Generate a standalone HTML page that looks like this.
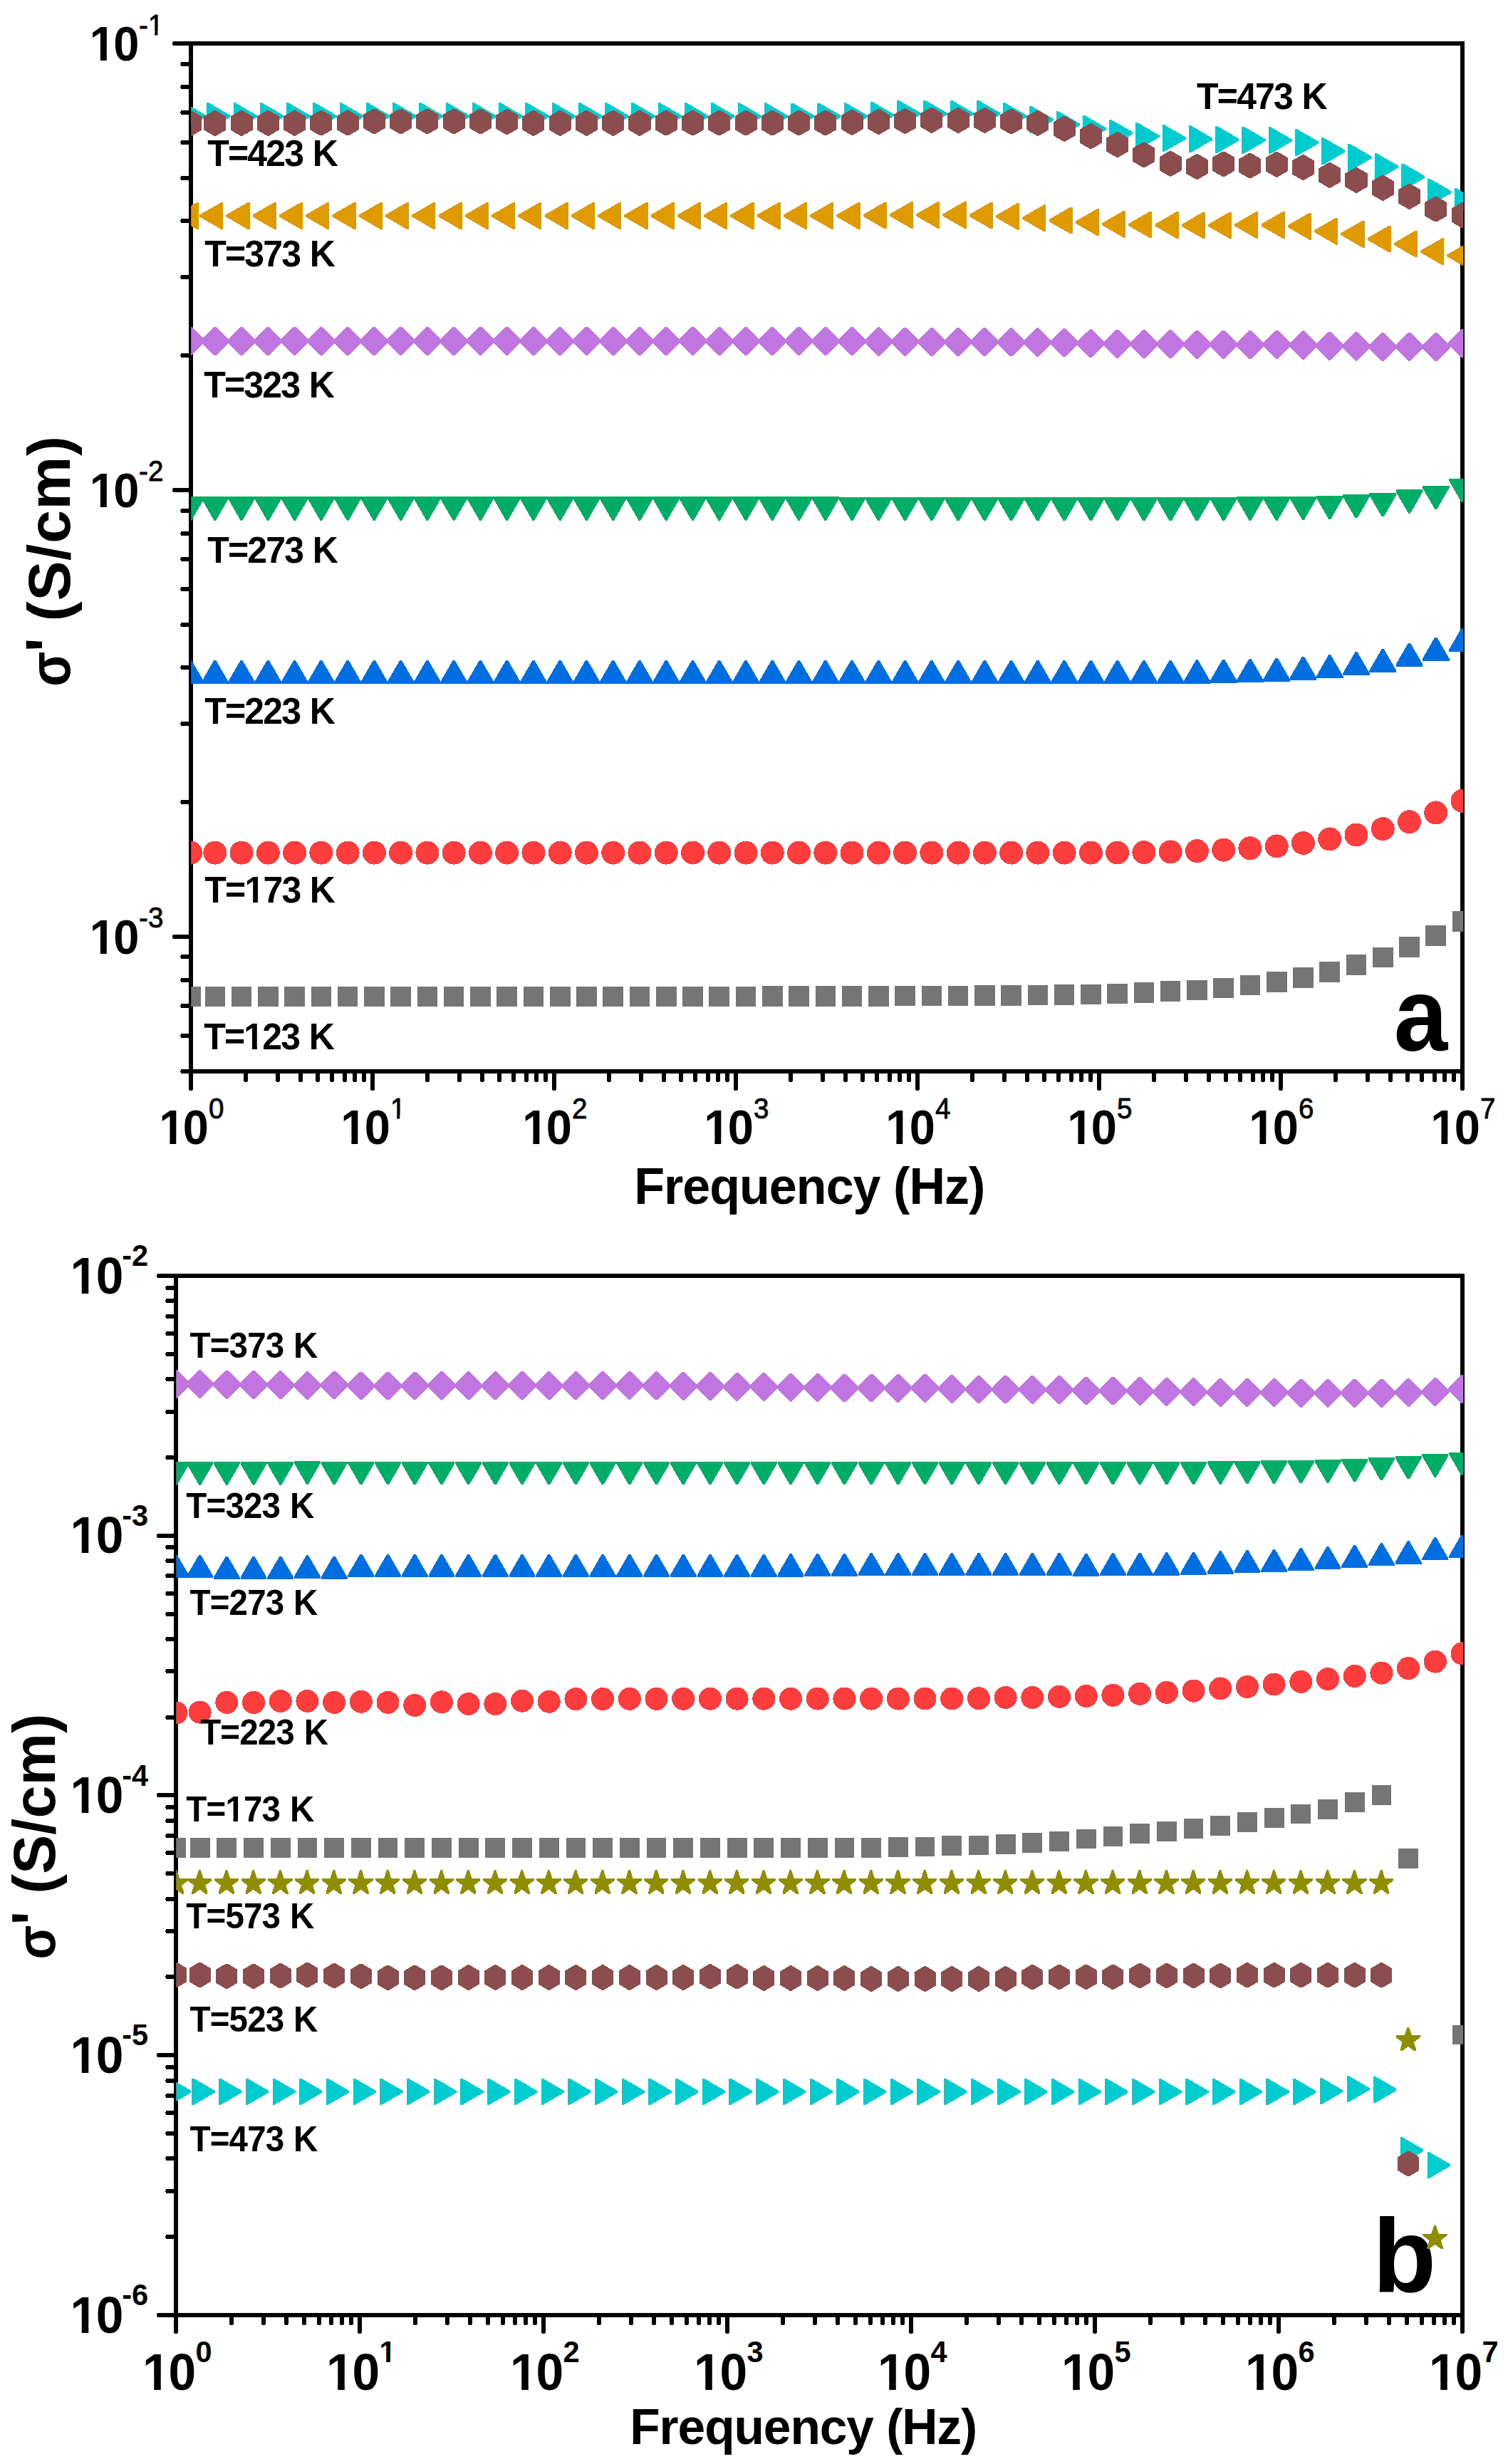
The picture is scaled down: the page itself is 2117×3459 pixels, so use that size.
<!DOCTYPE html>
<html><head><meta charset="utf-8"><title>Conductivity vs frequency</title>
<style>html,body{margin:0;padding:0;background:#fff}svg{display:block}text{font-family:'Liberation Sans',Arial,Helvetica,sans-serif;fill:#000;font-kerning:none;white-space:pre}.b{font-weight:bold}.r{stroke:#000;stroke-width:.8px}</style></head><body>
<svg width="2117" height="3459" viewBox="0 0 2117 3459">
<rect width="2117" height="3459" fill="#fff"/>
<defs><clipPath id="ca"><rect x="268.2" y="61" width="1786.1" height="1443"/></clipPath>
<clipPath id="cb"><rect x="247.2" y="1791" width="1807.1" height="1459"/></clipPath></defs>
<g stroke="#000" stroke-width="6" fill="none" stroke-linecap="round" shape-rendering="crispEdges">
<line x1="268" y1="61" x2="244.5" y2="61"/>
<line x1="268" y1="688" x2="244.5" y2="688"/>
<line x1="268" y1="1315" x2="244.5" y2="1315"/>
<line x1="268" y1="499" x2="256.3" y2="499"/>
<line x1="268" y1="389" x2="256.3" y2="389"/>
<line x1="268" y1="310" x2="256.3" y2="310"/>
<line x1="268" y1="250" x2="256.3" y2="250"/>
<line x1="268" y1="200" x2="256.3" y2="200"/>
<line x1="268" y1="158" x2="256.3" y2="158"/>
<line x1="268" y1="122" x2="256.3" y2="122"/>
<line x1="268" y1="90" x2="256.3" y2="90"/>
<line x1="268" y1="1126" x2="256.3" y2="1126"/>
<line x1="268" y1="1016" x2="256.3" y2="1016"/>
<line x1="268" y1="937" x2="256.3" y2="937"/>
<line x1="268" y1="877" x2="256.3" y2="877"/>
<line x1="268" y1="827" x2="256.3" y2="827"/>
<line x1="268" y1="785" x2="256.3" y2="785"/>
<line x1="268" y1="749" x2="256.3" y2="749"/>
<line x1="268" y1="717" x2="256.3" y2="717"/>
<line x1="268" y1="1504" x2="256.3" y2="1504"/>
<line x1="268" y1="1454" x2="256.3" y2="1454"/>
<line x1="268" y1="1412" x2="256.3" y2="1412"/>
<line x1="268" y1="1376" x2="256.3" y2="1376"/>
<line x1="268" y1="1343" x2="256.3" y2="1343"/>
<line x1="268" y1="1504" x2="268" y2="1528.4"/>
<line x1="345" y1="1504" x2="345" y2="1516"/>
<line x1="390" y1="1504" x2="390" y2="1516"/>
<line x1="422" y1="1504" x2="422" y2="1516"/>
<line x1="446" y1="1504" x2="446" y2="1516"/>
<line x1="466" y1="1504" x2="466" y2="1516"/>
<line x1="484" y1="1504" x2="484" y2="1516"/>
<line x1="498" y1="1504" x2="498" y2="1516"/>
<line x1="511" y1="1504" x2="511" y2="1516"/>
<line x1="523" y1="1504" x2="523" y2="1528.4"/>
<line x1="600" y1="1504" x2="600" y2="1516"/>
<line x1="645" y1="1504" x2="645" y2="1516"/>
<line x1="677" y1="1504" x2="677" y2="1516"/>
<line x1="701" y1="1504" x2="701" y2="1516"/>
<line x1="721" y1="1504" x2="721" y2="1516"/>
<line x1="739" y1="1504" x2="739" y2="1516"/>
<line x1="753" y1="1504" x2="753" y2="1516"/>
<line x1="766" y1="1504" x2="766" y2="1516"/>
<line x1="778" y1="1504" x2="778" y2="1528.4"/>
<line x1="855" y1="1504" x2="855" y2="1516"/>
<line x1="900" y1="1504" x2="900" y2="1516"/>
<line x1="932" y1="1504" x2="932" y2="1516"/>
<line x1="956" y1="1504" x2="956" y2="1516"/>
<line x1="976" y1="1504" x2="976" y2="1516"/>
<line x1="994" y1="1504" x2="994" y2="1516"/>
<line x1="1008" y1="1504" x2="1008" y2="1516"/>
<line x1="1021" y1="1504" x2="1021" y2="1516"/>
<line x1="1033" y1="1504" x2="1033" y2="1528.4"/>
<line x1="1110" y1="1504" x2="1110" y2="1516"/>
<line x1="1155" y1="1504" x2="1155" y2="1516"/>
<line x1="1187" y1="1504" x2="1187" y2="1516"/>
<line x1="1211" y1="1504" x2="1211" y2="1516"/>
<line x1="1231" y1="1504" x2="1231" y2="1516"/>
<line x1="1249" y1="1504" x2="1249" y2="1516"/>
<line x1="1263" y1="1504" x2="1263" y2="1516"/>
<line x1="1276" y1="1504" x2="1276" y2="1516"/>
<line x1="1288" y1="1504" x2="1288" y2="1528.4"/>
<line x1="1365" y1="1504" x2="1365" y2="1516"/>
<line x1="1410" y1="1504" x2="1410" y2="1516"/>
<line x1="1442" y1="1504" x2="1442" y2="1516"/>
<line x1="1466" y1="1504" x2="1466" y2="1516"/>
<line x1="1486" y1="1504" x2="1486" y2="1516"/>
<line x1="1504" y1="1504" x2="1504" y2="1516"/>
<line x1="1518" y1="1504" x2="1518" y2="1516"/>
<line x1="1531" y1="1504" x2="1531" y2="1516"/>
<line x1="1543" y1="1504" x2="1543" y2="1528.4"/>
<line x1="1620" y1="1504" x2="1620" y2="1516"/>
<line x1="1665" y1="1504" x2="1665" y2="1516"/>
<line x1="1697" y1="1504" x2="1697" y2="1516"/>
<line x1="1721" y1="1504" x2="1721" y2="1516"/>
<line x1="1741" y1="1504" x2="1741" y2="1516"/>
<line x1="1759" y1="1504" x2="1759" y2="1516"/>
<line x1="1773" y1="1504" x2="1773" y2="1516"/>
<line x1="1786" y1="1504" x2="1786" y2="1516"/>
<line x1="1798" y1="1504" x2="1798" y2="1528.4"/>
<line x1="1875" y1="1504" x2="1875" y2="1516"/>
<line x1="1920" y1="1504" x2="1920" y2="1516"/>
<line x1="1952" y1="1504" x2="1952" y2="1516"/>
<line x1="1976" y1="1504" x2="1976" y2="1516"/>
<line x1="1996" y1="1504" x2="1996" y2="1516"/>
<line x1="2014" y1="1504" x2="2014" y2="1516"/>
<line x1="2028" y1="1504" x2="2028" y2="1516"/>
<line x1="2041" y1="1504" x2="2041" y2="1516"/>
<line x1="2053" y1="1504" x2="2053" y2="1528.4"/>
</g>
<rect x="268" y="61" width="1785" height="1443" fill="none" stroke="#000" stroke-width="6" shape-rendering="crispEdges"/>
<g transform="translate(1960.7,1475.2) scale(0.93,1)"><text class="b" x="-4.2" y="0" font-size="146">a</text></g>
<text class="b" x="1927.1" y="3216.7" font-size="146">b</text>
<g clip-path="url(#ca)" shape-rendering="crispEdges">
<rect x="253.3" y="1384.6" width="28.6" height="28.6" fill="#757575"/>
<rect x="287.5" y="1384.6" width="28.6" height="28.6" fill="#757575"/>
<rect x="324.7" y="1384.6" width="28.6" height="28.6" fill="#757575"/>
<rect x="362" y="1384.6" width="28.6" height="28.6" fill="#757575"/>
<rect x="399.3" y="1384.6" width="28.6" height="28.6" fill="#757575"/>
<rect x="436.5" y="1384.6" width="28.6" height="28.6" fill="#757575"/>
<rect x="473.8" y="1384.6" width="28.6" height="28.6" fill="#757575"/>
<rect x="511" y="1384.6" width="28.6" height="28.6" fill="#757575"/>
<rect x="548.3" y="1384.6" width="28.6" height="28.6" fill="#757575"/>
<rect x="585.6" y="1384.6" width="28.6" height="28.6" fill="#757575"/>
<rect x="622.8" y="1384.6" width="28.6" height="28.6" fill="#757575"/>
<rect x="660.1" y="1384.6" width="28.6" height="28.6" fill="#757575"/>
<rect x="697.3" y="1384.6" width="28.6" height="28.6" fill="#757575"/>
<rect x="734.6" y="1384.6" width="28.6" height="28.6" fill="#757575"/>
<rect x="771.9" y="1384.6" width="28.6" height="28.6" fill="#757575"/>
<rect x="809.1" y="1384.6" width="28.6" height="28.6" fill="#757575"/>
<rect x="846.4" y="1384.6" width="28.6" height="28.6" fill="#757575"/>
<rect x="883.6" y="1384.6" width="28.6" height="28.6" fill="#757575"/>
<rect x="920.9" y="1384.6" width="28.6" height="28.6" fill="#757575"/>
<rect x="958.2" y="1384.6" width="28.6" height="28.6" fill="#757575"/>
<rect x="995.4" y="1384.6" width="28.6" height="28.6" fill="#757575"/>
<rect x="1032.7" y="1384.5" width="28.6" height="28.6" fill="#757575"/>
<rect x="1069.9" y="1384.4" width="28.6" height="28.6" fill="#757575"/>
<rect x="1107.2" y="1384.3" width="28.6" height="28.6" fill="#757575"/>
<rect x="1144.5" y="1384.2" width="28.6" height="28.6" fill="#757575"/>
<rect x="1181.7" y="1384" width="28.6" height="28.6" fill="#757575"/>
<rect x="1219" y="1383.9" width="28.6" height="28.6" fill="#757575"/>
<rect x="1256.2" y="1383.8" width="28.6" height="28.6" fill="#757575"/>
<rect x="1293.5" y="1383.7" width="28.6" height="28.6" fill="#757575"/>
<rect x="1330.8" y="1383.5" width="28.6" height="28.6" fill="#757575"/>
<rect x="1368" y="1383.2" width="28.6" height="28.6" fill="#757575"/>
<rect x="1405.3" y="1382.9" width="28.6" height="28.6" fill="#757575"/>
<rect x="1442.5" y="1382.6" width="28.6" height="28.6" fill="#757575"/>
<rect x="1479.8" y="1382.1" width="28.6" height="28.6" fill="#757575"/>
<rect x="1517.1" y="1381.6" width="28.6" height="28.6" fill="#757575"/>
<rect x="1554.3" y="1380.5" width="28.6" height="28.6" fill="#757575"/>
<rect x="1591.6" y="1379.4" width="28.6" height="28.6" fill="#757575"/>
<rect x="1628.8" y="1377.3" width="28.6" height="28.6" fill="#757575"/>
<rect x="1666.1" y="1375.7" width="28.6" height="28.6" fill="#757575"/>
<rect x="1703.4" y="1372.5" width="28.6" height="28.6" fill="#757575"/>
<rect x="1740.6" y="1368.8" width="28.6" height="28.6" fill="#757575"/>
<rect x="1777.9" y="1364.1" width="28.6" height="28.6" fill="#757575"/>
<rect x="1815.1" y="1358" width="28.6" height="28.6" fill="#757575"/>
<rect x="1852.4" y="1350.3" width="28.6" height="28.6" fill="#757575"/>
<rect x="1889.7" y="1340.2" width="28.6" height="28.6" fill="#757575"/>
<rect x="1926.9" y="1329.6" width="28.6" height="28.6" fill="#757575"/>
<rect x="1964.2" y="1315.2" width="28.6" height="28.6" fill="#757575"/>
<rect x="2001.4" y="1299.3" width="28.6" height="28.6" fill="#757575"/>
<rect x="2038.7" y="1279.2" width="28.6" height="28.6" fill="#757575"/>
<circle cx="267.6" cy="1197.1" r="16.5" fill="#FD3D3D"/>
<circle cx="301.8" cy="1197.1" r="16.5" fill="#FD3D3D"/>
<circle cx="339" cy="1197.1" r="16.5" fill="#FD3D3D"/>
<circle cx="376.3" cy="1197.1" r="16.5" fill="#FD3D3D"/>
<circle cx="413.6" cy="1197.1" r="16.5" fill="#FD3D3D"/>
<circle cx="450.8" cy="1197.1" r="16.5" fill="#FD3D3D"/>
<circle cx="488.1" cy="1197.1" r="16.5" fill="#FD3D3D"/>
<circle cx="525.3" cy="1197.1" r="16.5" fill="#FD3D3D"/>
<circle cx="562.6" cy="1197.1" r="16.5" fill="#FD3D3D"/>
<circle cx="599.9" cy="1197.1" r="16.5" fill="#FD3D3D"/>
<circle cx="637.1" cy="1197.1" r="16.5" fill="#FD3D3D"/>
<circle cx="674.4" cy="1197.1" r="16.5" fill="#FD3D3D"/>
<circle cx="711.6" cy="1197.1" r="16.5" fill="#FD3D3D"/>
<circle cx="748.9" cy="1197.1" r="16.5" fill="#FD3D3D"/>
<circle cx="786.2" cy="1197.1" r="16.5" fill="#FD3D3D"/>
<circle cx="823.4" cy="1197.1" r="16.5" fill="#FD3D3D"/>
<circle cx="860.7" cy="1197.1" r="16.5" fill="#FD3D3D"/>
<circle cx="897.9" cy="1197.1" r="16.5" fill="#FD3D3D"/>
<circle cx="935.2" cy="1197.1" r="16.5" fill="#FD3D3D"/>
<circle cx="972.5" cy="1197.1" r="16.5" fill="#FD3D3D"/>
<circle cx="1009.7" cy="1197.1" r="16.5" fill="#FD3D3D"/>
<circle cx="1047" cy="1197.1" r="16.5" fill="#FD3D3D"/>
<circle cx="1084.2" cy="1197.1" r="16.5" fill="#FD3D3D"/>
<circle cx="1121.5" cy="1197.1" r="16.5" fill="#FD3D3D"/>
<circle cx="1158.8" cy="1197.1" r="16.5" fill="#FD3D3D"/>
<circle cx="1196" cy="1197.1" r="16.5" fill="#FD3D3D"/>
<circle cx="1233.3" cy="1197.1" r="16.5" fill="#FD3D3D"/>
<circle cx="1270.5" cy="1197.1" r="16.5" fill="#FD3D3D"/>
<circle cx="1307.8" cy="1197.1" r="16.5" fill="#FD3D3D"/>
<circle cx="1345.1" cy="1197.1" r="16.5" fill="#FD3D3D"/>
<circle cx="1382.3" cy="1197.1" r="16.5" fill="#FD3D3D"/>
<circle cx="1419.6" cy="1197.1" r="16.5" fill="#FD3D3D"/>
<circle cx="1456.8" cy="1197.1" r="16.5" fill="#FD3D3D"/>
<circle cx="1494.1" cy="1197.1" r="16.5" fill="#FD3D3D"/>
<circle cx="1531.4" cy="1197.1" r="16.5" fill="#FD3D3D"/>
<circle cx="1568.6" cy="1197" r="16.5" fill="#FD3D3D"/>
<circle cx="1605.9" cy="1196.6" r="16.5" fill="#FD3D3D"/>
<circle cx="1643.1" cy="1195.9" r="16.5" fill="#FD3D3D"/>
<circle cx="1680.4" cy="1194.7" r="16.5" fill="#FD3D3D"/>
<circle cx="1717.7" cy="1193.1" r="16.5" fill="#FD3D3D"/>
<circle cx="1754.9" cy="1190.7" r="16.5" fill="#FD3D3D"/>
<circle cx="1792.2" cy="1187.9" r="16.5" fill="#FD3D3D"/>
<circle cx="1829.4" cy="1183.5" r="16.5" fill="#FD3D3D"/>
<circle cx="1866.7" cy="1177.9" r="16.5" fill="#FD3D3D"/>
<circle cx="1904" cy="1172" r="16.5" fill="#FD3D3D"/>
<circle cx="1941.2" cy="1163.6" r="16.5" fill="#FD3D3D"/>
<circle cx="1978.5" cy="1153.7" r="16.5" fill="#FD3D3D"/>
<circle cx="2015.7" cy="1140.9" r="16.5" fill="#FD3D3D"/>
<circle cx="2053" cy="1124.2" r="16.5" fill="#FD3D3D"/>
<polygon points="248.7,957.2 266.2,926.9 269,926.9 286.5,957.2 286.5,960 248.7,960" fill="#006EE0"/>
<polygon points="282.8,957.2 300.4,926.9 303.2,926.9 320.7,957.2 320.7,960 282.8,960" fill="#006EE0"/>
<polygon points="320.1,957.2 337.6,926.9 340.4,926.9 358,957.2 358,960 320.1,960" fill="#006EE0"/>
<polygon points="357.4,957.2 374.9,926.9 377.7,926.9 395.2,957.2 395.2,960 357.4,960" fill="#006EE0"/>
<polygon points="394.6,957.2 412.2,926.9 415,926.9 432.5,957.2 432.5,960 394.6,960" fill="#006EE0"/>
<polygon points="431.9,957.2 449.4,926.9 452.2,926.9 469.8,957.2 469.8,960 431.9,960" fill="#006EE0"/>
<polygon points="469.1,957.2 486.7,926.9 489.5,926.9 507,957.2 507,960 469.1,960" fill="#006EE0"/>
<polygon points="506.4,957.2 523.9,926.9 526.7,926.9 544.3,957.2 544.3,960 506.4,960" fill="#006EE0"/>
<polygon points="543.7,957.2 561.2,926.9 564,926.9 581.5,957.2 581.5,960 543.7,960" fill="#006EE0"/>
<polygon points="580.9,957.2 598.5,926.9 601.3,926.9 618.8,957.2 618.8,960 580.9,960" fill="#006EE0"/>
<polygon points="618.2,957.2 635.7,926.9 638.5,926.9 656.1,957.2 656.1,960 618.2,960" fill="#006EE0"/>
<polygon points="655.4,957.2 673,926.9 675.8,926.9 693.3,957.2 693.3,960 655.4,960" fill="#006EE0"/>
<polygon points="692.7,957.2 710.2,926.9 713,926.9 730.6,957.2 730.6,960 692.7,960" fill="#006EE0"/>
<polygon points="730,957.2 747.5,926.9 750.3,926.9 767.8,957.2 767.8,960 730,960" fill="#006EE0"/>
<polygon points="767.2,957.2 784.8,926.9 787.6,926.9 805.1,957.2 805.1,960 767.2,960" fill="#006EE0"/>
<polygon points="804.5,957.2 822,926.9 824.8,926.9 842.4,957.2 842.4,960 804.5,960" fill="#006EE0"/>
<polygon points="841.7,957.2 859.3,926.9 862.1,926.9 879.6,957.2 879.6,960 841.7,960" fill="#006EE0"/>
<polygon points="879,957.2 896.5,926.9 899.3,926.9 916.9,957.2 916.9,960 879,960" fill="#006EE0"/>
<polygon points="916.3,957.2 933.8,926.9 936.6,926.9 954.1,957.2 954.1,960 916.3,960" fill="#006EE0"/>
<polygon points="953.5,957.2 971.1,926.9 973.9,926.9 991.4,957.2 991.4,960 953.5,960" fill="#006EE0"/>
<polygon points="990.8,957.2 1008.3,926.9 1011.1,926.9 1028.7,957.2 1028.7,960 990.8,960" fill="#006EE0"/>
<polygon points="1028,957.2 1045.6,926.9 1048.4,926.9 1065.9,957.2 1065.9,960 1028,960" fill="#006EE0"/>
<polygon points="1065.3,957.2 1082.8,926.9 1085.6,926.9 1103.2,957.2 1103.2,960 1065.3,960" fill="#006EE0"/>
<polygon points="1102.6,957.2 1120.1,926.9 1122.9,926.9 1140.4,957.2 1140.4,960 1102.6,960" fill="#006EE0"/>
<polygon points="1139.8,957.2 1157.4,926.9 1160.2,926.9 1177.7,957.2 1177.7,960 1139.8,960" fill="#006EE0"/>
<polygon points="1177.1,957.2 1194.6,926.9 1197.4,926.9 1215,957.2 1215,960 1177.1,960" fill="#006EE0"/>
<polygon points="1214.3,957.2 1231.9,926.9 1234.7,926.9 1252.2,957.2 1252.2,960 1214.3,960" fill="#006EE0"/>
<polygon points="1251.6,957.2 1269.1,926.9 1271.9,926.9 1289.5,957.2 1289.5,960 1251.6,960" fill="#006EE0"/>
<polygon points="1288.9,957.2 1306.4,926.9 1309.2,926.9 1326.7,957.2 1326.7,960 1288.9,960" fill="#006EE0"/>
<polygon points="1326.1,957.2 1343.7,926.9 1346.5,926.9 1364,957.2 1364,960 1326.1,960" fill="#006EE0"/>
<polygon points="1363.4,957.2 1380.9,926.9 1383.7,926.9 1401.3,957.2 1401.3,960 1363.4,960" fill="#006EE0"/>
<polygon points="1400.6,957.2 1418.2,926.9 1421,926.9 1438.5,957.2 1438.5,960 1400.6,960" fill="#006EE0"/>
<polygon points="1437.9,957.2 1455.4,926.9 1458.2,926.9 1475.8,957.2 1475.8,960 1437.9,960" fill="#006EE0"/>
<polygon points="1475.2,957.2 1492.7,926.9 1495.5,926.9 1513,957.2 1513,960 1475.2,960" fill="#006EE0"/>
<polygon points="1512.4,957.2 1530,926.9 1532.8,926.9 1550.3,957.2 1550.3,960 1512.4,960" fill="#006EE0"/>
<polygon points="1549.7,957.2 1567.2,926.9 1570,926.9 1587.6,957.2 1587.6,960 1549.7,960" fill="#006EE0"/>
<polygon points="1586.9,957.2 1604.5,926.9 1607.3,926.9 1624.8,957.2 1624.8,960 1586.9,960" fill="#006EE0"/>
<polygon points="1624.2,957.1 1641.7,926.8 1644.5,926.8 1662.1,957.1 1662.1,959.9 1624.2,959.9" fill="#006EE0"/>
<polygon points="1661.5,956.7 1679,926.4 1681.8,926.4 1699.3,956.7 1699.3,959.5 1661.5,959.5" fill="#006EE0"/>
<polygon points="1698.7,955.9 1716.3,925.5 1719.1,925.5 1736.6,955.9 1736.6,958.7 1698.7,958.7" fill="#006EE0"/>
<polygon points="1736,955.1 1753.5,924.8 1756.3,924.8 1773.9,955.1 1773.9,957.9 1736,957.9" fill="#006EE0"/>
<polygon points="1773.2,953.9 1790.8,923.5 1793.6,923.5 1811.1,953.9 1811.1,956.7 1773.2,956.7" fill="#006EE0"/>
<polygon points="1810.5,951.9 1828,921.5 1830.8,921.5 1848.4,951.9 1848.4,954.7 1810.5,954.7" fill="#006EE0"/>
<polygon points="1847.8,949.5 1865.3,919.1 1868.1,919.1 1885.6,949.5 1885.6,952.3 1847.8,952.3" fill="#006EE0"/>
<polygon points="1885,945.5 1902.6,915.1 1905.4,915.1 1922.9,945.5 1922.9,948.3 1885,948.3" fill="#006EE0"/>
<polygon points="1922.3,941.2 1939.8,910.9 1942.6,910.9 1960.2,941.2 1960.2,944 1922.3,944" fill="#006EE0"/>
<polygon points="1959.5,932.8 1977.1,902.5 1979.9,902.5 1997.4,932.8 1997.4,935.6 1959.5,935.6" fill="#006EE0"/>
<polygon points="1996.8,924.8 2014.3,894.5 2017.1,894.5 2034.7,924.8 2034.7,927.6 1996.8,927.6" fill="#006EE0"/>
<polygon points="2034.1,912.1 2051.6,881.8 2054.4,881.8 2071.9,912.1 2071.9,914.9 2034.1,914.9" fill="#006EE0"/>
<polygon points="248.7,697.3 286.5,697.3 286.5,700.1 269,730.5 266.2,730.5 248.7,700.1" fill="#00AD66"/>
<polygon points="282.8,697.3 320.7,697.3 320.7,700.1 303.2,730.5 300.4,730.5 282.8,700.1" fill="#00AD66"/>
<polygon points="320.1,697.3 358,697.3 358,700.1 340.4,730.5 337.6,730.5 320.1,700.1" fill="#00AD66"/>
<polygon points="357.4,697.3 395.2,697.3 395.2,700.1 377.7,730.5 374.9,730.5 357.4,700.1" fill="#00AD66"/>
<polygon points="394.6,697.3 432.5,697.3 432.5,700.1 415,730.5 412.2,730.5 394.6,700.1" fill="#00AD66"/>
<polygon points="431.9,697.3 469.8,697.3 469.8,700.1 452.2,730.5 449.4,730.5 431.9,700.1" fill="#00AD66"/>
<polygon points="469.1,697.3 507,697.3 507,700.1 489.5,730.5 486.7,730.5 469.1,700.1" fill="#00AD66"/>
<polygon points="506.4,697.3 544.3,697.3 544.3,700.1 526.7,730.5 523.9,730.5 506.4,700.1" fill="#00AD66"/>
<polygon points="543.7,697.3 581.5,697.3 581.5,700.1 564,730.5 561.2,730.5 543.7,700.1" fill="#00AD66"/>
<polygon points="580.9,697.3 618.8,697.3 618.8,700.1 601.3,730.5 598.5,730.5 580.9,700.1" fill="#00AD66"/>
<polygon points="618.2,697.3 656.1,697.3 656.1,700.1 638.5,730.5 635.7,730.5 618.2,700.1" fill="#00AD66"/>
<polygon points="655.4,697.3 693.3,697.3 693.3,700.1 675.8,730.5 673,730.5 655.4,700.1" fill="#00AD66"/>
<polygon points="692.7,697.3 730.6,697.3 730.6,700.1 713,730.5 710.2,730.5 692.7,700.1" fill="#00AD66"/>
<polygon points="730,697.3 767.8,697.3 767.8,700.1 750.3,730.5 747.5,730.5 730,700.1" fill="#00AD66"/>
<polygon points="767.2,697.3 805.1,697.3 805.1,700.1 787.6,730.5 784.8,730.5 767.2,700.1" fill="#00AD66"/>
<polygon points="804.5,697.3 842.4,697.3 842.4,700.1 824.8,730.5 822,730.5 804.5,700.1" fill="#00AD66"/>
<polygon points="841.7,697.3 879.6,697.3 879.6,700.1 862.1,730.5 859.3,730.5 841.7,700.1" fill="#00AD66"/>
<polygon points="879,697.3 916.9,697.3 916.9,700.1 899.3,730.5 896.5,730.5 879,700.1" fill="#00AD66"/>
<polygon points="916.3,697.4 954.1,697.4 954.1,700.1 936.6,730.5 933.8,730.5 916.3,700.1" fill="#00AD66"/>
<polygon points="953.5,697.4 991.4,697.4 991.4,700.2 973.9,730.5 971.1,730.5 953.5,700.2" fill="#00AD66"/>
<polygon points="990.8,697.4 1028.7,697.4 1028.7,700.2 1011.1,730.5 1008.3,730.5 990.8,700.2" fill="#00AD66"/>
<polygon points="1028,697.4 1065.9,697.4 1065.9,700.2 1048.4,730.5 1045.6,730.5 1028,700.2" fill="#00AD66"/>
<polygon points="1065.3,697.4 1103.2,697.4 1103.2,700.2 1085.6,730.5 1082.8,730.5 1065.3,700.2" fill="#00AD66"/>
<polygon points="1102.6,697.4 1140.4,697.4 1140.4,700.2 1122.9,730.5 1120.1,730.5 1102.6,700.2" fill="#00AD66"/>
<polygon points="1139.8,697.4 1177.7,697.4 1177.7,700.2 1160.2,730.5 1157.4,730.5 1139.8,700.2" fill="#00AD66"/>
<polygon points="1177.1,697.5 1215,697.5 1215,700.3 1197.4,730.7 1194.6,730.7 1177.1,700.3" fill="#00AD66"/>
<polygon points="1214.3,697.6 1252.2,697.6 1252.2,700.4 1234.7,730.8 1231.9,730.8 1214.3,700.4" fill="#00AD66"/>
<polygon points="1251.6,697.8 1289.5,697.8 1289.5,700.5 1271.9,730.9 1269.1,730.9 1251.6,700.5" fill="#00AD66"/>
<polygon points="1288.9,697.9 1326.7,697.9 1326.7,700.7 1309.2,731 1306.4,731 1288.9,700.7" fill="#00AD66"/>
<polygon points="1326.1,697.9 1364,697.9 1364,700.7 1346.5,731.1 1343.7,731.1 1326.1,700.7" fill="#00AD66"/>
<polygon points="1363.4,697.9 1401.3,697.9 1401.3,700.7 1383.7,731.1 1380.9,731.1 1363.4,700.7" fill="#00AD66"/>
<polygon points="1400.6,698 1438.5,698 1438.5,700.8 1421,731.1 1418.2,731.1 1400.6,700.8" fill="#00AD66"/>
<polygon points="1437.9,698 1475.8,698 1475.8,700.8 1458.2,731.2 1455.4,731.2 1437.9,700.8" fill="#00AD66"/>
<polygon points="1475.2,698 1513,698 1513,700.8 1495.5,731.2 1492.7,731.2 1475.2,700.8" fill="#00AD66"/>
<polygon points="1512.4,698.1 1550.3,698.1 1550.3,700.9 1532.8,731.2 1530,731.2 1512.4,700.9" fill="#00AD66"/>
<polygon points="1549.7,698.1 1587.6,698.1 1587.6,700.9 1570,731.3 1567.2,731.3 1549.7,700.9" fill="#00AD66"/>
<polygon points="1586.9,698.1 1624.8,698.1 1624.8,700.9 1607.3,731.3 1604.5,731.3 1586.9,700.9" fill="#00AD66"/>
<polygon points="1624.2,698.1 1662.1,698.1 1662.1,700.9 1644.5,731.3 1641.7,731.3 1624.2,700.9" fill="#00AD66"/>
<polygon points="1661.5,698.2 1699.3,698.2 1699.3,701 1681.8,731.4 1679,731.4 1661.5,701" fill="#00AD66"/>
<polygon points="1698.7,697.8 1736.6,697.8 1736.6,700.6 1719.1,731 1716.3,731 1698.7,700.6" fill="#00AD66"/>
<polygon points="1736,697.4 1773.9,697.4 1773.9,700.2 1756.3,730.5 1753.5,730.5 1736,700.2" fill="#00AD66"/>
<polygon points="1773.2,697.4 1811.1,697.4 1811.1,700.2 1793.6,730.5 1790.8,730.5 1773.2,700.2" fill="#00AD66"/>
<polygon points="1810.5,696.6 1848.4,696.6 1848.4,699.4 1830.8,729.8 1828,729.8 1810.5,699.4" fill="#00AD66"/>
<polygon points="1847.8,695.8 1885.6,695.8 1885.6,698.6 1868.1,729 1865.3,729 1847.8,698.6" fill="#00AD66"/>
<polygon points="1885,694.2 1922.9,694.2 1922.9,697 1905.4,727.4 1902.6,727.4 1885,697" fill="#00AD66"/>
<polygon points="1922.3,692.2 1960.2,692.2 1960.2,695 1942.6,725.4 1939.8,725.4 1922.3,695" fill="#00AD66"/>
<polygon points="1959.5,687.4 1997.4,687.4 1997.4,690.2 1979.9,720.5 1977.1,720.5 1959.5,690.2" fill="#00AD66"/>
<polygon points="1996.8,681.8 2034.7,681.8 2034.7,684.6 2017.1,715 2014.3,715 1996.8,684.6" fill="#00AD66"/>
<polygon points="2034.1,671.9 2071.9,671.9 2071.9,674.7 2054.4,705 2051.6,705 2034.1,674.7" fill="#00AD66"/>
<polygon points="247.5,477.5 266.2,458.8 269,458.8 287.7,477.5 287.7,480.3 269,499 266.2,499 247.5,480.3" fill="#C175E0"/>
<polygon points="281.7,477.5 300.4,458.8 303.2,458.8 321.9,477.5 321.9,480.3 303.2,499 300.4,499 281.7,480.3" fill="#C175E0"/>
<polygon points="318.9,477.5 337.6,458.8 340.4,458.8 359.1,477.5 359.1,480.3 340.4,499 337.6,499 318.9,480.3" fill="#C175E0"/>
<polygon points="356.2,477.5 374.9,458.8 377.7,458.8 396.4,477.5 396.4,480.3 377.7,499 374.9,499 356.2,480.3" fill="#C175E0"/>
<polygon points="393.5,477.5 412.2,458.8 415,458.8 433.7,477.5 433.7,480.3 415,499 412.2,499 393.5,480.3" fill="#C175E0"/>
<polygon points="430.7,477.5 449.4,458.8 452.2,458.8 470.9,477.5 470.9,480.3 452.2,499 449.4,499 430.7,480.3" fill="#C175E0"/>
<polygon points="468,477.5 486.7,458.8 489.5,458.8 508.2,477.5 508.2,480.3 489.5,499 486.7,499 468,480.3" fill="#C175E0"/>
<polygon points="505.2,477.5 523.9,458.8 526.7,458.8 545.4,477.5 545.4,480.3 526.7,499 523.9,499 505.2,480.3" fill="#C175E0"/>
<polygon points="542.5,477.5 561.2,458.8 564,458.8 582.7,477.5 582.7,480.3 564,499 561.2,499 542.5,480.3" fill="#C175E0"/>
<polygon points="579.8,477.5 598.5,458.8 601.3,458.8 620,477.5 620,480.3 601.3,499 598.5,499 579.8,480.3" fill="#C175E0"/>
<polygon points="617,477.5 635.7,458.8 638.5,458.8 657.2,477.5 657.2,480.3 638.5,499 635.7,499 617,480.3" fill="#C175E0"/>
<polygon points="654.3,477.5 673,458.8 675.8,458.8 694.5,477.5 694.5,480.3 675.8,499 673,499 654.3,480.3" fill="#C175E0"/>
<polygon points="691.5,477.5 710.2,458.8 713,458.8 731.7,477.5 731.7,480.3 713,499 710.2,499 691.5,480.3" fill="#C175E0"/>
<polygon points="728.8,477.5 747.5,458.8 750.3,458.8 769,477.5 769,480.3 750.3,499 747.5,499 728.8,480.3" fill="#C175E0"/>
<polygon points="766.1,477.5 784.8,458.8 787.6,458.8 806.3,477.5 806.3,480.3 787.6,499 784.8,499 766.1,480.3" fill="#C175E0"/>
<polygon points="803.3,477.5 822,458.8 824.8,458.8 843.5,477.5 843.5,480.3 824.8,499 822,499 803.3,480.3" fill="#C175E0"/>
<polygon points="840.6,477.5 859.3,458.8 862.1,458.8 880.8,477.5 880.8,480.3 862.1,499 859.3,499 840.6,480.3" fill="#C175E0"/>
<polygon points="877.8,477.5 896.5,458.8 899.3,458.8 918,477.5 918,480.3 899.3,499 896.5,499 877.8,480.3" fill="#C175E0"/>
<polygon points="915.1,477.5 933.8,458.8 936.6,458.8 955.3,477.5 955.3,480.3 936.6,499 933.8,499 915.1,480.3" fill="#C175E0"/>
<polygon points="952.4,477.5 971.1,458.8 973.9,458.8 992.6,477.5 992.6,480.3 973.9,499 971.1,499 952.4,480.3" fill="#C175E0"/>
<polygon points="989.6,477.5 1008.3,458.8 1011.1,458.8 1029.8,477.5 1029.8,480.3 1011.1,499 1008.3,499 989.6,480.3" fill="#C175E0"/>
<polygon points="1026.9,477.5 1045.6,458.8 1048.4,458.8 1067.1,477.5 1067.1,480.3 1048.4,499 1045.6,499 1026.9,480.3" fill="#C175E0"/>
<polygon points="1064.1,477.5 1082.8,458.8 1085.6,458.8 1104.3,477.5 1104.3,480.3 1085.6,499 1082.8,499 1064.1,480.3" fill="#C175E0"/>
<polygon points="1101.4,477.6 1120.1,458.9 1122.9,458.9 1141.6,477.6 1141.6,480.4 1122.9,499.1 1120.1,499.1 1101.4,480.4" fill="#C175E0"/>
<polygon points="1138.7,477.8 1157.4,459.1 1160.2,459.1 1178.9,477.8 1178.9,480.6 1160.2,499.3 1157.4,499.3 1138.7,480.6" fill="#C175E0"/>
<polygon points="1175.9,477.9 1194.6,459.2 1197.4,459.2 1216.1,477.9 1216.1,480.7 1197.4,499.4 1194.6,499.4 1175.9,480.7" fill="#C175E0"/>
<polygon points="1213.2,478.1 1231.9,459.4 1234.7,459.4 1253.4,478.1 1253.4,480.9 1234.7,499.6 1231.9,499.6 1213.2,480.9" fill="#C175E0"/>
<polygon points="1250.4,478.3 1269.1,459.6 1271.9,459.6 1290.6,478.3 1290.6,481.1 1271.9,499.8 1269.1,499.8 1250.4,481.1" fill="#C175E0"/>
<polygon points="1287.7,478.4 1306.4,459.7 1309.2,459.7 1327.9,478.4 1327.9,481.2 1309.2,499.9 1306.4,499.9 1287.7,481.2" fill="#C175E0"/>
<polygon points="1325,478.6 1343.7,459.9 1346.5,459.9 1365.2,478.6 1365.2,481.4 1346.5,500.1 1343.7,500.1 1325,481.4" fill="#C175E0"/>
<polygon points="1362.2,478.8 1380.9,460.1 1383.7,460.1 1402.4,478.8 1402.4,481.6 1383.7,500.3 1380.9,500.3 1362.2,481.6" fill="#C175E0"/>
<polygon points="1399.5,478.9 1418.2,460.2 1421,460.2 1439.7,478.9 1439.7,481.7 1421,500.4 1418.2,500.4 1399.5,481.7" fill="#C175E0"/>
<polygon points="1436.7,479.1 1455.4,460.4 1458.2,460.4 1476.9,479.1 1476.9,481.9 1458.2,500.6 1455.4,500.6 1436.7,481.9" fill="#C175E0"/>
<polygon points="1474,479.5 1492.7,460.8 1495.5,460.8 1514.2,479.5 1514.2,482.3 1495.5,501 1492.7,501 1474,482.3" fill="#C175E0"/>
<polygon points="1511.3,480.7 1530,462 1532.8,462 1551.5,480.7 1551.5,483.5 1532.8,502.2 1530,502.2 1511.3,483.5" fill="#C175E0"/>
<polygon points="1548.5,481.5 1567.2,462.8 1570,462.8 1588.7,481.5 1588.7,484.3 1570,503 1567.2,503 1548.5,484.3" fill="#C175E0"/>
<polygon points="1585.8,481.5 1604.5,462.8 1607.3,462.8 1626,481.5 1626,484.3 1607.3,503 1604.5,503 1585.8,484.3" fill="#C175E0"/>
<polygon points="1623,481.9 1641.7,463.2 1644.5,463.2 1663.2,481.9 1663.2,484.7 1644.5,503.4 1641.7,503.4 1623,484.7" fill="#C175E0"/>
<polygon points="1660.3,482.3 1679,463.6 1681.8,463.6 1700.5,482.3 1700.5,485.1 1681.8,503.8 1679,503.8 1660.3,485.1" fill="#C175E0"/>
<polygon points="1697.6,482.3 1716.3,463.6 1719.1,463.6 1737.8,482.3 1737.8,485.1 1719.1,503.8 1716.3,503.8 1697.6,485.1" fill="#C175E0"/>
<polygon points="1734.8,482.3 1753.5,463.6 1756.3,463.6 1775,482.3 1775,485.1 1756.3,503.8 1753.5,503.8 1734.8,485.1" fill="#C175E0"/>
<polygon points="1772.1,482.3 1790.8,463.6 1793.6,463.6 1812.3,482.3 1812.3,485.1 1793.6,503.8 1790.8,503.8 1772.1,485.1" fill="#C175E0"/>
<polygon points="1809.3,483.1 1828,464.4 1830.8,464.4 1849.5,483.1 1849.5,485.9 1830.8,504.6 1828,504.6 1809.3,485.9" fill="#C175E0"/>
<polygon points="1846.6,484.3 1865.3,465.6 1868.1,465.6 1886.8,484.3 1886.8,487.1 1868.1,505.8 1865.3,505.8 1846.6,487.1" fill="#C175E0"/>
<polygon points="1883.9,485.1 1902.6,466.4 1905.4,466.4 1924.1,485.1 1924.1,487.9 1905.4,506.6 1902.6,506.6 1883.9,487.9" fill="#C175E0"/>
<polygon points="1921.1,485.5 1939.8,466.8 1942.6,466.8 1961.3,485.5 1961.3,488.3 1942.6,507 1939.8,507 1921.1,488.3" fill="#C175E0"/>
<polygon points="1958.4,485.5 1977.1,466.8 1979.9,466.8 1998.6,485.5 1998.6,488.3 1979.9,507 1977.1,507 1958.4,488.3" fill="#C175E0"/>
<polygon points="1995.6,485.5 2014.3,466.8 2017.1,466.8 2035.8,485.5 2035.8,488.3 2017.1,507 2014.3,507 1995.6,488.3" fill="#C175E0"/>
<polygon points="2032.9,480.3 2051.6,461.6 2054.4,461.6 2073.1,480.3 2073.1,483.1 2054.4,501.8 2051.6,501.8 2032.9,483.1" fill="#C175E0"/>
<polygon points="245.9,301.6 276.3,284.1 279.1,284.1 279.1,321.9 276.3,321.9 245.9,304.4" fill="#DE9A00"/>
<polygon points="280.1,301.6 310.5,284.1 313.3,284.1 313.3,321.9 310.5,321.9 280.1,304.4" fill="#DE9A00"/>
<polygon points="317.4,301.6 347.8,284.1 350.6,284.1 350.6,321.9 347.8,321.9 317.4,304.4" fill="#DE9A00"/>
<polygon points="354.6,301.6 385,284.1 387.8,284.1 387.8,321.9 385,321.9 354.6,304.4" fill="#DE9A00"/>
<polygon points="391.9,301.6 422.3,284.1 425.1,284.1 425.1,321.9 422.3,321.9 391.9,304.4" fill="#DE9A00"/>
<polygon points="429.2,301.6 459.5,284.1 462.3,284.1 462.3,321.9 459.5,321.9 429.2,304.4" fill="#DE9A00"/>
<polygon points="466.4,301.6 496.8,284.1 499.6,284.1 499.6,321.9 496.8,321.9 466.4,304.4" fill="#DE9A00"/>
<polygon points="503.7,301.6 534.1,284.1 536.9,284.1 536.9,321.9 534.1,321.9 503.7,304.4" fill="#DE9A00"/>
<polygon points="541,301.6 571.3,284.1 574.1,284.1 574.1,321.9 571.3,321.9 541,304.4" fill="#DE9A00"/>
<polygon points="578.2,301.6 608.6,284.1 611.4,284.1 611.4,321.9 608.6,321.9 578.2,304.4" fill="#DE9A00"/>
<polygon points="615.5,301.6 645.8,284.1 648.6,284.1 648.6,321.9 645.8,321.9 615.5,304.4" fill="#DE9A00"/>
<polygon points="652.7,301.6 683.1,284.1 685.9,284.1 685.9,321.9 683.1,321.9 652.7,304.4" fill="#DE9A00"/>
<polygon points="690,301.6 720.4,284.1 723.2,284.1 723.2,321.9 720.4,321.9 690,304.4" fill="#DE9A00"/>
<polygon points="727.2,301.6 757.6,284.1 760.4,284.1 760.4,321.9 757.6,321.9 727.2,304.4" fill="#DE9A00"/>
<polygon points="764.5,301.6 794.9,284.1 797.7,284.1 797.7,321.9 794.9,321.9 764.5,304.4" fill="#DE9A00"/>
<polygon points="801.8,301.6 832.1,284.1 834.9,284.1 834.9,321.9 832.1,321.9 801.8,304.4" fill="#DE9A00"/>
<polygon points="839,301.6 869.4,284.1 872.2,284.1 872.2,321.9 869.4,321.9 839,304.4" fill="#DE9A00"/>
<polygon points="876.3,301.6 906.7,284.1 909.5,284.1 909.5,321.9 906.7,321.9 876.3,304.4" fill="#DE9A00"/>
<polygon points="913.5,301.6 943.9,284.1 946.7,284.1 946.7,321.9 943.9,321.9 913.5,304.4" fill="#DE9A00"/>
<polygon points="950.8,301.6 981.2,284.1 984,284.1 984,321.9 981.2,321.9 950.8,304.4" fill="#DE9A00"/>
<polygon points="988.1,301.6 1018.4,284.1 1021.2,284.1 1021.2,321.9 1018.4,321.9 988.1,304.4" fill="#DE9A00"/>
<polygon points="1025.3,301.6 1055.7,284.1 1058.5,284.1 1058.5,321.9 1055.7,321.9 1025.3,304.4" fill="#DE9A00"/>
<polygon points="1062.6,301.6 1093,284.1 1095.8,284.1 1095.8,321.9 1093,321.9 1062.6,304.4" fill="#DE9A00"/>
<polygon points="1099.8,301.6 1130.2,284.1 1133,284.1 1133,321.9 1130.2,321.9 1099.8,304.4" fill="#DE9A00"/>
<polygon points="1137.1,301.6 1167.5,284.1 1170.3,284.1 1170.3,321.9 1167.5,321.9 1137.1,304.4" fill="#DE9A00"/>
<polygon points="1174.4,301.5 1204.7,284 1207.5,284 1207.5,321.8 1204.7,321.8 1174.4,304.3" fill="#DE9A00"/>
<polygon points="1211.6,301.1 1242,283.6 1244.8,283.6 1244.8,321.4 1242,321.4 1211.6,303.9" fill="#DE9A00"/>
<polygon points="1248.9,300.5 1279.3,283 1282.1,283 1282.1,320.8 1279.3,320.8 1248.9,303.3" fill="#DE9A00"/>
<polygon points="1286.2,300.5 1316.5,283 1319.3,283 1319.3,320.8 1316.5,320.8 1286.2,303.3" fill="#DE9A00"/>
<polygon points="1323.4,300.5 1353.8,283 1356.6,283 1356.6,320.8 1353.8,320.8 1323.4,303.3" fill="#DE9A00"/>
<polygon points="1360.7,301.1 1391,283.6 1393.8,283.6 1393.8,321.4 1391,321.4 1360.7,303.9" fill="#DE9A00"/>
<polygon points="1397.9,302.5 1428.3,285 1431.1,285 1431.1,322.8 1428.3,322.8 1397.9,305.3" fill="#DE9A00"/>
<polygon points="1435.2,304.9 1465.6,287.4 1468.4,287.4 1468.4,325.2 1465.6,325.2 1435.2,307.7" fill="#DE9A00"/>
<polygon points="1472.5,308.1 1502.8,290.6 1505.6,290.6 1505.6,328.4 1502.8,328.4 1472.5,310.9" fill="#DE9A00"/>
<polygon points="1509.7,310.7 1540.1,293.2 1542.9,293.2 1542.9,331 1540.1,331 1509.7,313.5" fill="#DE9A00"/>
<polygon points="1547,313.3 1577.3,295.8 1580.1,295.8 1580.1,333.6 1577.3,333.6 1547,316.1" fill="#DE9A00"/>
<polygon points="1584.2,314.1 1614.6,296.6 1617.4,296.6 1617.4,334.4 1614.6,334.4 1584.2,316.9" fill="#DE9A00"/>
<polygon points="1621.5,314.6 1651.9,297.1 1654.7,297.1 1654.7,334.9 1651.9,334.9 1621.5,317.4" fill="#DE9A00"/>
<polygon points="1658.8,315 1689.1,297.5 1691.9,297.5 1691.9,335.3 1689.1,335.3 1658.8,317.8" fill="#DE9A00"/>
<polygon points="1696,315 1726.4,297.5 1729.2,297.5 1729.2,335.3 1726.4,335.3 1696,317.8" fill="#DE9A00"/>
<polygon points="1733.3,314.6 1763.6,297.1 1766.4,297.1 1766.4,334.9 1763.6,334.9 1733.3,317.4" fill="#DE9A00"/>
<polygon points="1770.5,314.6 1800.9,297.1 1803.7,297.1 1803.7,334.9 1800.9,334.9 1770.5,317.4" fill="#DE9A00"/>
<polygon points="1807.8,316.2 1838.2,298.7 1841,298.7 1841,336.5 1838.2,336.5 1807.8,319" fill="#DE9A00"/>
<polygon points="1845,323.2 1875.4,305.7 1878.2,305.7 1878.2,343.5 1875.4,343.5 1845,326" fill="#DE9A00"/>
<polygon points="1882.3,327.2 1912.7,309.7 1915.5,309.7 1915.5,347.5 1912.7,347.5 1882.3,330" fill="#DE9A00"/>
<polygon points="1919.6,334.1 1949.9,316.6 1952.7,316.6 1952.7,354.4 1949.9,354.4 1919.6,336.9" fill="#DE9A00"/>
<polygon points="1956.8,341.1 1987.2,323.6 1990,323.6 1990,361.4 1987.2,361.4 1956.8,343.9" fill="#DE9A00"/>
<polygon points="1994.1,351.8 2024.5,334.3 2027.3,334.3 2027.3,372.1 2024.5,372.1 1994.1,354.6" fill="#DE9A00"/>
<polygon points="2031.3,357.4 2061.7,339.9 2064.5,339.9 2064.5,377.7 2061.7,377.7 2031.3,360.2" fill="#DE9A00"/>
<polygon points="256.1,144.3 258.9,144.3 289.2,161.8 289.2,164.6 258.9,182.1 256.1,182.1" fill="#00CBCE"/>
<polygon points="290.3,144.3 293.1,144.3 323.4,161.8 323.4,164.6 293.1,182.1 290.3,182.1" fill="#00CBCE"/>
<polygon points="327.5,144.3 330.3,144.3 360.7,161.8 360.7,164.6 330.3,182.2 327.5,182.2" fill="#00CBCE"/>
<polygon points="364.8,144.3 367.6,144.3 397.9,161.8 397.9,164.6 367.6,182.2 364.8,182.2" fill="#00CBCE"/>
<polygon points="402,144.3 404.8,144.3 435.2,161.8 435.2,164.6 404.8,182.2 402,182.2" fill="#00CBCE"/>
<polygon points="439.3,144.3 442.1,144.3 472.5,161.8 472.5,164.6 442.1,182.2 439.3,182.2" fill="#00CBCE"/>
<polygon points="476.6,144.3 479.4,144.3 509.7,161.8 509.7,164.7 479.4,182.2 476.6,182.2" fill="#00CBCE"/>
<polygon points="513.8,144.3 516.6,144.3 547,161.9 547,164.7 516.6,182.2 513.8,182.2" fill="#00CBCE"/>
<polygon points="551.1,144.3 553.9,144.3 584.2,161.9 584.2,164.7 553.9,182.2 551.1,182.2" fill="#00CBCE"/>
<polygon points="588.3,144.3 591.1,144.3 621.5,161.9 621.5,164.7 591.1,182.2 588.3,182.2" fill="#00CBCE"/>
<polygon points="625.6,144.3 628.4,144.3 658.8,161.9 658.8,164.7 628.4,182.2 625.6,182.2" fill="#00CBCE"/>
<polygon points="662.9,144.4 665.7,144.4 696,161.9 696,164.7 665.7,182.2 662.9,182.2" fill="#00CBCE"/>
<polygon points="700.1,144.4 702.9,144.4 733.3,161.9 733.3,164.7 702.9,182.2 700.1,182.2" fill="#00CBCE"/>
<polygon points="737.4,144.4 740.2,144.4 770.5,161.9 770.5,164.7 740.2,182.2 737.4,182.2" fill="#00CBCE"/>
<polygon points="774.6,144.4 777.4,144.4 807.8,161.9 807.8,164.7 777.4,182.3 774.6,182.3" fill="#00CBCE"/>
<polygon points="811.9,144.4 814.7,144.4 845.1,161.9 845.1,164.7 814.7,182.3 811.9,182.3" fill="#00CBCE"/>
<polygon points="849.2,144.4 852,144.4 882.3,161.9 882.3,164.7 852,182.3 849.2,182.3" fill="#00CBCE"/>
<polygon points="886.4,144.4 889.2,144.4 919.6,161.9 919.6,164.7 889.2,182.3 886.4,182.3" fill="#00CBCE"/>
<polygon points="923.7,144.4 926.5,144.4 956.9,161.9 956.9,164.8 926.5,182.3 923.7,182.3" fill="#00CBCE"/>
<polygon points="960.9,144.4 963.7,144.4 994.1,162 994.1,164.8 963.7,182.3 960.9,182.3" fill="#00CBCE"/>
<polygon points="998.2,144.4 1001,144.4 1031.4,162 1031.4,164.8 1001,182.3 998.2,182.3" fill="#00CBCE"/>
<polygon points="1035.5,144.4 1038.3,144.4 1068.6,162 1068.6,164.8 1038.3,182.3 1035.5,182.3" fill="#00CBCE"/>
<polygon points="1072.7,144.4 1075.5,144.4 1105.9,162 1105.9,164.8 1075.5,182.3 1072.7,182.3" fill="#00CBCE"/>
<polygon points="1110,144.5 1112.8,144.5 1143.2,162 1143.2,164.8 1112.8,182.3 1110,182.3" fill="#00CBCE"/>
<polygon points="1147.2,144.5 1150,144.5 1180.4,162 1180.4,164.8 1150,182.3 1147.2,182.3" fill="#00CBCE"/>
<polygon points="1184.5,144.4 1187.3,144.4 1217.7,161.9 1217.7,164.7 1187.3,182.2 1184.5,182.2" fill="#00CBCE"/>
<polygon points="1221.8,142.8 1224.6,142.8 1254.9,160.3 1254.9,163.1 1224.6,180.6 1221.8,180.6" fill="#00CBCE"/>
<polygon points="1259,140.8 1261.8,140.8 1292.2,158.3 1292.2,161.1 1261.8,178.6 1259,178.6" fill="#00CBCE"/>
<polygon points="1296.3,140.8 1299.1,140.8 1329.5,158.3 1329.5,161.1 1299.1,178.6 1296.3,178.6" fill="#00CBCE"/>
<polygon points="1333.5,140.8 1336.3,140.8 1366.7,158.3 1366.7,161.1 1336.3,178.6 1333.5,178.6" fill="#00CBCE"/>
<polygon points="1370.8,140.8 1373.6,140.8 1404,158.3 1404,161.1 1373.6,178.6 1370.8,178.6" fill="#00CBCE"/>
<polygon points="1408.1,144.4 1410.9,144.4 1441.2,161.9 1441.2,164.7 1410.9,182.2 1408.1,182.2" fill="#00CBCE"/>
<polygon points="1445.3,149.1 1448.1,149.1 1478.5,166.6 1478.5,169.4 1448.1,186.9 1445.3,186.9" fill="#00CBCE"/>
<polygon points="1482.6,155.9 1485.4,155.9 1515.8,173.4 1515.8,176.2 1485.4,193.7 1482.6,193.7" fill="#00CBCE"/>
<polygon points="1519.8,161.9 1522.6,161.9 1553,179.4 1553,182.2 1522.6,199.7 1519.8,199.7" fill="#00CBCE"/>
<polygon points="1557.1,168 1559.9,168 1590.3,185.5 1590.3,188.3 1559.9,205.8 1557.1,205.8" fill="#00CBCE"/>
<polygon points="1594.4,172.4 1597.2,172.4 1627.5,189.9 1627.5,192.7 1597.2,210.2 1594.4,210.2" fill="#00CBCE"/>
<polygon points="1631.6,175.2 1634.4,175.2 1664.8,192.7 1664.8,195.5 1634.4,213 1631.6,213" fill="#00CBCE"/>
<polygon points="1668.9,176.4 1671.7,176.4 1702,193.9 1702,196.7 1671.7,214.2 1668.9,214.2" fill="#00CBCE"/>
<polygon points="1706.1,177.2 1708.9,177.2 1739.3,194.7 1739.3,197.5 1708.9,215 1706.1,215" fill="#00CBCE"/>
<polygon points="1743.4,177.8 1746.2,177.8 1776.6,195.3 1776.6,198.1 1746.2,215.6 1743.4,215.6" fill="#00CBCE"/>
<polygon points="1780.7,178.2 1783.5,178.2 1813.8,195.7 1813.8,198.5 1783.5,216 1780.7,216" fill="#00CBCE"/>
<polygon points="1817.9,181.2 1820.7,181.2 1851.1,198.7 1851.1,201.5 1820.7,219 1817.9,219" fill="#00CBCE"/>
<polygon points="1855.2,193.3 1858,193.3 1888.3,210.8 1888.3,213.6 1858,231.1 1855.2,231.1" fill="#00CBCE"/>
<polygon points="1892.4,202.1 1895.2,202.1 1925.6,219.6 1925.6,222.4 1895.2,239.9 1892.4,239.9" fill="#00CBCE"/>
<polygon points="1929.7,215.2 1932.5,215.2 1962.9,232.7 1962.9,235.5 1932.5,253 1929.7,253" fill="#00CBCE"/>
<polygon points="1967,229.5 1969.8,229.5 2000.1,247 2000.1,249.8 1969.8,267.3 1967,267.3" fill="#00CBCE"/>
<polygon points="2004.2,250.8 2007,250.8 2037.4,268.3 2037.4,271.1 2007,288.6 2004.2,288.6" fill="#00CBCE"/>
<polygon points="2041.5,264.1 2044.3,264.1 2074.7,281.6 2074.7,284.4 2044.3,301.9 2041.5,301.9" fill="#00CBCE"/>
<polygon points="252.1,163.6 266.2,155.4 269,155.4 283.1,163.6 283.1,182.7 269,190.8 266.2,190.8 252.1,182.7" fill="#8B4D4D"/>
<polygon points="286.3,163.5 300.4,155.3 303.2,155.3 317.3,163.5 317.3,182.6 303.2,190.7 300.4,190.7 286.3,182.6" fill="#8B4D4D"/>
<polygon points="323.5,163.4 337.6,155.2 340.4,155.2 354.6,163.4 354.6,182.5 340.4,190.6 337.6,190.6 323.5,182.5" fill="#8B4D4D"/>
<polygon points="360.8,163.3 374.9,155.2 377.7,155.2 391.8,163.3 391.8,182.4 377.7,190.6 374.9,190.6 360.8,182.4" fill="#8B4D4D"/>
<polygon points="398,163.2 412.2,155.1 415,155.1 429.1,163.2 429.1,182.3 415,190.5 412.2,190.5 398,182.3" fill="#8B4D4D"/>
<polygon points="435.3,163.1 449.4,155 452.2,155 466.3,163.1 466.3,182.2 452.2,190.4 449.4,190.4 435.3,182.2" fill="#8B4D4D"/>
<polygon points="472.6,163.1 486.7,154.9 489.5,154.9 503.6,163.1 503.6,182.2 489.5,190.3 486.7,190.3 472.6,182.2" fill="#8B4D4D"/>
<polygon points="509.8,160.8 523.9,152.6 526.7,152.6 540.9,160.8 540.9,179.8 526.7,188 523.9,188 509.8,179.8" fill="#8B4D4D"/>
<polygon points="547.1,160.8 561.2,152.6 564,152.6 578.1,160.8 578.1,179.9 564,188 561.2,188 547.1,179.9" fill="#8B4D4D"/>
<polygon points="584.3,160.8 598.5,152.7 601.3,152.7 615.4,160.8 615.4,179.9 601.3,188.1 598.5,188.1 584.3,179.9" fill="#8B4D4D"/>
<polygon points="621.6,160.8 635.7,152.7 638.5,152.7 652.6,160.8 652.6,179.9 638.5,188.1 635.7,188.1 621.6,179.9" fill="#8B4D4D"/>
<polygon points="658.9,160.8 673,152.7 675.8,152.7 689.9,160.8 689.9,179.9 675.8,188.1 673,188.1 658.9,179.9" fill="#8B4D4D"/>
<polygon points="696.1,161.6 710.2,153.4 713,153.4 727.2,161.6 727.2,180.7 713,188.8 710.2,188.8 696.1,180.7" fill="#8B4D4D"/>
<polygon points="733.4,163.3 747.5,155.2 750.3,155.2 764.4,163.3 764.4,182.4 750.3,190.6 747.5,190.6 733.4,182.4" fill="#8B4D4D"/>
<polygon points="770.6,163.3 784.8,155.2 787.6,155.2 801.7,163.3 801.7,182.4 787.6,190.6 784.8,190.6 770.6,182.4" fill="#8B4D4D"/>
<polygon points="807.9,163.3 822,155.1 824.8,155.1 838.9,163.3 838.9,182.4 824.8,190.5 822,190.5 807.9,182.4" fill="#8B4D4D"/>
<polygon points="845.2,163.2 859.3,155.1 862.1,155.1 876.2,163.2 876.2,182.3 862.1,190.5 859.3,190.5 845.2,182.3" fill="#8B4D4D"/>
<polygon points="882.4,163.2 896.5,155.1 899.3,155.1 913.5,163.2 913.5,182.3 899.3,190.5 896.5,190.5 882.4,182.3" fill="#8B4D4D"/>
<polygon points="919.7,163.2 933.8,155 936.6,155 950.7,163.2 950.7,182.3 936.6,190.4 933.8,190.4 919.7,182.3" fill="#8B4D4D"/>
<polygon points="956.9,163.1 971.1,155 973.9,155 988,163.1 988,182.2 973.9,190.4 971.1,190.4 956.9,182.2" fill="#8B4D4D"/>
<polygon points="994.2,163.1 1008.3,154.9 1011.1,154.9 1025.2,163.1 1025.2,182.2 1011.1,190.3 1008.3,190.3 994.2,182.2" fill="#8B4D4D"/>
<polygon points="1031.5,163.1 1045.6,154.9 1048.4,154.9 1062.5,163.1 1062.5,182.2 1048.4,190.3 1045.6,190.3 1031.5,182.2" fill="#8B4D4D"/>
<polygon points="1068.7,163 1082.8,154.9 1085.6,154.9 1099.8,163 1099.8,182.1 1085.6,190.3 1082.8,190.3 1068.7,182.1" fill="#8B4D4D"/>
<polygon points="1106,163 1120.1,154.8 1122.9,154.8 1137,163 1137,182.1 1122.9,190.2 1120.1,190.2 1106,182.1" fill="#8B4D4D"/>
<polygon points="1143.2,162.9 1157.4,154.8 1160.2,154.8 1174.3,162.9 1174.3,182.1 1160.2,190.2 1157.4,190.2 1143.2,182.1" fill="#8B4D4D"/>
<polygon points="1180.5,162.2 1194.6,154.1 1197.4,154.1 1211.5,162.2 1211.5,181.3 1197.4,189.5 1194.6,189.5 1180.5,181.3" fill="#8B4D4D"/>
<polygon points="1217.8,161.4 1231.9,153.3 1234.7,153.3 1248.8,161.4 1248.8,180.6 1234.7,188.7 1231.9,188.7 1217.8,180.6" fill="#8B4D4D"/>
<polygon points="1255,160.4 1269.1,152.3 1271.9,152.3 1286.1,160.4 1286.1,179.6 1271.9,187.7 1269.1,187.7 1255,179.6" fill="#8B4D4D"/>
<polygon points="1292.3,159.2 1306.4,151.1 1309.2,151.1 1323.3,159.2 1323.3,178.3 1309.2,186.5 1306.4,186.5 1292.3,178.3" fill="#8B4D4D"/>
<polygon points="1329.5,159.4 1343.7,151.3 1346.5,151.3 1360.6,159.4 1360.6,178.6 1346.5,186.7 1343.7,186.7 1329.5,178.6" fill="#8B4D4D"/>
<polygon points="1366.8,159.4 1380.9,151.3 1383.7,151.3 1397.8,159.4 1397.8,178.6 1383.7,186.7 1380.9,186.7 1366.8,178.6" fill="#8B4D4D"/>
<polygon points="1404.1,161.1 1418.2,152.9 1421,152.9 1435.1,161.1 1435.1,180.2 1421,188.3 1418.2,188.3 1404.1,180.2" fill="#8B4D4D"/>
<polygon points="1441.3,163.2 1455.4,155.1 1458.2,155.1 1472.4,163.2 1472.4,182.3 1458.2,190.5 1455.4,190.5 1441.3,182.3" fill="#8B4D4D"/>
<polygon points="1478.6,171.2 1492.7,163.1 1495.5,163.1 1509.6,171.2 1509.6,190.3 1495.5,198.5 1492.7,198.5 1478.6,190.3" fill="#8B4D4D"/>
<polygon points="1515.8,181.6 1530,173.4 1532.8,173.4 1546.9,181.6 1546.9,200.7 1532.8,208.8 1530,208.8 1515.8,200.7" fill="#8B4D4D"/>
<polygon points="1553.1,193.6 1567.2,185.4 1570,185.4 1584.1,193.6 1584.1,212.7 1570,220.8 1567.2,220.8 1553.1,212.7" fill="#8B4D4D"/>
<polygon points="1590.4,207.8 1604.5,199.7 1607.3,199.7 1621.4,207.8 1621.4,226.9 1607.3,235.1 1604.5,235.1 1590.4,226.9" fill="#8B4D4D"/>
<polygon points="1627.6,220.2 1641.7,212.1 1644.5,212.1 1658.7,220.2 1658.7,239.3 1644.5,247.5 1641.7,247.5 1627.6,239.3" fill="#8B4D4D"/>
<polygon points="1664.9,224.4 1679,216.3 1681.8,216.3 1695.9,224.4 1695.9,243.6 1681.8,251.7 1679,251.7 1664.9,243.6" fill="#8B4D4D"/>
<polygon points="1702.1,220.8 1716.3,212.6 1719.1,212.6 1733.2,220.8 1733.2,239.8 1719.1,248 1716.3,248 1702.1,239.8" fill="#8B4D4D"/>
<polygon points="1739.4,223.1 1753.5,214.9 1756.3,214.9 1770.4,223.1 1770.4,242.2 1756.3,250.3 1753.5,250.3 1739.4,242.2" fill="#8B4D4D"/>
<polygon points="1776.7,221.2 1790.8,213.1 1793.6,213.1 1807.7,221.2 1807.7,240.3 1793.6,248.5 1790.8,248.5 1776.7,240.3" fill="#8B4D4D"/>
<polygon points="1813.9,225.4 1828,217.3 1830.8,217.3 1845,225.4 1845,244.6 1830.8,252.7 1828,252.7 1813.9,244.6" fill="#8B4D4D"/>
<polygon points="1851.2,236.3 1865.3,228.2 1868.1,228.2 1882.2,236.3 1882.2,255.4 1868.1,263.6 1865.3,263.6 1851.2,255.4" fill="#8B4D4D"/>
<polygon points="1888.4,243.3 1902.6,235.2 1905.4,235.2 1919.5,243.3 1919.5,262.4 1905.4,270.6 1902.6,270.6 1888.4,262.4" fill="#8B4D4D"/>
<polygon points="1925.7,254.2 1939.8,246.1 1942.6,246.1 1956.7,254.2 1956.7,273.4 1942.6,281.5 1939.8,281.5 1925.7,273.4" fill="#8B4D4D"/>
<polygon points="1963,266.2 1977.1,258.1 1979.9,258.1 1994,266.2 1994,285.4 1979.9,293.5 1977.1,293.5 1963,285.4" fill="#8B4D4D"/>
<polygon points="2000.2,284.1 2014.3,276 2017.1,276 2031.3,284.1 2031.3,303.2 2017.1,311.4 2014.3,311.4 2000.2,303.2" fill="#8B4D4D"/>
<polygon points="2037.5,292.6 2051.6,284.4 2054.4,284.4 2068.5,292.6 2068.5,311.6 2054.4,319.8 2051.6,319.8 2037.5,311.6" fill="#8B4D4D"/>
</g>
<g stroke="#000" stroke-width="6" fill="none" stroke-linecap="round" shape-rendering="crispEdges">
<line x1="247" y1="1791" x2="223" y2="1791"/>
<line x1="247" y1="2156" x2="223" y2="2156"/>
<line x1="247" y1="2520" x2="223" y2="2520"/>
<line x1="247" y1="2885" x2="223" y2="2885"/>
<line x1="247" y1="3250" x2="223" y2="3250"/>
<line x1="247" y1="2046" x2="235.3" y2="2046"/>
<line x1="247" y1="1982" x2="235.3" y2="1982"/>
<line x1="247" y1="1936" x2="235.3" y2="1936"/>
<line x1="247" y1="1901" x2="235.3" y2="1901"/>
<line x1="247" y1="1872" x2="235.3" y2="1872"/>
<line x1="247" y1="1848" x2="235.3" y2="1848"/>
<line x1="247" y1="1826" x2="235.3" y2="1826"/>
<line x1="247" y1="1808" x2="235.3" y2="1808"/>
<line x1="247" y1="2411" x2="235.3" y2="2411"/>
<line x1="247" y1="2346" x2="235.3" y2="2346"/>
<line x1="247" y1="2301" x2="235.3" y2="2301"/>
<line x1="247" y1="2266" x2="235.3" y2="2266"/>
<line x1="247" y1="2237" x2="235.3" y2="2237"/>
<line x1="247" y1="2212" x2="235.3" y2="2212"/>
<line x1="247" y1="2191" x2="235.3" y2="2191"/>
<line x1="247" y1="2172" x2="235.3" y2="2172"/>
<line x1="247" y1="2775" x2="235.3" y2="2775"/>
<line x1="247" y1="2711" x2="235.3" y2="2711"/>
<line x1="247" y1="2666" x2="235.3" y2="2666"/>
<line x1="247" y1="2630" x2="235.3" y2="2630"/>
<line x1="247" y1="2601" x2="235.3" y2="2601"/>
<line x1="247" y1="2577" x2="235.3" y2="2577"/>
<line x1="247" y1="2556" x2="235.3" y2="2556"/>
<line x1="247" y1="2537" x2="235.3" y2="2537"/>
<line x1="247" y1="3140" x2="235.3" y2="3140"/>
<line x1="247" y1="3076" x2="235.3" y2="3076"/>
<line x1="247" y1="3030" x2="235.3" y2="3030"/>
<line x1="247" y1="2995" x2="235.3" y2="2995"/>
<line x1="247" y1="2966" x2="235.3" y2="2966"/>
<line x1="247" y1="2942" x2="235.3" y2="2942"/>
<line x1="247" y1="2921" x2="235.3" y2="2921"/>
<line x1="247" y1="2902" x2="235.3" y2="2902"/>
<line x1="247" y1="3250" x2="247" y2="3273.2"/>
<line x1="325" y1="3250" x2="325" y2="3261.4"/>
<line x1="370" y1="3250" x2="370" y2="3261.4"/>
<line x1="402" y1="3250" x2="402" y2="3261.4"/>
<line x1="427" y1="3250" x2="427" y2="3261.4"/>
<line x1="448" y1="3250" x2="448" y2="3261.4"/>
<line x1="465" y1="3250" x2="465" y2="3261.4"/>
<line x1="480" y1="3250" x2="480" y2="3261.4"/>
<line x1="493" y1="3250" x2="493" y2="3261.4"/>
<line x1="505" y1="3250" x2="505" y2="3273.2"/>
<line x1="583" y1="3250" x2="583" y2="3261.4"/>
<line x1="628" y1="3250" x2="628" y2="3261.4"/>
<line x1="660" y1="3250" x2="660" y2="3261.4"/>
<line x1="685" y1="3250" x2="685" y2="3261.4"/>
<line x1="706" y1="3250" x2="706" y2="3261.4"/>
<line x1="723" y1="3250" x2="723" y2="3261.4"/>
<line x1="738" y1="3250" x2="738" y2="3261.4"/>
<line x1="751" y1="3250" x2="751" y2="3261.4"/>
<line x1="763" y1="3250" x2="763" y2="3273.2"/>
<line x1="841" y1="3250" x2="841" y2="3261.4"/>
<line x1="886" y1="3250" x2="886" y2="3261.4"/>
<line x1="918" y1="3250" x2="918" y2="3261.4"/>
<line x1="943" y1="3250" x2="943" y2="3261.4"/>
<line x1="964" y1="3250" x2="964" y2="3261.4"/>
<line x1="981" y1="3250" x2="981" y2="3261.4"/>
<line x1="996" y1="3250" x2="996" y2="3261.4"/>
<line x1="1009" y1="3250" x2="1009" y2="3261.4"/>
<line x1="1021" y1="3250" x2="1021" y2="3273.2"/>
<line x1="1099" y1="3250" x2="1099" y2="3261.4"/>
<line x1="1144" y1="3250" x2="1144" y2="3261.4"/>
<line x1="1176" y1="3250" x2="1176" y2="3261.4"/>
<line x1="1201" y1="3250" x2="1201" y2="3261.4"/>
<line x1="1222" y1="3250" x2="1222" y2="3261.4"/>
<line x1="1239" y1="3250" x2="1239" y2="3261.4"/>
<line x1="1254" y1="3250" x2="1254" y2="3261.4"/>
<line x1="1267" y1="3250" x2="1267" y2="3261.4"/>
<line x1="1279" y1="3250" x2="1279" y2="3273.2"/>
<line x1="1357" y1="3250" x2="1357" y2="3261.4"/>
<line x1="1402" y1="3250" x2="1402" y2="3261.4"/>
<line x1="1434" y1="3250" x2="1434" y2="3261.4"/>
<line x1="1459" y1="3250" x2="1459" y2="3261.4"/>
<line x1="1480" y1="3250" x2="1480" y2="3261.4"/>
<line x1="1497" y1="3250" x2="1497" y2="3261.4"/>
<line x1="1512" y1="3250" x2="1512" y2="3261.4"/>
<line x1="1525" y1="3250" x2="1525" y2="3261.4"/>
<line x1="1537" y1="3250" x2="1537" y2="3273.2"/>
<line x1="1615" y1="3250" x2="1615" y2="3261.4"/>
<line x1="1660" y1="3250" x2="1660" y2="3261.4"/>
<line x1="1692" y1="3250" x2="1692" y2="3261.4"/>
<line x1="1717" y1="3250" x2="1717" y2="3261.4"/>
<line x1="1738" y1="3250" x2="1738" y2="3261.4"/>
<line x1="1755" y1="3250" x2="1755" y2="3261.4"/>
<line x1="1770" y1="3250" x2="1770" y2="3261.4"/>
<line x1="1783" y1="3250" x2="1783" y2="3261.4"/>
<line x1="1795" y1="3250" x2="1795" y2="3273.2"/>
<line x1="1873" y1="3250" x2="1873" y2="3261.4"/>
<line x1="1918" y1="3250" x2="1918" y2="3261.4"/>
<line x1="1950" y1="3250" x2="1950" y2="3261.4"/>
<line x1="1975" y1="3250" x2="1975" y2="3261.4"/>
<line x1="1996" y1="3250" x2="1996" y2="3261.4"/>
<line x1="2013" y1="3250" x2="2013" y2="3261.4"/>
<line x1="2028" y1="3250" x2="2028" y2="3261.4"/>
<line x1="2041" y1="3250" x2="2041" y2="3261.4"/>
<line x1="2053" y1="3250" x2="2053" y2="3273.2"/>
</g>
<rect x="247" y="1791" width="1806" height="1459" fill="none" stroke="#000" stroke-width="6" shape-rendering="crispEdges"/>
<g clip-path="url(#cb)" shape-rendering="crispEdges">
<rect x="233.4" y="2580" width="27.8" height="27.8" fill="#757575"/>
<rect x="266.7" y="2580" width="27.8" height="27.8" fill="#757575"/>
<rect x="304.4" y="2580" width="27.8" height="27.8" fill="#757575"/>
<rect x="342.1" y="2580" width="27.8" height="27.8" fill="#757575"/>
<rect x="379.8" y="2580" width="27.8" height="27.8" fill="#757575"/>
<rect x="417.5" y="2580" width="27.8" height="27.8" fill="#757575"/>
<rect x="455.2" y="2580" width="27.8" height="27.8" fill="#757575"/>
<rect x="492.9" y="2580" width="27.8" height="27.8" fill="#757575"/>
<rect x="530.6" y="2580" width="27.8" height="27.8" fill="#757575"/>
<rect x="568.3" y="2580" width="27.8" height="27.8" fill="#757575"/>
<rect x="606" y="2580" width="27.8" height="27.8" fill="#757575"/>
<rect x="643.7" y="2580" width="27.8" height="27.8" fill="#757575"/>
<rect x="681.4" y="2580" width="27.8" height="27.8" fill="#757575"/>
<rect x="719.1" y="2580" width="27.8" height="27.8" fill="#757575"/>
<rect x="756.8" y="2579.9" width="27.8" height="27.8" fill="#757575"/>
<rect x="794.5" y="2579.9" width="27.8" height="27.8" fill="#757575"/>
<rect x="832.2" y="2579.9" width="27.8" height="27.8" fill="#757575"/>
<rect x="869.9" y="2579.9" width="27.8" height="27.8" fill="#757575"/>
<rect x="907.6" y="2579.9" width="27.8" height="27.8" fill="#757575"/>
<rect x="945.3" y="2579.9" width="27.8" height="27.8" fill="#757575"/>
<rect x="983" y="2579.9" width="27.8" height="27.8" fill="#757575"/>
<rect x="1020.7" y="2579.9" width="27.8" height="27.8" fill="#757575"/>
<rect x="1058.4" y="2579.9" width="27.8" height="27.8" fill="#757575"/>
<rect x="1096.1" y="2579.9" width="27.8" height="27.8" fill="#757575"/>
<rect x="1133.8" y="2579.9" width="27.8" height="27.8" fill="#757575"/>
<rect x="1171.5" y="2579.9" width="27.8" height="27.8" fill="#757575"/>
<rect x="1209.2" y="2579.9" width="27.8" height="27.8" fill="#757575"/>
<rect x="1246.9" y="2579.4" width="27.8" height="27.8" fill="#757575"/>
<rect x="1284.6" y="2578.6" width="27.8" height="27.8" fill="#757575"/>
<rect x="1322.3" y="2577.4" width="27.8" height="27.8" fill="#757575"/>
<rect x="1360" y="2576.6" width="27.8" height="27.8" fill="#757575"/>
<rect x="1397.7" y="2575.4" width="27.8" height="27.8" fill="#757575"/>
<rect x="1435.4" y="2573.4" width="27.8" height="27.8" fill="#757575"/>
<rect x="1473.1" y="2570.7" width="27.8" height="27.8" fill="#757575"/>
<rect x="1510.8" y="2567.5" width="27.8" height="27.8" fill="#757575"/>
<rect x="1548.5" y="2564.3" width="27.8" height="27.8" fill="#757575"/>
<rect x="1586.2" y="2560.3" width="27.8" height="27.8" fill="#757575"/>
<rect x="1623.9" y="2556.7" width="27.8" height="27.8" fill="#757575"/>
<rect x="1661.6" y="2552.7" width="27.8" height="27.8" fill="#757575"/>
<rect x="1699.3" y="2548.8" width="27.8" height="27.8" fill="#757575"/>
<rect x="1737" y="2544.4" width="27.8" height="27.8" fill="#757575"/>
<rect x="1774.7" y="2538.4" width="27.8" height="27.8" fill="#757575"/>
<rect x="1812.4" y="2532.5" width="27.8" height="27.8" fill="#757575"/>
<rect x="1850.1" y="2525.7" width="27.8" height="27.8" fill="#757575"/>
<rect x="1887.8" y="2515.7" width="27.8" height="27.8" fill="#757575"/>
<rect x="1925.5" y="2505.8" width="27.8" height="27.8" fill="#757575"/>
<rect x="1963.2" y="2595.3" width="27.8" height="27.8" fill="#757575"/>
<rect x="2038.6" y="2842.6" width="27.8" height="27.8" fill="#757575"/>
<circle cx="247.3" cy="2404.5" r="16" fill="#FD3D3D"/>
<circle cx="280.6" cy="2403.7" r="16" fill="#FD3D3D"/>
<circle cx="318.3" cy="2389.9" r="16" fill="#FD3D3D"/>
<circle cx="356" cy="2389.9" r="16" fill="#FD3D3D"/>
<circle cx="393.7" cy="2388" r="16" fill="#FD3D3D"/>
<circle cx="431.4" cy="2388" r="16" fill="#FD3D3D"/>
<circle cx="469.1" cy="2389.9" r="16" fill="#FD3D3D"/>
<circle cx="506.8" cy="2388.8" r="16" fill="#FD3D3D"/>
<circle cx="544.5" cy="2389.9" r="16" fill="#FD3D3D"/>
<circle cx="582.2" cy="2393.9" r="16" fill="#FD3D3D"/>
<circle cx="619.9" cy="2389.3" r="16" fill="#FD3D3D"/>
<circle cx="657.6" cy="2392" r="16" fill="#FD3D3D"/>
<circle cx="695.3" cy="2392" r="16" fill="#FD3D3D"/>
<circle cx="733" cy="2387.7" r="16" fill="#FD3D3D"/>
<circle cx="770.7" cy="2388.8" r="16" fill="#FD3D3D"/>
<circle cx="808.4" cy="2385.1" r="16" fill="#FD3D3D"/>
<circle cx="846.1" cy="2385.1" r="16" fill="#FD3D3D"/>
<circle cx="883.8" cy="2384.8" r="16" fill="#FD3D3D"/>
<circle cx="921.5" cy="2384.8" r="16" fill="#FD3D3D"/>
<circle cx="959.2" cy="2384.8" r="16" fill="#FD3D3D"/>
<circle cx="996.9" cy="2384.7" r="16" fill="#FD3D3D"/>
<circle cx="1034.6" cy="2384.7" r="16" fill="#FD3D3D"/>
<circle cx="1072.3" cy="2384.7" r="16" fill="#FD3D3D"/>
<circle cx="1110" cy="2384.7" r="16" fill="#FD3D3D"/>
<circle cx="1147.7" cy="2384.6" r="16" fill="#FD3D3D"/>
<circle cx="1185.4" cy="2384.6" r="16" fill="#FD3D3D"/>
<circle cx="1223.1" cy="2384.6" r="16" fill="#FD3D3D"/>
<circle cx="1260.8" cy="2384.6" r="16" fill="#FD3D3D"/>
<circle cx="1298.5" cy="2384.5" r="16" fill="#FD3D3D"/>
<circle cx="1336.2" cy="2384.5" r="16" fill="#FD3D3D"/>
<circle cx="1373.9" cy="2384.2" r="16" fill="#FD3D3D"/>
<circle cx="1411.6" cy="2383" r="16" fill="#FD3D3D"/>
<circle cx="1449.3" cy="2383" r="16" fill="#FD3D3D"/>
<circle cx="1487" cy="2381.8" r="16" fill="#FD3D3D"/>
<circle cx="1524.7" cy="2381" r="16" fill="#FD3D3D"/>
<circle cx="1562.4" cy="2379.8" r="16" fill="#FD3D3D"/>
<circle cx="1600.1" cy="2377.8" r="16" fill="#FD3D3D"/>
<circle cx="1637.8" cy="2375.8" r="16" fill="#FD3D3D"/>
<circle cx="1675.5" cy="2373.6" r="16" fill="#FD3D3D"/>
<circle cx="1713.2" cy="2370.4" r="16" fill="#FD3D3D"/>
<circle cx="1750.9" cy="2367.9" r="16" fill="#FD3D3D"/>
<circle cx="1788.6" cy="2364.5" r="16" fill="#FD3D3D"/>
<circle cx="1826.3" cy="2360.9" r="16" fill="#FD3D3D"/>
<circle cx="1864" cy="2357.1" r="16" fill="#FD3D3D"/>
<circle cx="1901.7" cy="2352.9" r="16" fill="#FD3D3D"/>
<circle cx="1939.4" cy="2348.6" r="16" fill="#FD3D3D"/>
<circle cx="1977.1" cy="2342" r="16" fill="#FD3D3D"/>
<circle cx="2014.8" cy="2332.6" r="16" fill="#FD3D3D"/>
<circle cx="2052.5" cy="2321.3" r="16" fill="#FD3D3D"/>
<polygon points="228.9,2212 245.9,2182.6 248.7,2182.6 265.7,2212 265.7,2214.8 228.9,2214.8" fill="#006EE0"/>
<polygon points="262.2,2212.2 279.2,2182.8 282,2182.8 299,2212.2 299,2215 262.2,2215" fill="#006EE0"/>
<polygon points="299.9,2214.1 316.9,2184.7 319.7,2184.7 336.7,2214.1 336.7,2216.9 299.9,2216.9" fill="#006EE0"/>
<polygon points="337.6,2214.1 354.6,2184.7 357.4,2184.7 374.4,2214.1 374.4,2216.9 337.6,2216.9" fill="#006EE0"/>
<polygon points="375.3,2214.1 392.3,2184.7 395.1,2184.7 412.1,2214.1 412.1,2216.9 375.3,2216.9" fill="#006EE0"/>
<polygon points="413,2212.7 430,2183.3 432.8,2183.3 449.8,2212.7 449.8,2215.5 413,2215.5" fill="#006EE0"/>
<polygon points="450.7,2214.1 467.7,2184.7 470.5,2184.7 487.5,2214.1 487.5,2216.9 450.7,2216.9" fill="#006EE0"/>
<polygon points="488.4,2210.9 505.4,2181.5 508.2,2181.5 525.2,2210.9 525.2,2213.7 488.4,2213.7" fill="#006EE0"/>
<polygon points="526.1,2211.3 543.1,2181.9 545.9,2181.9 562.9,2211.3 562.9,2214.1 526.1,2214.1" fill="#006EE0"/>
<polygon points="563.8,2211.3 580.8,2181.9 583.6,2181.9 600.6,2211.3 600.6,2214.1 563.8,2214.1" fill="#006EE0"/>
<polygon points="601.5,2211.3 618.5,2181.9 621.3,2181.9 638.3,2211.3 638.3,2214.1 601.5,2214.1" fill="#006EE0"/>
<polygon points="639.2,2211.3 656.2,2181.9 659,2181.9 676,2211.3 676,2214.1 639.2,2214.1" fill="#006EE0"/>
<polygon points="676.9,2211.3 693.9,2181.9 696.7,2181.9 713.7,2211.3 713.7,2214.1 676.9,2214.1" fill="#006EE0"/>
<polygon points="714.6,2211.3 731.6,2181.9 734.4,2181.9 751.4,2211.3 751.4,2214.1 714.6,2214.1" fill="#006EE0"/>
<polygon points="752.3,2211.3 769.3,2181.9 772.1,2181.9 789.1,2211.3 789.1,2214.1 752.3,2214.1" fill="#006EE0"/>
<polygon points="790,2211.3 807,2181.9 809.8,2181.9 826.8,2211.3 826.8,2214.1 790,2214.1" fill="#006EE0"/>
<polygon points="827.7,2211.3 844.7,2181.9 847.5,2181.9 864.5,2211.3 864.5,2214.1 827.7,2214.1" fill="#006EE0"/>
<polygon points="865.4,2211.3 882.4,2181.9 885.2,2181.9 902.2,2211.3 902.2,2214.1 865.4,2214.1" fill="#006EE0"/>
<polygon points="903.1,2211.3 920.1,2181.9 922.9,2181.9 939.9,2211.3 939.9,2214.1 903.1,2214.1" fill="#006EE0"/>
<polygon points="940.8,2211.3 957.8,2181.9 960.6,2181.9 977.6,2211.3 977.6,2214.1 940.8,2214.1" fill="#006EE0"/>
<polygon points="978.5,2211.3 995.5,2181.9 998.3,2181.9 1015.3,2211.3 1015.3,2214.1 978.5,2214.1" fill="#006EE0"/>
<polygon points="1016.2,2211.3 1033.2,2181.9 1036,2181.9 1053,2211.3 1053,2214.1 1016.2,2214.1" fill="#006EE0"/>
<polygon points="1053.9,2211.3 1070.9,2181.9 1073.7,2181.9 1090.7,2211.3 1090.7,2214.1 1053.9,2214.1" fill="#006EE0"/>
<polygon points="1091.6,2210.7 1108.6,2181.3 1111.4,2181.3 1128.4,2210.7 1128.4,2213.5 1091.6,2213.5" fill="#006EE0"/>
<polygon points="1129.3,2210.3 1146.3,2180.9 1149.1,2180.9 1166.1,2210.3 1166.1,2213.1 1129.3,2213.1" fill="#006EE0"/>
<polygon points="1167,2210.3 1184,2180.9 1186.8,2180.9 1203.8,2210.3 1203.8,2213.1 1167,2213.1" fill="#006EE0"/>
<polygon points="1204.7,2209.5 1221.7,2180.1 1224.5,2180.1 1241.5,2209.5 1241.5,2212.3 1204.7,2212.3" fill="#006EE0"/>
<polygon points="1242.4,2209.5 1259.4,2180.1 1262.2,2180.1 1279.2,2209.5 1279.2,2212.3 1242.4,2212.3" fill="#006EE0"/>
<polygon points="1280.1,2209.5 1297.1,2180.1 1299.9,2180.1 1316.9,2209.5 1316.9,2212.3 1280.1,2212.3" fill="#006EE0"/>
<polygon points="1317.8,2209.5 1334.8,2180.1 1337.6,2180.1 1354.6,2209.5 1354.6,2212.3 1317.8,2212.3" fill="#006EE0"/>
<polygon points="1355.5,2209.5 1372.5,2180.1 1375.3,2180.1 1392.3,2209.5 1392.3,2212.3 1355.5,2212.3" fill="#006EE0"/>
<polygon points="1393.2,2209.5 1410.2,2180.1 1413,2180.1 1430,2209.5 1430,2212.3 1393.2,2212.3" fill="#006EE0"/>
<polygon points="1430.9,2209.5 1447.9,2180.1 1450.7,2180.1 1467.7,2209.5 1467.7,2212.3 1430.9,2212.3" fill="#006EE0"/>
<polygon points="1468.6,2209.5 1485.6,2180.1 1488.4,2180.1 1505.4,2209.5 1505.4,2212.3 1468.6,2212.3" fill="#006EE0"/>
<polygon points="1506.3,2210.2 1523.3,2180.8 1526.1,2180.8 1543.1,2210.2 1543.1,2213 1506.3,2213" fill="#006EE0"/>
<polygon points="1544,2209.5 1561,2180.1 1563.8,2180.1 1580.8,2209.5 1580.8,2212.3 1544,2212.3" fill="#006EE0"/>
<polygon points="1581.7,2209.1 1598.7,2179.7 1601.5,2179.7 1618.5,2209.1 1618.5,2211.9 1581.7,2211.9" fill="#006EE0"/>
<polygon points="1619.4,2208.7 1636.4,2179.3 1639.2,2179.3 1656.2,2208.7 1656.2,2211.5 1619.4,2211.5" fill="#006EE0"/>
<polygon points="1657.1,2208.3 1674.1,2178.9 1676.9,2178.9 1693.9,2208.3 1693.9,2211.1 1657.1,2211.1" fill="#006EE0"/>
<polygon points="1694.8,2206.7 1711.8,2177.3 1714.6,2177.3 1731.6,2206.7 1731.6,2209.5 1694.8,2209.5" fill="#006EE0"/>
<polygon points="1732.5,2205.5 1749.5,2176.1 1752.3,2176.1 1769.3,2205.5 1769.3,2208.3 1732.5,2208.3" fill="#006EE0"/>
<polygon points="1770.2,2204.3 1787.2,2174.9 1790,2174.9 1807,2204.3 1807,2207.1 1770.2,2207.1" fill="#006EE0"/>
<polygon points="1807.9,2202.3 1824.9,2172.9 1827.7,2172.9 1844.7,2202.3 1844.7,2205.1 1807.9,2205.1" fill="#006EE0"/>
<polygon points="1845.6,2200.3 1862.6,2170.9 1865.4,2170.9 1882.4,2200.3 1882.4,2203.1 1845.6,2203.1" fill="#006EE0"/>
<polygon points="1883.3,2198.3 1900.3,2168.9 1903.1,2168.9 1920.1,2198.3 1920.1,2201.1 1883.3,2201.1" fill="#006EE0"/>
<polygon points="1921,2195.5 1938,2166.1 1940.8,2166.1 1957.8,2195.5 1957.8,2198.3 1921,2198.3" fill="#006EE0"/>
<polygon points="1958.7,2192.8 1975.7,2163.4 1978.5,2163.4 1995.5,2192.8 1995.5,2195.6 1958.7,2195.6" fill="#006EE0"/>
<polygon points="1996.4,2187.6 2013.4,2158.2 2016.2,2158.2 2033.2,2187.6 2033.2,2190.4 1996.4,2190.4" fill="#006EE0"/>
<polygon points="2034.1,2184.4 2051.1,2155 2053.9,2155 2070.9,2184.4 2070.9,2187.2 2034.1,2187.2" fill="#006EE0"/>
<polygon points="228.8,2052.2 265.8,2052.2 265.8,2054.9 248.7,2084.5 245.9,2084.5 228.8,2054.9" fill="#00AD66"/>
<polygon points="262.1,2052.2 299.1,2052.2 299.1,2054.9 282,2084.5 279.2,2084.5 262.1,2054.9" fill="#00AD66"/>
<polygon points="299.8,2052.2 336.8,2052.2 336.8,2054.9 319.7,2084.5 316.9,2084.5 299.8,2054.9" fill="#00AD66"/>
<polygon points="337.5,2052.2 374.5,2052.2 374.5,2054.9 357.4,2084.5 354.6,2084.5 337.5,2054.9" fill="#00AD66"/>
<polygon points="375.2,2052.2 412.2,2052.2 412.2,2054.9 395.1,2084.5 392.3,2084.5 375.2,2054.9" fill="#00AD66"/>
<polygon points="412.9,2051.2 449.9,2051.2 449.9,2053.9 432.8,2083.5 430,2083.5 412.9,2053.9" fill="#00AD66"/>
<polygon points="450.6,2051.8 487.6,2051.8 487.6,2054.6 470.5,2084.1 467.7,2084.1 450.6,2054.6" fill="#00AD66"/>
<polygon points="488.3,2051.8 525.3,2051.8 525.3,2054.6 508.2,2084.1 505.4,2084.1 488.3,2054.6" fill="#00AD66"/>
<polygon points="526,2051.8 563,2051.8 563,2054.6 545.9,2084.1 543.1,2084.1 526,2054.6" fill="#00AD66"/>
<polygon points="563.7,2051.8 600.7,2051.8 600.7,2054.6 583.6,2084.1 580.8,2084.1 563.7,2054.6" fill="#00AD66"/>
<polygon points="601.4,2051.8 638.4,2051.8 638.4,2054.6 621.3,2084.1 618.5,2084.1 601.4,2054.6" fill="#00AD66"/>
<polygon points="639.1,2051.8 676.1,2051.8 676.1,2054.6 659,2084.1 656.2,2084.1 639.1,2054.6" fill="#00AD66"/>
<polygon points="676.8,2051.8 713.8,2051.8 713.8,2054.6 696.7,2084.1 693.9,2084.1 676.8,2054.6" fill="#00AD66"/>
<polygon points="714.5,2051.8 751.5,2051.8 751.5,2054.6 734.4,2084.1 731.6,2084.1 714.5,2054.6" fill="#00AD66"/>
<polygon points="752.2,2051.8 789.2,2051.8 789.2,2054.6 772.1,2084.1 769.3,2084.1 752.2,2054.6" fill="#00AD66"/>
<polygon points="789.9,2051.8 826.9,2051.8 826.9,2054.6 809.8,2084.1 807,2084.1 789.9,2054.6" fill="#00AD66"/>
<polygon points="827.6,2051.8 864.6,2051.8 864.6,2054.6 847.5,2084.1 844.7,2084.1 827.6,2054.6" fill="#00AD66"/>
<polygon points="865.3,2051.8 902.3,2051.8 902.3,2054.6 885.2,2084.1 882.4,2084.1 865.3,2054.6" fill="#00AD66"/>
<polygon points="903,2051.8 940,2051.8 940,2054.6 922.9,2084.1 920.1,2084.1 903,2054.6" fill="#00AD66"/>
<polygon points="940.7,2051.8 977.7,2051.8 977.7,2054.6 960.6,2084.1 957.8,2084.1 940.7,2054.6" fill="#00AD66"/>
<polygon points="978.4,2051.8 1015.4,2051.8 1015.4,2054.6 998.3,2084.1 995.5,2084.1 978.4,2054.6" fill="#00AD66"/>
<polygon points="1016.1,2051.8 1053.1,2051.8 1053.1,2054.6 1036,2084.1 1033.2,2084.1 1016.1,2054.6" fill="#00AD66"/>
<polygon points="1053.8,2051.8 1090.8,2051.8 1090.8,2054.6 1073.7,2084.1 1070.9,2084.1 1053.8,2054.6" fill="#00AD66"/>
<polygon points="1091.5,2051.8 1128.5,2051.8 1128.5,2054.6 1111.4,2084.1 1108.6,2084.1 1091.5,2054.6" fill="#00AD66"/>
<polygon points="1129.2,2051.8 1166.2,2051.8 1166.2,2054.6 1149.1,2084.1 1146.3,2084.1 1129.2,2054.6" fill="#00AD66"/>
<polygon points="1166.9,2051.8 1203.9,2051.8 1203.9,2054.6 1186.8,2084.1 1184,2084.1 1166.9,2054.6" fill="#00AD66"/>
<polygon points="1204.6,2051.8 1241.6,2051.8 1241.6,2054.6 1224.5,2084.1 1221.7,2084.1 1204.6,2054.6" fill="#00AD66"/>
<polygon points="1242.3,2051.8 1279.3,2051.8 1279.3,2054.6 1262.2,2084.1 1259.4,2084.1 1242.3,2054.6" fill="#00AD66"/>
<polygon points="1280,2051.8 1317,2051.8 1317,2054.6 1299.9,2084.1 1297.1,2084.1 1280,2054.6" fill="#00AD66"/>
<polygon points="1317.7,2051.8 1354.7,2051.8 1354.7,2054.6 1337.6,2084.1 1334.8,2084.1 1317.7,2054.6" fill="#00AD66"/>
<polygon points="1355.4,2051.8 1392.4,2051.8 1392.4,2054.6 1375.3,2084.1 1372.5,2084.1 1355.4,2054.6" fill="#00AD66"/>
<polygon points="1393.1,2051.8 1430.1,2051.8 1430.1,2054.6 1413,2084.1 1410.2,2084.1 1393.1,2054.6" fill="#00AD66"/>
<polygon points="1430.8,2051.8 1467.8,2051.8 1467.8,2054.6 1450.7,2084.1 1447.9,2084.1 1430.8,2054.6" fill="#00AD66"/>
<polygon points="1468.5,2051.8 1505.5,2051.8 1505.5,2054.6 1488.4,2084.1 1485.6,2084.1 1468.5,2054.6" fill="#00AD66"/>
<polygon points="1506.2,2051.8 1543.2,2051.8 1543.2,2054.6 1526.1,2084.1 1523.3,2084.1 1506.2,2054.6" fill="#00AD66"/>
<polygon points="1543.9,2051.8 1580.9,2051.8 1580.9,2054.6 1563.8,2084.1 1561,2084.1 1543.9,2054.6" fill="#00AD66"/>
<polygon points="1581.6,2051.8 1618.6,2051.8 1618.6,2054.6 1601.5,2084.1 1598.7,2084.1 1581.6,2054.6" fill="#00AD66"/>
<polygon points="1619.3,2051.8 1656.3,2051.8 1656.3,2054.6 1639.2,2084.1 1636.4,2084.1 1619.3,2054.6" fill="#00AD66"/>
<polygon points="1657,2051.8 1694,2051.8 1694,2054.6 1676.9,2084.1 1674.1,2084.1 1657,2054.6" fill="#00AD66"/>
<polygon points="1694.7,2051.2 1731.7,2051.2 1731.7,2053.9 1714.6,2083.5 1711.8,2083.5 1694.7,2053.9" fill="#00AD66"/>
<polygon points="1732.4,2050.8 1769.4,2050.8 1769.4,2053.6 1752.3,2083.1 1749.5,2083.1 1732.4,2053.6" fill="#00AD66"/>
<polygon points="1770.1,2050.3 1807.1,2050.3 1807.1,2053.2 1790,2082.7 1787.2,2082.7 1770.1,2053.2" fill="#00AD66"/>
<polygon points="1807.8,2049.9 1844.8,2049.9 1844.8,2052.8 1827.7,2082.3 1824.9,2082.3 1807.8,2052.8" fill="#00AD66"/>
<polygon points="1845.5,2049.2 1882.5,2049.2 1882.5,2051.9 1865.4,2081.5 1862.6,2081.5 1845.5,2051.9" fill="#00AD66"/>
<polygon points="1883.2,2048 1920.2,2048 1920.2,2050.8 1903.1,2080.3 1900.3,2080.3 1883.2,2050.8" fill="#00AD66"/>
<polygon points="1920.9,2046 1957.9,2046 1957.9,2048.8 1940.8,2078.3 1938,2078.3 1920.9,2048.8" fill="#00AD66"/>
<polygon points="1958.6,2044 1995.6,2044 1995.6,2046.8 1978.5,2076.4 1975.7,2076.4 1958.6,2046.8" fill="#00AD66"/>
<polygon points="1996.3,2041.2 2033.3,2041.2 2033.3,2044 2016.2,2073.6 2013.4,2073.6 1996.3,2044" fill="#00AD66"/>
<polygon points="2034,2038.5 2071,2038.5 2071,2041.2 2053.9,2070.8 2051.1,2070.8 2034,2041.2" fill="#00AD66"/>
<polygon points="227.4,1941.6 245.9,1923.1 248.7,1923.1 267.2,1941.6 267.2,1944.4 248.7,1962.9 245.9,1962.9 227.4,1944.4" fill="#C175E0"/>
<polygon points="260.7,1941.6 279.2,1923.1 282,1923.1 300.5,1941.6 300.5,1944.4 282,1962.9 279.2,1962.9 260.7,1944.4" fill="#C175E0"/>
<polygon points="298.4,1942.2 316.9,1923.7 319.7,1923.7 338.2,1942.2 338.2,1945 319.7,1963.5 316.9,1963.5 298.4,1945" fill="#C175E0"/>
<polygon points="336.1,1942.4 354.6,1923.9 357.4,1923.9 375.9,1942.4 375.9,1945.2 357.4,1963.7 354.6,1963.7 336.1,1945.2" fill="#C175E0"/>
<polygon points="373.8,1942.7 392.3,1924.2 395.1,1924.2 413.6,1942.7 413.6,1945.5 395.1,1964 392.3,1964 373.8,1945.5" fill="#C175E0"/>
<polygon points="411.5,1943.7 430,1925.2 432.8,1925.2 451.3,1943.7 451.3,1946.5 432.8,1965 430,1965 411.5,1946.5" fill="#C175E0"/>
<polygon points="449.2,1943 467.7,1924.5 470.5,1924.5 489,1943 489,1945.8 470.5,1964.3 467.7,1964.3 449.2,1945.8" fill="#C175E0"/>
<polygon points="486.9,1944.1 505.4,1925.6 508.2,1925.6 526.7,1944.1 526.7,1946.9 508.2,1965.4 505.4,1965.4 486.9,1946.9" fill="#C175E0"/>
<polygon points="524.6,1944.1 543.1,1925.6 545.9,1925.6 564.4,1944.1 564.4,1946.9 545.9,1965.4 543.1,1965.4 524.6,1946.9" fill="#C175E0"/>
<polygon points="562.3,1944.1 580.8,1925.6 583.6,1925.6 602.1,1944.1 602.1,1946.9 583.6,1965.4 580.8,1965.4 562.3,1946.9" fill="#C175E0"/>
<polygon points="600,1943.8 618.5,1925.3 621.3,1925.3 639.8,1943.8 639.8,1946.6 621.3,1965.1 618.5,1965.1 600,1946.6" fill="#C175E0"/>
<polygon points="637.7,1943.8 656.2,1925.3 659,1925.3 677.5,1943.8 677.5,1946.6 659,1965.1 656.2,1965.1 637.7,1946.6" fill="#C175E0"/>
<polygon points="675.4,1943.8 693.9,1925.3 696.7,1925.3 715.2,1943.8 715.2,1946.6 696.7,1965.1 693.9,1965.1 675.4,1946.6" fill="#C175E0"/>
<polygon points="713.1,1943.8 731.6,1925.3 734.4,1925.3 752.9,1943.8 752.9,1946.6 734.4,1965.1 731.6,1965.1 713.1,1946.6" fill="#C175E0"/>
<polygon points="750.8,1943.8 769.3,1925.3 772.1,1925.3 790.6,1943.8 790.6,1946.6 772.1,1965.1 769.3,1965.1 750.8,1946.6" fill="#C175E0"/>
<polygon points="788.5,1943.8 807,1925.3 809.8,1925.3 828.3,1943.8 828.3,1946.6 809.8,1965.1 807,1965.1 788.5,1946.6" fill="#C175E0"/>
<polygon points="826.2,1943.8 844.7,1925.3 847.5,1925.3 866,1943.8 866,1946.6 847.5,1965.1 844.7,1965.1 826.2,1946.6" fill="#C175E0"/>
<polygon points="863.9,1943.5 882.4,1925 885.2,1925 903.7,1943.5 903.7,1946.3 885.2,1964.8 882.4,1964.8 863.9,1946.3" fill="#C175E0"/>
<polygon points="901.6,1943.9 920.1,1925.4 922.9,1925.4 941.4,1943.9 941.4,1946.7 922.9,1965.2 920.1,1965.2 901.6,1946.7" fill="#C175E0"/>
<polygon points="939.3,1944.3 957.8,1925.8 960.6,1925.8 979.1,1944.3 979.1,1947.1 960.6,1965.6 957.8,1965.6 939.3,1947.1" fill="#C175E0"/>
<polygon points="977,1944.7 995.5,1926.2 998.3,1926.2 1016.8,1944.7 1016.8,1947.5 998.3,1966 995.5,1966 977,1947.5" fill="#C175E0"/>
<polygon points="1014.7,1945.5 1033.2,1927 1036,1927 1054.5,1945.5 1054.5,1948.3 1036,1966.8 1033.2,1966.8 1014.7,1948.3" fill="#C175E0"/>
<polygon points="1052.4,1945.5 1070.9,1927 1073.7,1927 1092.2,1945.5 1092.2,1948.3 1073.7,1966.8 1070.9,1966.8 1052.4,1948.3" fill="#C175E0"/>
<polygon points="1090.1,1946.2 1108.6,1927.7 1111.4,1927.7 1129.9,1946.2 1129.9,1949 1111.4,1967.5 1108.6,1967.5 1090.1,1949" fill="#C175E0"/>
<polygon points="1127.8,1946.6 1146.3,1928.1 1149.1,1928.1 1167.6,1946.6 1167.6,1949.4 1149.1,1967.9 1146.3,1967.9 1127.8,1949.4" fill="#C175E0"/>
<polygon points="1165.5,1947 1184,1928.5 1186.8,1928.5 1205.3,1947 1205.3,1949.8 1186.8,1968.3 1184,1968.3 1165.5,1949.8" fill="#C175E0"/>
<polygon points="1203.2,1947 1221.7,1928.5 1224.5,1928.5 1243,1947 1243,1949.8 1224.5,1968.3 1221.7,1968.3 1203.2,1949.8" fill="#C175E0"/>
<polygon points="1240.9,1947.4 1259.4,1928.9 1262.2,1928.9 1280.7,1947.4 1280.7,1950.2 1262.2,1968.7 1259.4,1968.7 1240.9,1950.2" fill="#C175E0"/>
<polygon points="1278.6,1947.4 1297.1,1928.9 1299.9,1928.9 1318.4,1947.4 1318.4,1950.2 1299.9,1968.7 1297.1,1968.7 1278.6,1950.2" fill="#C175E0"/>
<polygon points="1316.3,1948.2 1334.8,1929.7 1337.6,1929.7 1356.1,1948.2 1356.1,1951 1337.6,1969.5 1334.8,1969.5 1316.3,1951" fill="#C175E0"/>
<polygon points="1354,1949 1372.5,1930.5 1375.3,1930.5 1393.8,1949 1393.8,1951.8 1375.3,1970.3 1372.5,1970.3 1354,1951.8" fill="#C175E0"/>
<polygon points="1391.7,1949 1410.2,1930.5 1413,1930.5 1431.5,1949 1431.5,1951.8 1413,1970.3 1410.2,1970.3 1391.7,1951.8" fill="#C175E0"/>
<polygon points="1429.4,1949.4 1447.9,1930.9 1450.7,1930.9 1469.2,1949.4 1469.2,1952.2 1450.7,1970.7 1447.9,1970.7 1429.4,1952.2" fill="#C175E0"/>
<polygon points="1467.1,1949.4 1485.6,1930.9 1488.4,1930.9 1506.9,1949.4 1506.9,1952.2 1488.4,1970.7 1485.6,1970.7 1467.1,1952.2" fill="#C175E0"/>
<polygon points="1504.8,1951 1523.3,1932.5 1526.1,1932.5 1544.6,1951 1544.6,1953.8 1526.1,1972.3 1523.3,1972.3 1504.8,1953.8" fill="#C175E0"/>
<polygon points="1542.5,1951 1561,1932.5 1563.8,1932.5 1582.3,1951 1582.3,1953.8 1563.8,1972.3 1561,1972.3 1542.5,1953.8" fill="#C175E0"/>
<polygon points="1580.2,1951.4 1598.7,1932.9 1601.5,1932.9 1620,1951.4 1620,1954.2 1601.5,1972.7 1598.7,1972.7 1580.2,1954.2" fill="#C175E0"/>
<polygon points="1617.9,1952.2 1636.4,1933.7 1639.2,1933.7 1657.7,1952.2 1657.7,1955 1639.2,1973.5 1636.4,1973.5 1617.9,1955" fill="#C175E0"/>
<polygon points="1655.6,1952.6 1674.1,1934.1 1676.9,1934.1 1695.4,1952.6 1695.4,1955.4 1676.9,1973.9 1674.1,1973.9 1655.6,1955.4" fill="#C175E0"/>
<polygon points="1693.3,1953.4 1711.8,1934.9 1714.6,1934.9 1733.1,1953.4 1733.1,1956.2 1714.6,1974.7 1711.8,1974.7 1693.3,1956.2" fill="#C175E0"/>
<polygon points="1731,1953.4 1749.5,1934.9 1752.3,1934.9 1770.8,1953.4 1770.8,1956.2 1752.3,1974.7 1749.5,1974.7 1731,1956.2" fill="#C175E0"/>
<polygon points="1768.7,1953.4 1787.2,1934.9 1790,1934.9 1808.5,1953.4 1808.5,1956.2 1790,1974.7 1787.2,1974.7 1768.7,1956.2" fill="#C175E0"/>
<polygon points="1806.4,1954.2 1824.9,1935.7 1827.7,1935.7 1846.2,1954.2 1846.2,1957 1827.7,1975.5 1824.9,1975.5 1806.4,1957" fill="#C175E0"/>
<polygon points="1844.1,1954.2 1862.6,1935.7 1865.4,1935.7 1883.9,1954.2 1883.9,1957 1865.4,1975.5 1862.6,1975.5 1844.1,1957" fill="#C175E0"/>
<polygon points="1881.8,1954.2 1900.3,1935.7 1903.1,1935.7 1921.6,1954.2 1921.6,1957 1903.1,1975.5 1900.3,1975.5 1881.8,1957" fill="#C175E0"/>
<polygon points="1919.5,1954.2 1938,1935.7 1940.8,1935.7 1959.3,1954.2 1959.3,1957 1940.8,1975.5 1938,1975.5 1919.5,1957" fill="#C175E0"/>
<polygon points="1957.2,1953.4 1975.7,1934.9 1978.5,1934.9 1997,1953.4 1997,1956.2 1978.5,1974.7 1975.7,1974.7 1957.2,1956.2" fill="#C175E0"/>
<polygon points="1994.9,1952.2 2013.4,1933.7 2016.2,1933.7 2034.7,1952.2 2034.7,1955 2016.2,1973.5 2013.4,1973.5 1994.9,1955" fill="#C175E0"/>
<polygon points="2032.6,1948.8 2051.1,1930.3 2053.9,1930.3 2072.4,1948.8 2072.4,1951.6 2053.9,1970.1 2051.1,1970.1 2032.6,1951.6" fill="#C175E0"/>
<polygon points="236.1,2917.9 238.9,2917.9 268.3,2934.9 268.3,2937.7 238.9,2954.7 236.1,2954.7" fill="#00CBCE"/>
<polygon points="269.4,2917.9 272.2,2917.9 301.6,2934.9 301.6,2937.7 272.2,2954.7 269.4,2954.7" fill="#00CBCE"/>
<polygon points="307.1,2917.9 309.9,2917.9 339.3,2934.9 339.3,2937.7 309.9,2954.7 307.1,2954.7" fill="#00CBCE"/>
<polygon points="344.8,2917.9 347.6,2917.9 377,2934.9 377,2937.7 347.6,2954.7 344.8,2954.7" fill="#00CBCE"/>
<polygon points="382.5,2917.9 385.3,2917.9 414.7,2934.9 414.7,2937.7 385.3,2954.7 382.5,2954.7" fill="#00CBCE"/>
<polygon points="420.2,2917.9 423,2917.9 452.4,2934.9 452.4,2937.7 423,2954.7 420.2,2954.7" fill="#00CBCE"/>
<polygon points="457.9,2918 460.7,2918 490.1,2934.9 490.1,2937.7 460.7,2954.7 457.9,2954.7" fill="#00CBCE"/>
<polygon points="495.6,2918 498.4,2918 527.8,2934.9 527.8,2937.7 498.4,2954.7 495.6,2954.7" fill="#00CBCE"/>
<polygon points="533.3,2918 536.1,2918 565.5,2934.9 565.5,2937.7 536.1,2954.7 533.3,2954.7" fill="#00CBCE"/>
<polygon points="571,2918 573.8,2918 603.2,2934.9 603.2,2937.7 573.8,2954.7 571,2954.7" fill="#00CBCE"/>
<polygon points="608.7,2918 611.5,2918 640.9,2934.9 640.9,2937.7 611.5,2954.7 608.7,2954.7" fill="#00CBCE"/>
<polygon points="646.4,2918 649.2,2918 678.6,2935 678.6,2937.8 649.2,2954.7 646.4,2954.7" fill="#00CBCE"/>
<polygon points="684.1,2918 686.9,2918 716.3,2935 716.3,2937.8 686.9,2954.7 684.1,2954.7" fill="#00CBCE"/>
<polygon points="721.8,2918 724.6,2918 754,2935 754,2937.8 724.6,2954.7 721.8,2954.7" fill="#00CBCE"/>
<polygon points="759.5,2918 762.3,2918 791.7,2935 791.7,2937.8 762.3,2954.7 759.5,2954.7" fill="#00CBCE"/>
<polygon points="797.2,2918 800,2918 829.4,2935 829.4,2937.8 800,2954.7 797.2,2954.7" fill="#00CBCE"/>
<polygon points="834.9,2918 837.7,2918 867.1,2935 867.1,2937.8 837.7,2954.8 834.9,2954.8" fill="#00CBCE"/>
<polygon points="872.6,2918 875.4,2918 904.8,2935 904.8,2937.8 875.4,2954.8 872.6,2954.8" fill="#00CBCE"/>
<polygon points="910.3,2918 913.1,2918 942.5,2935 942.5,2937.8 913.1,2954.8 910.3,2954.8" fill="#00CBCE"/>
<polygon points="948,2918 950.8,2918 980.2,2935 980.2,2937.8 950.8,2954.8 948,2954.8" fill="#00CBCE"/>
<polygon points="985.7,2918 988.5,2918 1017.9,2935 1017.9,2937.8 988.5,2954.8 985.7,2954.8" fill="#00CBCE"/>
<polygon points="1023.4,2918 1026.2,2918 1055.6,2935 1055.6,2937.8 1026.2,2954.8 1023.4,2954.8" fill="#00CBCE"/>
<polygon points="1061.1,2918 1063.9,2918 1093.3,2935 1093.3,2937.8 1063.9,2954.8 1061.1,2954.8" fill="#00CBCE"/>
<polygon points="1098.8,2918 1101.6,2918 1131,2935 1131,2937.8 1101.6,2954.8 1098.8,2954.8" fill="#00CBCE"/>
<polygon points="1136.5,2918 1139.3,2918 1168.7,2935 1168.7,2937.8 1139.3,2954.8 1136.5,2954.8" fill="#00CBCE"/>
<polygon points="1174.2,2918 1177,2918 1206.4,2935 1206.4,2937.8 1177,2954.8 1174.2,2954.8" fill="#00CBCE"/>
<polygon points="1211.9,2918.1 1214.7,2918.1 1244.1,2935 1244.1,2937.8 1214.7,2954.8 1211.9,2954.8" fill="#00CBCE"/>
<polygon points="1249.6,2918.1 1252.4,2918.1 1281.8,2935 1281.8,2937.8 1252.4,2954.8 1249.6,2954.8" fill="#00CBCE"/>
<polygon points="1287.3,2918.1 1290.1,2918.1 1319.5,2935 1319.5,2937.8 1290.1,2954.8 1287.3,2954.8" fill="#00CBCE"/>
<polygon points="1325,2918.1 1327.8,2918.1 1357.2,2935 1357.2,2937.8 1327.8,2954.8 1325,2954.8" fill="#00CBCE"/>
<polygon points="1362.7,2918.1 1365.5,2918.1 1394.9,2935 1394.9,2937.8 1365.5,2954.8 1362.7,2954.8" fill="#00CBCE"/>
<polygon points="1400.4,2918.1 1403.2,2918.1 1432.6,2935 1432.6,2937.8 1403.2,2954.8 1400.4,2954.8" fill="#00CBCE"/>
<polygon points="1438.1,2918.1 1440.9,2918.1 1470.3,2935.1 1470.3,2937.9 1440.9,2954.8 1438.1,2954.8" fill="#00CBCE"/>
<polygon points="1475.8,2918.1 1478.6,2918.1 1508,2935.1 1508,2937.9 1478.6,2954.8 1475.8,2954.8" fill="#00CBCE"/>
<polygon points="1513.5,2918.1 1516.3,2918.1 1545.7,2935.1 1545.7,2937.9 1516.3,2954.8 1513.5,2954.8" fill="#00CBCE"/>
<polygon points="1551.2,2918.1 1554,2918.1 1583.4,2935.1 1583.4,2937.9 1554,2954.8 1551.2,2954.8" fill="#00CBCE"/>
<polygon points="1588.9,2918.1 1591.7,2918.1 1621.1,2935.1 1621.1,2937.9 1591.7,2954.8 1588.9,2954.8" fill="#00CBCE"/>
<polygon points="1626.6,2918.1 1629.4,2918.1 1658.8,2935.1 1658.8,2937.9 1629.4,2954.8 1626.6,2954.8" fill="#00CBCE"/>
<polygon points="1664.3,2918.1 1667.1,2918.1 1696.5,2935.1 1696.5,2937.9 1667.1,2954.9 1664.3,2954.9" fill="#00CBCE"/>
<polygon points="1702,2918.1 1704.8,2918.1 1734.2,2935.1 1734.2,2937.9 1704.8,2954.9 1702,2954.9" fill="#00CBCE"/>
<polygon points="1739.7,2918.1 1742.5,2918.1 1771.9,2935.1 1771.9,2937.9 1742.5,2954.9 1739.7,2954.9" fill="#00CBCE"/>
<polygon points="1777.4,2918.1 1780.2,2918.1 1809.6,2935.1 1809.6,2937.9 1780.2,2954.9 1777.4,2954.9" fill="#00CBCE"/>
<polygon points="1815.1,2918.1 1817.9,2918.1 1847.3,2935.1 1847.3,2937.9 1817.9,2954.9 1815.1,2954.9" fill="#00CBCE"/>
<polygon points="1852.8,2917.1 1855.6,2917.1 1885,2934.1 1885,2936.9 1855.6,2953.9 1852.8,2953.9" fill="#00CBCE"/>
<polygon points="1890.5,2914.1 1893.3,2914.1 1922.7,2931.1 1922.7,2933.9 1893.3,2950.9 1890.5,2950.9" fill="#00CBCE"/>
<polygon points="1928.2,2915.1 1931,2915.1 1960.4,2932.1 1960.4,2934.9 1931,2951.9 1928.2,2951.9" fill="#00CBCE"/>
<polygon points="1965.9,3000.3 1968.7,3000.3 1998.1,3017.3 1998.1,3020.1 1968.7,3037.1 1965.9,3037.1" fill="#00CBCE"/>
<polygon points="2003.6,3021.1 2006.4,3021.1 2035.8,3038.1 2035.8,3040.9 2006.4,3057.9 2003.6,3057.9" fill="#00CBCE"/>
<polygon points="232.3,2763 245.9,2754.8 248.7,2754.8 262.3,2763 262.3,2782 248.7,2790.2 245.9,2790.2 232.3,2782" fill="#8B4D4D"/>
<polygon points="265.6,2763 279.2,2754.8 282,2754.8 295.6,2763 295.6,2782 282,2790.2 279.2,2790.2 265.6,2782" fill="#8B4D4D"/>
<polygon points="303.3,2764.8 316.9,2756.7 319.7,2756.7 333.3,2764.8 333.3,2783.8 319.7,2791.9 316.9,2791.9 303.3,2783.8" fill="#8B4D4D"/>
<polygon points="341,2764.8 354.6,2756.7 357.4,2756.7 371,2764.8 371,2783.8 357.4,2791.9 354.6,2791.9 341,2783.8" fill="#8B4D4D"/>
<polygon points="378.7,2764.1 392.3,2755.9 395.1,2755.9 408.7,2764.1 408.7,2783.1 395.1,2791.2 392.3,2791.2 378.7,2783.1" fill="#8B4D4D"/>
<polygon points="416.4,2763 430,2754.8 432.8,2754.8 446.4,2763 446.4,2782 432.8,2790.2 430,2790.2 416.4,2782" fill="#8B4D4D"/>
<polygon points="454.1,2764.1 467.7,2755.9 470.5,2755.9 484.1,2764.1 484.1,2783.1 470.5,2791.2 467.7,2791.2 454.1,2783.1" fill="#8B4D4D"/>
<polygon points="491.8,2764.8 505.4,2756.7 508.2,2756.7 521.8,2764.8 521.8,2783.8 508.2,2791.9 505.4,2791.9 491.8,2783.8" fill="#8B4D4D"/>
<polygon points="529.5,2766.8 543.1,2758.7 545.9,2758.7 559.5,2766.8 559.5,2785.8 545.9,2793.9 543.1,2793.9 529.5,2785.8" fill="#8B4D4D"/>
<polygon points="567.2,2766.8 580.8,2758.7 583.6,2758.7 597.2,2766.8 597.2,2785.8 583.6,2793.9 580.8,2793.9 567.2,2785.8" fill="#8B4D4D"/>
<polygon points="604.9,2766.8 618.5,2758.7 621.3,2758.7 634.9,2766.8 634.9,2785.8 621.3,2793.9 618.5,2793.9 604.9,2785.8" fill="#8B4D4D"/>
<polygon points="642.6,2766.5 656.2,2758.3 659,2758.3 672.6,2766.5 672.6,2785.5 659,2793.7 656.2,2793.7 642.6,2785.5" fill="#8B4D4D"/>
<polygon points="680.3,2766.5 693.9,2758.3 696.7,2758.3 710.3,2766.5 710.3,2785.5 696.7,2793.7 693.9,2793.7 680.3,2785.5" fill="#8B4D4D"/>
<polygon points="718,2766.5 731.6,2758.3 734.4,2758.3 748,2766.5 748,2785.5 734.4,2793.7 731.6,2793.7 718,2785.5" fill="#8B4D4D"/>
<polygon points="755.7,2766.5 769.3,2758.3 772.1,2758.3 785.7,2766.5 785.7,2785.5 772.1,2793.7 769.3,2793.7 755.7,2785.5" fill="#8B4D4D"/>
<polygon points="793.4,2766.5 807,2758.3 809.8,2758.3 823.4,2766.5 823.4,2785.5 809.8,2793.7 807,2793.7 793.4,2785.5" fill="#8B4D4D"/>
<polygon points="831.1,2766.5 844.7,2758.3 847.5,2758.3 861.1,2766.5 861.1,2785.5 847.5,2793.7 844.7,2793.7 831.1,2785.5" fill="#8B4D4D"/>
<polygon points="868.8,2766.5 882.4,2758.3 885.2,2758.3 898.8,2766.5 898.8,2785.5 885.2,2793.7 882.4,2793.7 868.8,2785.5" fill="#8B4D4D"/>
<polygon points="906.5,2766.5 920.1,2758.3 922.9,2758.3 936.5,2766.5 936.5,2785.5 922.9,2793.7 920.1,2793.7 906.5,2785.5" fill="#8B4D4D"/>
<polygon points="944.2,2766.5 957.8,2758.3 960.6,2758.3 974.2,2766.5 974.2,2785.5 960.6,2793.7 957.8,2793.7 944.2,2785.5" fill="#8B4D4D"/>
<polygon points="981.9,2765.3 995.5,2757.2 998.3,2757.2 1011.9,2765.3 1011.9,2784.3 998.3,2792.4 995.5,2792.4 981.9,2784.3" fill="#8B4D4D"/>
<polygon points="1019.6,2765.3 1033.2,2757.2 1036,2757.2 1049.6,2765.3 1049.6,2784.3 1036,2792.4 1033.2,2792.4 1019.6,2784.3" fill="#8B4D4D"/>
<polygon points="1057.3,2767.5 1070.9,2759.3 1073.7,2759.3 1087.3,2767.5 1087.3,2786.5 1073.7,2794.7 1070.9,2794.7 1057.3,2786.5" fill="#8B4D4D"/>
<polygon points="1095,2767.5 1108.6,2759.3 1111.4,2759.3 1125,2767.5 1125,2786.5 1111.4,2794.7 1108.6,2794.7 1095,2786.5" fill="#8B4D4D"/>
<polygon points="1132.7,2767.5 1146.3,2759.3 1149.1,2759.3 1162.7,2767.5 1162.7,2786.5 1149.1,2794.7 1146.3,2794.7 1132.7,2786.5" fill="#8B4D4D"/>
<polygon points="1170.4,2767.5 1184,2759.3 1186.8,2759.3 1200.4,2767.5 1200.4,2786.5 1186.8,2794.7 1184,2794.7 1170.4,2786.5" fill="#8B4D4D"/>
<polygon points="1208.1,2768.5 1221.7,2760.3 1224.5,2760.3 1238.1,2768.5 1238.1,2787.5 1224.5,2795.7 1221.7,2795.7 1208.1,2787.5" fill="#8B4D4D"/>
<polygon points="1245.8,2768.5 1259.4,2760.3 1262.2,2760.3 1275.8,2768.5 1275.8,2787.5 1262.2,2795.7 1259.4,2795.7 1245.8,2787.5" fill="#8B4D4D"/>
<polygon points="1283.5,2768.5 1297.1,2760.3 1299.9,2760.3 1313.5,2768.5 1313.5,2787.5 1299.9,2795.7 1297.1,2795.7 1283.5,2787.5" fill="#8B4D4D"/>
<polygon points="1321.2,2768.5 1334.8,2760.3 1337.6,2760.3 1351.2,2768.5 1351.2,2787.5 1337.6,2795.7 1334.8,2795.7 1321.2,2787.5" fill="#8B4D4D"/>
<polygon points="1358.9,2768.5 1372.5,2760.3 1375.3,2760.3 1388.9,2768.5 1388.9,2787.5 1375.3,2795.7 1372.5,2795.7 1358.9,2787.5" fill="#8B4D4D"/>
<polygon points="1396.6,2768.5 1410.2,2760.3 1413,2760.3 1426.6,2768.5 1426.6,2787.5 1413,2795.7 1410.2,2795.7 1396.6,2787.5" fill="#8B4D4D"/>
<polygon points="1434.3,2766.1 1447.9,2757.9 1450.7,2757.9 1464.3,2766.1 1464.3,2785.1 1450.7,2793.2 1447.9,2793.2 1434.3,2785.1" fill="#8B4D4D"/>
<polygon points="1472,2765.8 1485.6,2757.7 1488.4,2757.7 1502,2765.8 1502,2784.8 1488.4,2792.9 1485.6,2792.9 1472,2784.8" fill="#8B4D4D"/>
<polygon points="1509.7,2765.8 1523.3,2757.7 1526.1,2757.7 1539.7,2765.8 1539.7,2784.8 1526.1,2792.9 1523.3,2792.9 1509.7,2784.8" fill="#8B4D4D"/>
<polygon points="1547.4,2765.8 1561,2757.7 1563.8,2757.7 1577.4,2765.8 1577.4,2784.8 1563.8,2792.9 1561,2792.9 1547.4,2784.8" fill="#8B4D4D"/>
<polygon points="1585.1,2764 1598.7,2755.8 1601.5,2755.8 1615.1,2764 1615.1,2783 1601.5,2791.2 1598.7,2791.2 1585.1,2783" fill="#8B4D4D"/>
<polygon points="1622.8,2764 1636.4,2755.8 1639.2,2755.8 1652.8,2764 1652.8,2783 1639.2,2791.2 1636.4,2791.2 1622.8,2783" fill="#8B4D4D"/>
<polygon points="1660.5,2764 1674.1,2755.8 1676.9,2755.8 1690.5,2764 1690.5,2783 1676.9,2791.2 1674.1,2791.2 1660.5,2783" fill="#8B4D4D"/>
<polygon points="1698.2,2764 1711.8,2755.8 1714.6,2755.8 1728.2,2764 1728.2,2783 1714.6,2791.2 1711.8,2791.2 1698.2,2783" fill="#8B4D4D"/>
<polygon points="1735.9,2763.3 1749.5,2755.2 1752.3,2755.2 1765.9,2763.3 1765.9,2782.3 1752.3,2790.4 1749.5,2790.4 1735.9,2782.3" fill="#8B4D4D"/>
<polygon points="1773.6,2763.3 1787.2,2755.2 1790,2755.2 1803.6,2763.3 1803.6,2782.3 1790,2790.4 1787.2,2790.4 1773.6,2782.3" fill="#8B4D4D"/>
<polygon points="1811.3,2763.3 1824.9,2755.2 1827.7,2755.2 1841.3,2763.3 1841.3,2782.3 1827.7,2790.4 1824.9,2790.4 1811.3,2782.3" fill="#8B4D4D"/>
<polygon points="1849,2763.3 1862.6,2755.2 1865.4,2755.2 1879,2763.3 1879,2782.3 1865.4,2790.4 1862.6,2790.4 1849,2782.3" fill="#8B4D4D"/>
<polygon points="1886.7,2763.3 1900.3,2755.2 1903.1,2755.2 1916.7,2763.3 1916.7,2782.3 1903.1,2790.4 1900.3,2790.4 1886.7,2782.3" fill="#8B4D4D"/>
<polygon points="1924.4,2763.3 1938,2755.2 1940.8,2755.2 1954.4,2763.3 1954.4,2782.3 1940.8,2790.4 1938,2790.4 1924.4,2782.3" fill="#8B4D4D"/>
<polygon points="1962.1,3028 1975.7,3019.8 1978.5,3019.8 1992.1,3028 1992.1,3047 1978.5,3055.2 1975.7,3055.2 1962.1,3047" fill="#8B4D4D"/>
<polygon points="239.6,2644.3 241.9,2637.1 252.1,2637.1 254.4,2644.3 254.4,2647.1 248.4,2651.5 245.6,2651.5 239.6,2647.1" fill="#8E8E00"/><polygon points="241.9,2637.1 245.6,2625.4 248.4,2625.4 252.1,2637.1 252.1,2639.9 241.9,2639.9" fill="#8E8E00"/><polygon points="249.3,2637.1 264.1,2637.1 264.1,2639.9 254.4,2647.1 251.6,2647.1 249.3,2639.9" fill="#8E8E00"/><polygon points="245.6,2648.7 251.6,2644.3 254.4,2644.3 258.1,2655.9 258.1,2658.7 255.3,2658.7 245.6,2651.5" fill="#8E8E00"/><polygon points="235.9,2655.9 239.6,2644.3 242.4,2644.3 248.4,2648.7 248.4,2651.5 238.7,2658.7 235.9,2658.7" fill="#8E8E00"/><polygon points="229.9,2637.1 244.7,2637.1 244.7,2639.9 242.4,2647.1 239.6,2647.1 229.9,2639.9" fill="#8E8E00"/>
<polygon points="272.9,2644.3 275.2,2637.1 285.4,2637.1 287.7,2644.3 287.7,2647.1 281.7,2651.5 278.9,2651.5 272.9,2647.1" fill="#8E8E00"/><polygon points="275.2,2637.1 278.9,2625.4 281.7,2625.4 285.4,2637.1 285.4,2639.9 275.2,2639.9" fill="#8E8E00"/><polygon points="282.6,2637.1 285.4,2637.1 297.4,2637.1 297.4,2639.9 287.7,2647.1 284.9,2647.1 282.6,2639.9" fill="#8E8E00"/><polygon points="278.9,2648.7 284.9,2644.3 287.7,2644.3 291.4,2655.9 291.4,2658.7 288.6,2658.7 278.9,2651.5" fill="#8E8E00"/><polygon points="269.2,2655.9 272.9,2644.3 275.7,2644.3 281.7,2648.7 281.7,2651.5 272,2658.7 269.2,2658.7" fill="#8E8E00"/><polygon points="263.2,2637.1 275.2,2637.1 278,2637.1 278,2639.9 275.7,2647.1 272.9,2647.1 263.2,2639.9" fill="#8E8E00"/>
<polygon points="310.6,2644.3 312.9,2637.1 323.1,2637.1 325.4,2644.3 325.4,2647.1 319.4,2651.5 316.6,2651.5 310.6,2647.1" fill="#8E8E00"/><polygon points="312.9,2637.1 316.6,2625.4 319.4,2625.4 323.1,2637.1 323.1,2639.9 312.9,2639.9" fill="#8E8E00"/><polygon points="320.3,2637.1 323.1,2637.1 335.1,2637.1 335.1,2639.9 325.4,2647.1 322.6,2647.1 320.3,2639.9" fill="#8E8E00"/><polygon points="316.6,2648.7 322.6,2644.3 325.4,2644.3 329.1,2655.9 329.1,2658.7 326.3,2658.7 316.6,2651.5" fill="#8E8E00"/><polygon points="306.9,2655.9 310.6,2644.3 313.4,2644.3 319.4,2648.7 319.4,2651.5 309.7,2658.7 306.9,2658.7" fill="#8E8E00"/><polygon points="300.9,2637.1 312.9,2637.1 315.7,2637.1 315.7,2639.9 313.4,2647.1 310.6,2647.1 300.9,2639.9" fill="#8E8E00"/>
<polygon points="348.3,2644.3 350.6,2637.1 360.8,2637.1 363.1,2644.3 363.1,2647.1 357.1,2651.5 354.3,2651.5 348.3,2647.1" fill="#8E8E00"/><polygon points="350.6,2637.1 354.3,2625.4 357.1,2625.4 360.8,2637.1 360.8,2639.9 350.6,2639.9" fill="#8E8E00"/><polygon points="358,2637.1 372.8,2637.1 372.8,2639.9 363.1,2647.1 360.3,2647.1 358,2639.9" fill="#8E8E00"/><polygon points="354.3,2648.7 360.3,2644.3 363.1,2644.3 366.8,2655.9 366.8,2658.7 364,2658.7 354.3,2651.5" fill="#8E8E00"/><polygon points="344.6,2655.9 348.3,2644.3 351.1,2644.3 357.1,2648.7 357.1,2651.5 347.4,2658.7 344.6,2658.7" fill="#8E8E00"/><polygon points="338.6,2637.1 353.4,2637.1 353.4,2639.9 351.1,2647.1 348.3,2647.1 338.6,2639.9" fill="#8E8E00"/>
<polygon points="386,2644.3 388.3,2637.1 398.5,2637.1 400.8,2644.3 400.8,2647.1 394.8,2651.5 392,2651.5 386,2647.1" fill="#8E8E00"/><polygon points="388.3,2637.1 392,2625.4 394.8,2625.4 398.5,2637.1 398.5,2639.9 388.3,2639.9" fill="#8E8E00"/><polygon points="395.7,2637.1 410.5,2637.1 410.5,2639.9 400.8,2647.1 398,2647.1 395.7,2639.9" fill="#8E8E00"/><polygon points="392,2648.7 398,2644.3 400.8,2644.3 404.5,2655.9 404.5,2658.7 401.7,2658.7 392,2651.5" fill="#8E8E00"/><polygon points="382.3,2655.9 386,2644.3 388.8,2644.3 394.8,2648.7 394.8,2651.5 385.1,2658.7 382.3,2658.7" fill="#8E8E00"/><polygon points="376.3,2637.1 391.1,2637.1 391.1,2639.9 388.8,2647.1 386,2647.1 376.3,2639.9" fill="#8E8E00"/>
<polygon points="423.7,2644.3 426,2637.1 436.2,2637.1 438.5,2644.3 438.5,2647.1 432.5,2651.5 429.7,2651.5 423.7,2647.1" fill="#8E8E00"/><polygon points="426,2637.1 429.7,2625.4 432.5,2625.4 436.2,2637.1 436.2,2639.9 426,2639.9" fill="#8E8E00"/><polygon points="433.4,2637.1 436.2,2637.1 448.2,2637.1 448.2,2639.9 438.5,2647.1 435.7,2647.1 433.4,2639.9" fill="#8E8E00"/><polygon points="429.7,2648.7 435.7,2644.3 438.5,2644.3 442.2,2655.9 442.2,2658.7 439.4,2658.7 429.7,2651.5" fill="#8E8E00"/><polygon points="420,2655.9 423.7,2644.3 426.5,2644.3 432.5,2648.7 432.5,2651.5 422.8,2658.7 420,2658.7" fill="#8E8E00"/><polygon points="414,2637.1 426,2637.1 428.8,2637.1 428.8,2639.9 426.5,2647.1 423.7,2647.1 414,2639.9" fill="#8E8E00"/>
<polygon points="461.4,2644.3 463.7,2637.1 473.9,2637.1 476.2,2644.3 476.2,2647.1 470.2,2651.5 467.4,2651.5 461.4,2647.1" fill="#8E8E00"/><polygon points="463.7,2637.1 467.4,2625.4 470.2,2625.4 473.9,2637.1 473.9,2639.9 463.7,2639.9" fill="#8E8E00"/><polygon points="471.1,2637.1 473.9,2637.1 485.9,2637.1 485.9,2639.9 476.2,2647.1 473.4,2647.1 471.1,2639.9" fill="#8E8E00"/><polygon points="467.4,2648.7 473.4,2644.3 476.2,2644.3 479.9,2655.9 479.9,2658.7 477.1,2658.7 467.4,2651.5" fill="#8E8E00"/><polygon points="457.7,2655.9 461.4,2644.3 464.2,2644.3 470.2,2648.7 470.2,2651.5 460.5,2658.7 457.7,2658.7" fill="#8E8E00"/><polygon points="451.7,2637.1 463.7,2637.1 466.5,2637.1 466.5,2639.9 464.2,2647.1 461.4,2647.1 451.7,2639.9" fill="#8E8E00"/>
<polygon points="499.1,2644.3 501.4,2637.1 511.6,2637.1 513.9,2644.3 513.9,2647.1 507.9,2651.5 505.1,2651.5 499.1,2647.1" fill="#8E8E00"/><polygon points="501.4,2637.1 505.1,2625.4 507.9,2625.4 511.6,2637.1 511.6,2639.9 501.4,2639.9" fill="#8E8E00"/><polygon points="508.8,2637.1 511.6,2637.1 523.6,2637.1 523.6,2639.9 513.9,2647.1 511.1,2647.1 508.8,2639.9" fill="#8E8E00"/><polygon points="505.1,2648.7 511.1,2644.3 513.9,2644.3 517.6,2655.9 517.6,2658.7 514.8,2658.7 505.1,2651.5" fill="#8E8E00"/><polygon points="495.4,2655.9 499.1,2644.3 501.9,2644.3 507.9,2648.7 507.9,2651.5 498.2,2658.7 495.4,2658.7" fill="#8E8E00"/><polygon points="489.4,2637.1 501.4,2637.1 504.2,2637.1 504.2,2639.9 501.9,2647.1 499.1,2647.1 489.4,2639.9" fill="#8E8E00"/>
<polygon points="536.8,2644.3 539.1,2637.1 549.3,2637.1 551.6,2644.3 551.6,2647.1 545.6,2651.5 542.8,2651.5 536.8,2647.1" fill="#8E8E00"/><polygon points="539.1,2637.1 542.8,2625.4 545.6,2625.4 549.3,2637.1 549.3,2639.9 539.1,2639.9" fill="#8E8E00"/><polygon points="546.5,2637.1 561.3,2637.1 561.3,2639.9 551.6,2647.1 548.8,2647.1 546.5,2639.9" fill="#8E8E00"/><polygon points="542.8,2648.7 548.8,2644.3 551.6,2644.3 555.3,2655.9 555.3,2658.7 552.5,2658.7 542.8,2651.5" fill="#8E8E00"/><polygon points="533.1,2655.9 536.8,2644.3 539.6,2644.3 545.6,2648.7 545.6,2651.5 535.9,2658.7 533.1,2658.7" fill="#8E8E00"/><polygon points="527.1,2637.1 541.9,2637.1 541.9,2639.9 539.6,2647.1 536.8,2647.1 527.1,2639.9" fill="#8E8E00"/>
<polygon points="574.5,2644.3 576.8,2637.1 587,2637.1 589.3,2644.3 589.3,2647.1 583.3,2651.5 580.5,2651.5 574.5,2647.1" fill="#8E8E00"/><polygon points="576.8,2637.1 580.5,2625.4 583.3,2625.4 587,2637.1 587,2639.9 576.8,2639.9" fill="#8E8E00"/><polygon points="584.2,2637.1 599,2637.1 599,2639.9 589.3,2647.1 586.5,2647.1 584.2,2639.9" fill="#8E8E00"/><polygon points="580.5,2648.7 586.5,2644.3 589.3,2644.3 593,2655.9 593,2658.7 590.2,2658.7 580.5,2651.5" fill="#8E8E00"/><polygon points="570.8,2655.9 574.5,2644.3 577.3,2644.3 583.3,2648.7 583.3,2651.5 573.6,2658.7 570.8,2658.7" fill="#8E8E00"/><polygon points="564.8,2637.1 579.6,2637.1 579.6,2639.9 577.3,2647.1 574.5,2647.1 564.8,2639.9" fill="#8E8E00"/>
<polygon points="612.2,2644.3 614.5,2637.1 624.7,2637.1 627,2644.3 627,2647.1 621,2651.5 618.2,2651.5 612.2,2647.1" fill="#8E8E00"/><polygon points="614.5,2637.1 618.2,2625.4 621,2625.4 624.7,2637.1 624.7,2639.9 614.5,2639.9" fill="#8E8E00"/><polygon points="621.9,2637.1 624.7,2637.1 636.7,2637.1 636.7,2639.9 627,2647.1 624.2,2647.1 621.9,2639.9" fill="#8E8E00"/><polygon points="618.2,2648.7 624.2,2644.3 627,2644.3 630.7,2655.9 630.7,2658.7 627.9,2658.7 618.2,2651.5" fill="#8E8E00"/><polygon points="608.5,2655.9 612.2,2644.3 615,2644.3 621,2648.7 621,2651.5 611.3,2658.7 608.5,2658.7" fill="#8E8E00"/><polygon points="602.5,2637.1 614.5,2637.1 617.3,2637.1 617.3,2639.9 615,2647.1 612.2,2647.1 602.5,2639.9" fill="#8E8E00"/>
<polygon points="649.9,2644.3 652.2,2637.1 662.4,2637.1 664.7,2644.3 664.7,2647.1 658.7,2651.5 655.9,2651.5 649.9,2647.1" fill="#8E8E00"/><polygon points="652.2,2637.1 655.9,2625.4 658.7,2625.4 662.4,2637.1 662.4,2639.9 652.2,2639.9" fill="#8E8E00"/><polygon points="659.6,2637.1 662.4,2637.1 674.4,2637.1 674.4,2639.9 664.7,2647.1 661.9,2647.1 659.6,2639.9" fill="#8E8E00"/><polygon points="655.9,2648.7 661.9,2644.3 664.7,2644.3 668.4,2655.9 668.4,2658.7 665.6,2658.7 655.9,2651.5" fill="#8E8E00"/><polygon points="646.2,2655.9 649.9,2644.3 652.7,2644.3 658.7,2648.7 658.7,2651.5 649,2658.7 646.2,2658.7" fill="#8E8E00"/><polygon points="640.2,2637.1 652.2,2637.1 655,2637.1 655,2639.9 652.7,2647.1 649.9,2647.1 640.2,2639.9" fill="#8E8E00"/>
<polygon points="687.6,2644.3 689.9,2637.1 700.1,2637.1 702.4,2644.3 702.4,2647.1 696.4,2651.5 693.6,2651.5 687.6,2647.1" fill="#8E8E00"/><polygon points="689.9,2637.1 693.6,2625.4 696.4,2625.4 700.1,2637.1 700.1,2639.9 689.9,2639.9" fill="#8E8E00"/><polygon points="697.3,2637.1 712.1,2637.1 712.1,2639.9 702.4,2647.1 699.6,2647.1 697.3,2639.9" fill="#8E8E00"/><polygon points="693.6,2648.7 699.6,2644.3 702.4,2644.3 706.1,2655.9 706.1,2658.7 703.3,2658.7 693.6,2651.5" fill="#8E8E00"/><polygon points="683.9,2655.9 687.6,2644.3 690.4,2644.3 696.4,2648.7 696.4,2651.5 686.7,2658.7 683.9,2658.7" fill="#8E8E00"/><polygon points="677.9,2637.1 692.7,2637.1 692.7,2639.9 690.4,2647.1 687.6,2647.1 677.9,2639.9" fill="#8E8E00"/>
<polygon points="725.3,2644.3 727.6,2637.1 737.8,2637.1 740.1,2644.3 740.1,2647.1 734.1,2651.5 731.3,2651.5 725.3,2647.1" fill="#8E8E00"/><polygon points="727.6,2637.1 731.3,2625.4 734.1,2625.4 737.8,2637.1 737.8,2639.9 727.6,2639.9" fill="#8E8E00"/><polygon points="735,2637.1 749.8,2637.1 749.8,2639.9 740.1,2647.1 737.3,2647.1 735,2639.9" fill="#8E8E00"/><polygon points="731.3,2648.7 737.3,2644.3 740.1,2644.3 743.8,2655.9 743.8,2658.7 741,2658.7 731.3,2651.5" fill="#8E8E00"/><polygon points="721.6,2655.9 725.3,2644.3 728.1,2644.3 734.1,2648.7 734.1,2651.5 724.4,2658.7 721.6,2658.7" fill="#8E8E00"/><polygon points="715.6,2637.1 730.4,2637.1 730.4,2639.9 728.1,2647.1 725.3,2647.1 715.6,2639.9" fill="#8E8E00"/>
<polygon points="763,2644.3 765.3,2637.1 775.5,2637.1 777.8,2644.3 777.8,2647.1 771.8,2651.5 769,2651.5 763,2647.1" fill="#8E8E00"/><polygon points="765.3,2637.1 769,2625.4 771.8,2625.4 775.5,2637.1 775.5,2639.9 765.3,2639.9" fill="#8E8E00"/><polygon points="772.7,2637.1 775.5,2637.1 787.5,2637.1 787.5,2639.9 777.8,2647.1 775,2647.1 772.7,2639.9" fill="#8E8E00"/><polygon points="769,2648.7 775,2644.3 777.8,2644.3 781.5,2655.9 781.5,2658.7 778.7,2658.7 769,2651.5" fill="#8E8E00"/><polygon points="759.3,2655.9 763,2644.3 765.8,2644.3 771.8,2648.7 771.8,2651.5 762.1,2658.7 759.3,2658.7" fill="#8E8E00"/><polygon points="753.3,2637.1 765.3,2637.1 768.1,2637.1 768.1,2639.9 765.8,2647.1 763,2647.1 753.3,2639.9" fill="#8E8E00"/>
<polygon points="800.7,2644.3 803,2637.1 813.2,2637.1 815.5,2644.3 815.5,2647.1 809.5,2651.5 806.7,2651.5 800.7,2647.1" fill="#8E8E00"/><polygon points="803,2637.1 806.7,2625.4 809.5,2625.4 813.2,2637.1 813.2,2639.9 803,2639.9" fill="#8E8E00"/><polygon points="810.4,2637.1 813.2,2637.1 825.2,2637.1 825.2,2639.9 815.5,2647.1 812.7,2647.1 810.4,2639.9" fill="#8E8E00"/><polygon points="806.7,2648.7 812.7,2644.3 815.5,2644.3 819.2,2655.9 819.2,2658.7 816.4,2658.7 806.7,2651.5" fill="#8E8E00"/><polygon points="797,2655.9 800.7,2644.3 803.5,2644.3 809.5,2648.7 809.5,2651.5 799.8,2658.7 797,2658.7" fill="#8E8E00"/><polygon points="791,2637.1 803,2637.1 805.8,2637.1 805.8,2639.9 803.5,2647.1 800.7,2647.1 791,2639.9" fill="#8E8E00"/>
<polygon points="838.4,2644.3 840.7,2637.1 850.9,2637.1 853.2,2644.3 853.2,2647.1 847.2,2651.5 844.4,2651.5 838.4,2647.1" fill="#8E8E00"/><polygon points="840.7,2637.1 844.4,2625.4 847.2,2625.4 850.9,2637.1 850.9,2639.9 840.7,2639.9" fill="#8E8E00"/><polygon points="848.1,2637.1 850.9,2637.1 862.9,2637.1 862.9,2639.9 853.2,2647.1 850.4,2647.1 848.1,2639.9" fill="#8E8E00"/><polygon points="844.4,2648.7 850.4,2644.3 853.2,2644.3 856.9,2655.9 856.9,2658.7 854.1,2658.7 844.4,2651.5" fill="#8E8E00"/><polygon points="834.7,2655.9 838.4,2644.3 841.2,2644.3 847.2,2648.7 847.2,2651.5 837.5,2658.7 834.7,2658.7" fill="#8E8E00"/><polygon points="828.7,2637.1 840.7,2637.1 843.5,2637.1 843.5,2639.9 841.2,2647.1 838.4,2647.1 828.7,2639.9" fill="#8E8E00"/>
<polygon points="876.1,2644.3 878.4,2637.1 888.6,2637.1 890.9,2644.3 890.9,2647.1 884.9,2651.5 882.1,2651.5 876.1,2647.1" fill="#8E8E00"/><polygon points="878.4,2637.1 882.1,2625.4 884.9,2625.4 888.6,2637.1 888.6,2639.9 878.4,2639.9" fill="#8E8E00"/><polygon points="885.8,2637.1 900.6,2637.1 900.6,2639.9 890.9,2647.1 888.1,2647.1 885.8,2639.9" fill="#8E8E00"/><polygon points="882.1,2648.7 888.1,2644.3 890.9,2644.3 894.6,2655.9 894.6,2658.7 891.8,2658.7 882.1,2651.5" fill="#8E8E00"/><polygon points="872.4,2655.9 876.1,2644.3 878.9,2644.3 884.9,2648.7 884.9,2651.5 875.2,2658.7 872.4,2658.7" fill="#8E8E00"/><polygon points="866.4,2637.1 881.2,2637.1 881.2,2639.9 878.9,2647.1 876.1,2647.1 866.4,2639.9" fill="#8E8E00"/>
<polygon points="913.8,2644.2 916.1,2637.1 926.3,2637.1 928.6,2644.2 928.6,2647 922.6,2651.5 919.8,2651.5 913.8,2647" fill="#8E8E00"/><polygon points="916.1,2637.1 919.8,2625.4 922.6,2625.4 926.3,2637.1 926.3,2639.9 916.1,2639.9" fill="#8E8E00"/><polygon points="923.5,2637.1 938.3,2637.1 938.3,2639.9 928.6,2647 925.8,2647 923.5,2639.9" fill="#8E8E00"/><polygon points="919.8,2648.7 925.8,2644.2 928.6,2644.2 932.3,2655.9 932.3,2658.7 929.5,2658.7 919.8,2651.5" fill="#8E8E00"/><polygon points="910.1,2655.9 913.8,2644.2 916.6,2644.2 922.6,2648.7 922.6,2651.5 912.9,2658.7 910.1,2658.7" fill="#8E8E00"/><polygon points="904.1,2637.1 918.9,2637.1 918.9,2639.9 916.6,2647 913.8,2647 904.1,2639.9" fill="#8E8E00"/>
<polygon points="951.5,2644.2 953.8,2637.1 964,2637.1 966.3,2644.2 966.3,2647 960.3,2651.5 957.5,2651.5 951.5,2647" fill="#8E8E00"/><polygon points="953.8,2637.1 957.5,2625.4 960.3,2625.4 964,2637.1 964,2639.8 953.8,2639.8" fill="#8E8E00"/><polygon points="961.2,2637.1 964,2637.1 976,2637.1 976,2639.9 966.3,2647 963.5,2647 961.2,2639.8" fill="#8E8E00"/><polygon points="957.5,2648.7 963.5,2644.2 966.3,2644.2 970,2655.9 970,2658.7 967.2,2658.7 957.5,2651.5" fill="#8E8E00"/><polygon points="947.8,2655.9 951.5,2644.2 954.3,2644.2 960.3,2648.7 960.3,2651.5 950.6,2658.7 947.8,2658.7" fill="#8E8E00"/><polygon points="941.8,2637.1 953.8,2637.1 956.6,2637.1 956.6,2639.8 954.3,2647 951.5,2647 941.8,2639.9" fill="#8E8E00"/>
<polygon points="989.2,2644.2 991.5,2637 1001.7,2637 1004,2644.2 1004,2647 998,2651.5 995.2,2651.5 989.2,2647" fill="#8E8E00"/><polygon points="991.5,2637 995.2,2625.4 998,2625.4 1001.7,2637 1001.7,2639.8 991.5,2639.8" fill="#8E8E00"/><polygon points="998.9,2637 1001.7,2637 1013.7,2637 1013.7,2639.8 1004,2647 1001.2,2647 998.9,2639.8" fill="#8E8E00"/><polygon points="995.2,2648.7 1001.2,2644.2 1004,2644.2 1007.7,2655.9 1007.7,2658.7 1004.9,2658.7 995.2,2651.5" fill="#8E8E00"/><polygon points="985.5,2655.9 989.2,2644.2 992,2644.2 998,2648.7 998,2651.5 988.3,2658.7 985.5,2658.7" fill="#8E8E00"/><polygon points="979.5,2637 991.5,2637 994.3,2637 994.3,2639.8 992,2647 989.2,2647 979.5,2639.8" fill="#8E8E00"/>
<polygon points="1026.9,2644.2 1029.2,2637 1039.4,2637 1041.7,2644.2 1041.7,2647 1035.7,2651.5 1032.9,2651.5 1026.9,2647" fill="#8E8E00"/><polygon points="1029.2,2637 1032.9,2625.4 1035.7,2625.4 1039.4,2637 1039.4,2639.8 1029.2,2639.8" fill="#8E8E00"/><polygon points="1036.6,2637 1051.4,2637 1051.4,2639.8 1041.7,2647 1038.9,2647 1036.6,2639.8" fill="#8E8E00"/><polygon points="1032.9,2648.7 1038.9,2644.2 1041.7,2644.2 1045.4,2655.9 1045.4,2658.7 1042.6,2658.7 1032.9,2651.5" fill="#8E8E00"/><polygon points="1023.2,2655.9 1026.9,2644.2 1029.7,2644.2 1035.7,2648.7 1035.7,2651.5 1026,2658.7 1023.2,2658.7" fill="#8E8E00"/><polygon points="1017.2,2637 1032,2637 1032,2639.8 1029.7,2647 1026.9,2647 1017.2,2639.8" fill="#8E8E00"/>
<polygon points="1064.6,2644.2 1066.9,2637 1077.1,2637 1079.4,2644.2 1079.4,2647 1073.4,2651.5 1070.6,2651.5 1064.6,2647" fill="#8E8E00"/><polygon points="1066.9,2637 1070.6,2625.4 1073.4,2625.4 1077.1,2637 1077.1,2639.8 1066.9,2639.8" fill="#8E8E00"/><polygon points="1074.3,2637 1089.1,2637 1089.1,2639.8 1079.4,2647 1076.6,2647 1074.3,2639.8" fill="#8E8E00"/><polygon points="1070.6,2648.7 1076.6,2644.2 1079.4,2644.2 1083.1,2655.9 1083.1,2658.7 1080.3,2658.7 1070.6,2651.5" fill="#8E8E00"/><polygon points="1060.9,2655.9 1064.6,2644.2 1067.4,2644.2 1073.4,2648.7 1073.4,2651.5 1063.7,2658.7 1060.9,2658.7" fill="#8E8E00"/><polygon points="1054.9,2637 1069.7,2637 1069.7,2639.8 1067.4,2647 1064.6,2647 1054.9,2639.8" fill="#8E8E00"/>
<polygon points="1102.3,2644.2 1104.6,2637 1114.8,2637 1117.1,2644.2 1117.1,2647 1111.1,2651.5 1108.3,2651.5 1102.3,2647" fill="#8E8E00"/><polygon points="1104.6,2637 1108.3,2625.4 1111.1,2625.4 1114.8,2637 1114.8,2639.8 1104.6,2639.8" fill="#8E8E00"/><polygon points="1112,2637 1114.8,2637 1126.8,2637 1126.8,2639.8 1117.1,2647 1114.3,2647 1112,2639.8" fill="#8E8E00"/><polygon points="1108.3,2648.7 1114.3,2644.2 1117.1,2644.2 1120.8,2655.9 1120.8,2658.7 1118,2658.7 1108.3,2651.5" fill="#8E8E00"/><polygon points="1098.6,2655.9 1102.3,2644.2 1105.1,2644.2 1111.1,2648.7 1111.1,2651.5 1101.4,2658.7 1098.6,2658.7" fill="#8E8E00"/><polygon points="1092.6,2637 1104.6,2637 1107.4,2637 1107.4,2639.8 1105.1,2647 1102.3,2647 1092.6,2639.8" fill="#8E8E00"/>
<polygon points="1140,2644.2 1142.3,2637 1152.5,2637 1154.8,2644.2 1154.8,2647 1148.8,2651.5 1146,2651.5 1140,2647" fill="#8E8E00"/><polygon points="1142.3,2637 1146,2625.4 1148.8,2625.4 1152.5,2637 1152.5,2639.8 1142.3,2639.8" fill="#8E8E00"/><polygon points="1149.7,2637 1152.5,2637 1164.5,2637 1164.5,2639.8 1154.8,2647 1152,2647 1149.7,2639.8" fill="#8E8E00"/><polygon points="1146,2648.7 1152,2644.2 1154.8,2644.2 1158.5,2655.9 1158.5,2658.7 1155.7,2658.7 1146,2651.5" fill="#8E8E00"/><polygon points="1136.3,2655.9 1140,2644.2 1142.8,2644.2 1148.8,2648.7 1148.8,2651.5 1139.1,2658.7 1136.3,2658.7" fill="#8E8E00"/><polygon points="1130.3,2637 1142.3,2637 1145.1,2637 1145.1,2639.8 1142.8,2647 1140,2647 1130.3,2639.8" fill="#8E8E00"/>
<polygon points="1177.7,2644.2 1180,2637 1190.2,2637 1192.5,2644.2 1192.5,2647 1186.5,2651.5 1183.7,2651.5 1177.7,2647" fill="#8E8E00"/><polygon points="1180,2637 1183.7,2625.4 1186.5,2625.4 1190.2,2637 1190.2,2639.8 1180,2639.8" fill="#8E8E00"/><polygon points="1187.4,2637 1190.2,2637 1202.2,2637 1202.2,2639.8 1192.5,2647 1189.7,2647 1187.4,2639.8" fill="#8E8E00"/><polygon points="1183.7,2648.7 1189.7,2644.2 1192.5,2644.2 1196.2,2655.9 1196.2,2658.7 1193.4,2658.7 1183.7,2651.5" fill="#8E8E00"/><polygon points="1174,2655.9 1177.7,2644.2 1180.5,2644.2 1186.5,2648.7 1186.5,2651.5 1176.8,2658.7 1174,2658.7" fill="#8E8E00"/><polygon points="1168,2637 1180,2637 1182.8,2637 1182.8,2639.8 1180.5,2647 1177.7,2647 1168,2639.8" fill="#8E8E00"/>
<polygon points="1215.4,2644.2 1217.7,2637 1227.9,2637 1230.2,2644.2 1230.2,2647 1224.2,2651.5 1221.4,2651.5 1215.4,2647" fill="#8E8E00"/><polygon points="1217.7,2637 1221.4,2625.4 1224.2,2625.4 1227.9,2637 1227.9,2639.8 1217.7,2639.8" fill="#8E8E00"/><polygon points="1225.1,2637 1239.9,2637 1239.9,2639.8 1230.2,2647 1227.4,2647 1225.1,2639.8" fill="#8E8E00"/><polygon points="1221.4,2648.7 1227.4,2644.2 1230.2,2644.2 1233.9,2655.9 1233.9,2658.7 1231.1,2658.7 1221.4,2651.5" fill="#8E8E00"/><polygon points="1211.7,2655.9 1215.4,2644.2 1218.2,2644.2 1224.2,2648.7 1224.2,2651.5 1214.5,2658.7 1211.7,2658.7" fill="#8E8E00"/><polygon points="1205.7,2637 1220.5,2637 1220.5,2639.8 1218.2,2647 1215.4,2647 1205.7,2639.8" fill="#8E8E00"/>
<polygon points="1253.1,2644.2 1255.4,2637 1265.6,2637 1267.9,2644.2 1267.9,2647 1261.9,2651.5 1259.1,2651.5 1253.1,2647" fill="#8E8E00"/><polygon points="1255.4,2637 1259.1,2625.4 1261.9,2625.4 1265.6,2637 1265.6,2639.8 1255.4,2639.8" fill="#8E8E00"/><polygon points="1262.8,2637 1277.6,2637 1277.6,2639.8 1267.9,2647 1265.1,2647 1262.8,2639.8" fill="#8E8E00"/><polygon points="1259.1,2648.7 1265.1,2644.2 1267.9,2644.2 1271.6,2655.9 1271.6,2658.7 1268.8,2658.7 1259.1,2651.5" fill="#8E8E00"/><polygon points="1249.4,2655.9 1253.1,2644.2 1255.9,2644.2 1261.9,2648.7 1261.9,2651.5 1252.2,2658.7 1249.4,2658.7" fill="#8E8E00"/><polygon points="1243.4,2637 1258.2,2637 1258.2,2639.8 1255.9,2647 1253.1,2647 1243.4,2639.8" fill="#8E8E00"/>
<polygon points="1290.8,2644.2 1293.1,2637 1303.3,2637 1305.6,2644.2 1305.6,2647 1299.6,2651.5 1296.8,2651.5 1290.8,2647" fill="#8E8E00"/><polygon points="1293.1,2637 1296.8,2625.4 1299.6,2625.4 1303.3,2637 1303.3,2639.8 1293.1,2639.8" fill="#8E8E00"/><polygon points="1300.5,2637 1303.3,2637 1315.3,2637 1315.3,2639.8 1305.6,2647 1302.8,2647 1300.5,2639.8" fill="#8E8E00"/><polygon points="1296.8,2648.7 1302.8,2644.2 1305.6,2644.2 1309.3,2655.9 1309.3,2658.7 1306.5,2658.7 1296.8,2651.5" fill="#8E8E00"/><polygon points="1287.1,2655.9 1290.8,2644.2 1293.6,2644.2 1299.6,2648.7 1299.6,2651.5 1289.9,2658.7 1287.1,2658.7" fill="#8E8E00"/><polygon points="1281.1,2637 1293.1,2637 1295.9,2637 1295.9,2639.8 1293.6,2647 1290.8,2647 1281.1,2639.8" fill="#8E8E00"/>
<polygon points="1328.5,2644.2 1330.8,2637 1341,2637 1343.3,2644.2 1343.3,2647 1337.3,2651.5 1334.5,2651.5 1328.5,2647" fill="#8E8E00"/><polygon points="1330.8,2637 1334.5,2625.4 1337.3,2625.4 1341,2637 1341,2639.8 1330.8,2639.8" fill="#8E8E00"/><polygon points="1338.2,2637 1341,2637 1353,2637 1353,2639.8 1343.3,2647 1340.5,2647 1338.2,2639.8" fill="#8E8E00"/><polygon points="1334.5,2648.7 1340.5,2644.2 1343.3,2644.2 1347,2655.9 1347,2658.7 1344.2,2658.7 1334.5,2651.5" fill="#8E8E00"/><polygon points="1324.8,2655.9 1328.5,2644.2 1331.3,2644.2 1337.3,2648.7 1337.3,2651.5 1327.6,2658.7 1324.8,2658.7" fill="#8E8E00"/><polygon points="1318.8,2637 1330.8,2637 1333.6,2637 1333.6,2639.8 1331.3,2647 1328.5,2647 1318.8,2639.8" fill="#8E8E00"/>
<polygon points="1366.2,2644.2 1368.5,2637 1378.7,2637 1381,2644.2 1381,2647 1375,2651.5 1372.2,2651.5 1366.2,2647" fill="#8E8E00"/><polygon points="1368.5,2637 1372.2,2625.4 1375,2625.4 1378.7,2637 1378.7,2639.8 1368.5,2639.8" fill="#8E8E00"/><polygon points="1375.9,2637 1390.7,2637 1390.7,2639.8 1381,2647 1378.2,2647 1375.9,2639.8" fill="#8E8E00"/><polygon points="1372.2,2648.7 1378.2,2644.2 1381,2644.2 1384.7,2655.9 1384.7,2658.7 1381.9,2658.7 1372.2,2651.5" fill="#8E8E00"/><polygon points="1362.5,2655.9 1366.2,2644.2 1369,2644.2 1375,2648.7 1375,2651.5 1365.3,2658.7 1362.5,2658.7" fill="#8E8E00"/><polygon points="1356.5,2637 1371.3,2637 1371.3,2639.8 1369,2647 1366.2,2647 1356.5,2639.8" fill="#8E8E00"/>
<polygon points="1403.9,2644.2 1406.2,2637 1416.4,2637 1418.7,2644.2 1418.7,2647 1412.7,2651.5 1409.9,2651.5 1403.9,2647" fill="#8E8E00"/><polygon points="1406.2,2637 1409.9,2625.4 1412.7,2625.4 1416.4,2637 1416.4,2639.8 1406.2,2639.8" fill="#8E8E00"/><polygon points="1413.6,2637 1428.4,2637 1428.4,2639.8 1418.7,2647 1415.9,2647 1413.6,2639.8" fill="#8E8E00"/><polygon points="1409.9,2648.7 1415.9,2644.2 1418.7,2644.2 1422.4,2655.9 1422.4,2658.7 1419.6,2658.7 1409.9,2651.5" fill="#8E8E00"/><polygon points="1400.2,2655.9 1403.9,2644.2 1406.7,2644.2 1412.7,2648.7 1412.7,2651.5 1403,2658.7 1400.2,2658.7" fill="#8E8E00"/><polygon points="1394.2,2637 1409,2637 1409,2639.8 1406.7,2647 1403.9,2647 1394.2,2639.8" fill="#8E8E00"/>
<polygon points="1441.6,2644.2 1443.9,2637 1454.1,2637 1456.4,2644.2 1456.4,2647 1450.4,2651.5 1447.6,2651.5 1441.6,2647" fill="#8E8E00"/><polygon points="1443.9,2637 1447.6,2625.4 1450.4,2625.4 1454.1,2637 1454.1,2639.8 1443.9,2639.8" fill="#8E8E00"/><polygon points="1451.3,2637 1454.1,2637 1466.1,2637 1466.1,2639.8 1456.4,2647 1453.6,2647 1451.3,2639.8" fill="#8E8E00"/><polygon points="1447.6,2648.7 1453.6,2644.2 1456.4,2644.2 1460.1,2655.9 1460.1,2658.7 1457.3,2658.7 1447.6,2651.5" fill="#8E8E00"/><polygon points="1437.9,2655.9 1441.6,2644.2 1444.4,2644.2 1450.4,2648.7 1450.4,2651.5 1440.7,2658.7 1437.9,2658.7" fill="#8E8E00"/><polygon points="1431.9,2637 1443.9,2637 1446.7,2637 1446.7,2639.8 1444.4,2647 1441.6,2647 1431.9,2639.8" fill="#8E8E00"/>
<polygon points="1479.3,2644.2 1481.6,2637 1491.8,2637 1494.1,2644.2 1494.1,2647 1488.1,2651.5 1485.3,2651.5 1479.3,2647" fill="#8E8E00"/><polygon points="1481.6,2637 1485.3,2625.4 1488.1,2625.4 1491.8,2637 1491.8,2639.8 1481.6,2639.8" fill="#8E8E00"/><polygon points="1489,2637 1491.8,2637 1503.8,2637 1503.8,2639.8 1494.1,2647 1491.3,2647 1489,2639.8" fill="#8E8E00"/><polygon points="1485.3,2648.7 1491.3,2644.2 1494.1,2644.2 1497.8,2655.9 1497.8,2658.7 1495,2658.7 1485.3,2651.5" fill="#8E8E00"/><polygon points="1475.6,2655.9 1479.3,2644.2 1482.1,2644.2 1488.1,2648.7 1488.1,2651.5 1478.4,2658.7 1475.6,2658.7" fill="#8E8E00"/><polygon points="1469.6,2637 1481.6,2637 1484.4,2637 1484.4,2639.8 1482.1,2647 1479.3,2647 1469.6,2639.8" fill="#8E8E00"/>
<polygon points="1517,2644.2 1519.3,2637 1529.5,2637 1531.8,2644.2 1531.8,2647 1525.8,2651.5 1523,2651.5 1517,2647" fill="#8E8E00"/><polygon points="1519.3,2637 1523,2625.4 1525.8,2625.4 1529.5,2637 1529.5,2639.8 1519.3,2639.8" fill="#8E8E00"/><polygon points="1526.7,2637 1529.5,2637 1541.5,2637 1541.5,2639.8 1531.8,2647 1529,2647 1526.7,2639.8" fill="#8E8E00"/><polygon points="1523,2648.7 1529,2644.2 1531.8,2644.2 1535.5,2655.9 1535.5,2658.7 1532.7,2658.7 1523,2651.5" fill="#8E8E00"/><polygon points="1513.3,2655.9 1517,2644.2 1519.8,2644.2 1525.8,2648.7 1525.8,2651.5 1516.1,2658.7 1513.3,2658.7" fill="#8E8E00"/><polygon points="1507.3,2637 1519.3,2637 1522.1,2637 1522.1,2639.8 1519.8,2647 1517,2647 1507.3,2639.8" fill="#8E8E00"/>
<polygon points="1554.7,2644.2 1557,2637 1567.2,2637 1569.5,2644.2 1569.5,2647 1563.5,2651.5 1560.7,2651.5 1554.7,2647" fill="#8E8E00"/><polygon points="1557,2637 1560.7,2625.4 1563.5,2625.4 1567.2,2637 1567.2,2639.8 1557,2639.8" fill="#8E8E00"/><polygon points="1564.4,2637 1579.2,2637 1579.2,2639.8 1569.5,2647 1566.7,2647 1564.4,2639.8" fill="#8E8E00"/><polygon points="1560.7,2648.7 1566.7,2644.2 1569.5,2644.2 1573.2,2655.9 1573.2,2658.7 1570.4,2658.7 1560.7,2651.5" fill="#8E8E00"/><polygon points="1551,2655.9 1554.7,2644.2 1557.5,2644.2 1563.5,2648.7 1563.5,2651.5 1553.8,2658.7 1551,2658.7" fill="#8E8E00"/><polygon points="1545,2637 1559.8,2637 1559.8,2639.8 1557.5,2647 1554.7,2647 1545,2639.8" fill="#8E8E00"/>
<polygon points="1592.4,2644.2 1594.7,2637 1604.9,2637 1607.2,2644.2 1607.2,2647 1601.2,2651.5 1598.4,2651.5 1592.4,2647" fill="#8E8E00"/><polygon points="1594.7,2637 1598.4,2625.4 1601.2,2625.4 1604.9,2637 1604.9,2639.8 1594.7,2639.8" fill="#8E8E00"/><polygon points="1602.1,2637 1616.9,2637 1616.9,2639.8 1607.2,2647 1604.4,2647 1602.1,2639.8" fill="#8E8E00"/><polygon points="1598.4,2648.7 1604.4,2644.2 1607.2,2644.2 1610.9,2655.9 1610.9,2658.7 1608.1,2658.7 1598.4,2651.5" fill="#8E8E00"/><polygon points="1588.7,2655.9 1592.4,2644.2 1595.2,2644.2 1601.2,2648.7 1601.2,2651.5 1591.5,2658.7 1588.7,2658.7" fill="#8E8E00"/><polygon points="1582.7,2637 1597.5,2637 1597.5,2639.8 1595.2,2647 1592.4,2647 1582.7,2639.8" fill="#8E8E00"/>
<polygon points="1630.1,2644.2 1632.4,2637 1642.6,2637 1644.9,2644.2 1644.9,2647 1638.9,2651.5 1636.1,2651.5 1630.1,2647" fill="#8E8E00"/><polygon points="1632.4,2637 1636.1,2625.4 1638.9,2625.4 1642.6,2637 1642.6,2639.8 1632.4,2639.8" fill="#8E8E00"/><polygon points="1639.8,2637 1642.6,2637 1654.6,2637 1654.6,2639.8 1644.9,2647 1642.1,2647 1639.8,2639.8" fill="#8E8E00"/><polygon points="1636.1,2648.7 1642.1,2644.2 1644.9,2644.2 1648.6,2655.8 1648.6,2658.7 1645.8,2658.7 1636.1,2651.5" fill="#8E8E00"/><polygon points="1626.4,2655.8 1630.1,2644.2 1632.9,2644.2 1638.9,2648.7 1638.9,2651.5 1629.2,2658.7 1626.4,2658.7" fill="#8E8E00"/><polygon points="1620.4,2637 1632.4,2637 1635.2,2637 1635.2,2639.8 1632.9,2647 1630.1,2647 1620.4,2639.8" fill="#8E8E00"/>
<polygon points="1667.8,2644.2 1670.1,2637 1680.3,2637 1682.6,2644.2 1682.6,2647 1676.6,2651.5 1673.8,2651.5 1667.8,2647" fill="#8E8E00"/><polygon points="1670.1,2637 1673.8,2625.4 1676.6,2625.4 1680.3,2637 1680.3,2639.8 1670.1,2639.8" fill="#8E8E00"/><polygon points="1677.5,2637 1680.3,2637 1692.3,2637 1692.3,2639.8 1682.6,2647 1679.8,2647 1677.5,2639.8" fill="#8E8E00"/><polygon points="1673.8,2648.7 1679.8,2644.2 1682.6,2644.2 1686.3,2655.8 1686.3,2658.6 1683.5,2658.6 1673.8,2651.5" fill="#8E8E00"/><polygon points="1664.1,2655.8 1667.8,2644.2 1670.6,2644.2 1676.6,2648.7 1676.6,2651.5 1666.9,2658.6 1664.1,2658.6" fill="#8E8E00"/><polygon points="1658.1,2637 1670.1,2637 1672.9,2637 1672.9,2639.8 1670.6,2647 1667.8,2647 1658.1,2639.8" fill="#8E8E00"/>
<polygon points="1705.5,2644.2 1707.8,2637 1718,2637 1720.3,2644.2 1720.3,2647 1714.3,2651.4 1711.5,2651.4 1705.5,2647" fill="#8E8E00"/><polygon points="1707.8,2637 1711.5,2625.4 1714.3,2625.4 1718,2637 1718,2639.8 1707.8,2639.8" fill="#8E8E00"/><polygon points="1715.2,2637 1730,2637 1730,2639.8 1720.3,2647 1717.5,2647 1715.2,2639.8" fill="#8E8E00"/><polygon points="1711.5,2648.7 1717.5,2644.2 1720.3,2644.2 1724,2655.8 1724,2658.6 1721.2,2658.6 1711.5,2651.4" fill="#8E8E00"/><polygon points="1701.8,2655.8 1705.5,2644.2 1708.3,2644.2 1714.3,2648.7 1714.3,2651.4 1704.6,2658.6 1701.8,2658.6" fill="#8E8E00"/><polygon points="1695.8,2637 1710.6,2637 1710.6,2639.8 1708.3,2647 1705.5,2647 1695.8,2639.8" fill="#8E8E00"/>
<polygon points="1743.2,2644.2 1745.5,2637 1755.7,2637 1758,2644.2 1758,2647 1752,2651.4 1749.2,2651.4 1743.2,2647" fill="#8E8E00"/><polygon points="1745.5,2637 1749.2,2625.4 1752,2625.4 1755.7,2637 1755.7,2639.8 1745.5,2639.8" fill="#8E8E00"/><polygon points="1752.9,2637 1767.7,2637 1767.7,2639.8 1758,2647 1755.2,2647 1752.9,2639.8" fill="#8E8E00"/><polygon points="1749.2,2648.6 1755.2,2644.2 1758,2644.2 1761.7,2655.8 1761.7,2658.6 1758.9,2658.6 1749.2,2651.4" fill="#8E8E00"/><polygon points="1739.5,2655.8 1743.2,2644.2 1746,2644.2 1752,2648.6 1752,2651.4 1742.3,2658.6 1739.5,2658.6" fill="#8E8E00"/><polygon points="1733.5,2637 1748.3,2637 1748.3,2639.8 1746,2647 1743.2,2647 1733.5,2639.8" fill="#8E8E00"/>
<polygon points="1780.9,2644.2 1783.2,2637 1793.4,2637 1795.7,2644.2 1795.7,2647 1789.7,2651.4 1786.9,2651.4 1780.9,2647" fill="#8E8E00"/><polygon points="1783.2,2637 1786.9,2625.4 1789.7,2625.4 1793.4,2637 1793.4,2639.8 1783.2,2639.8" fill="#8E8E00"/><polygon points="1790.6,2637 1793.4,2637 1805.4,2637 1805.4,2639.8 1795.7,2647 1792.9,2647 1790.6,2639.8" fill="#8E8E00"/><polygon points="1786.9,2648.6 1792.9,2644.2 1795.7,2644.2 1799.4,2655.8 1799.4,2658.6 1796.6,2658.6 1786.9,2651.4" fill="#8E8E00"/><polygon points="1777.2,2655.8 1780.9,2644.2 1783.7,2644.2 1789.7,2648.6 1789.7,2651.4 1780,2658.6 1777.2,2658.6" fill="#8E8E00"/><polygon points="1771.2,2637 1783.2,2637 1786,2637 1786,2639.8 1783.7,2647 1780.9,2647 1771.2,2639.8" fill="#8E8E00"/>
<polygon points="1818.6,2644.2 1820.9,2637 1831.1,2637 1833.4,2644.2 1833.4,2647 1827.4,2651.4 1824.6,2651.4 1818.6,2647" fill="#8E8E00"/><polygon points="1820.9,2637 1824.6,2625.4 1827.4,2625.4 1831.1,2637 1831.1,2639.8 1820.9,2639.8" fill="#8E8E00"/><polygon points="1828.3,2637 1831.1,2637 1843.1,2637 1843.1,2639.8 1833.4,2647 1830.6,2647 1828.3,2639.8" fill="#8E8E00"/><polygon points="1824.6,2648.6 1830.6,2644.2 1833.4,2644.2 1837.1,2655.8 1837.1,2658.6 1834.3,2658.6 1824.6,2651.4" fill="#8E8E00"/><polygon points="1814.9,2655.8 1818.6,2644.2 1821.4,2644.2 1827.4,2648.6 1827.4,2651.4 1817.7,2658.6 1814.9,2658.6" fill="#8E8E00"/><polygon points="1808.9,2637 1820.9,2637 1823.7,2637 1823.7,2639.8 1821.4,2647 1818.6,2647 1808.9,2639.8" fill="#8E8E00"/>
<polygon points="1856.3,2644.2 1858.6,2637 1868.8,2637 1871.1,2644.2 1871.1,2647 1865.1,2651.4 1862.3,2651.4 1856.3,2647" fill="#8E8E00"/><polygon points="1858.6,2637 1862.3,2625.4 1865.1,2625.4 1868.8,2637 1868.8,2639.8 1858.6,2639.8" fill="#8E8E00"/><polygon points="1866,2637 1868.8,2637 1880.8,2637 1880.8,2639.8 1871.1,2647 1868.3,2647 1866,2639.8" fill="#8E8E00"/><polygon points="1862.3,2648.6 1868.3,2644.2 1871.1,2644.2 1874.8,2655.8 1874.8,2658.6 1872,2658.6 1862.3,2651.4" fill="#8E8E00"/><polygon points="1852.6,2655.8 1856.3,2644.2 1859.1,2644.2 1865.1,2648.6 1865.1,2651.4 1855.4,2658.6 1852.6,2658.6" fill="#8E8E00"/><polygon points="1846.6,2637 1858.6,2637 1861.4,2637 1861.4,2639.8 1859.1,2647 1856.3,2647 1846.6,2639.8" fill="#8E8E00"/>
<polygon points="1894,2644.2 1896.3,2637 1906.5,2637 1908.8,2644.2 1908.8,2647 1902.8,2651.4 1900,2651.4 1894,2647" fill="#8E8E00"/><polygon points="1896.3,2637 1900,2625.4 1902.8,2625.4 1906.5,2637 1906.5,2639.8 1896.3,2639.8" fill="#8E8E00"/><polygon points="1903.7,2637 1918.5,2637 1918.5,2639.8 1908.8,2647 1906,2647 1903.7,2639.8" fill="#8E8E00"/><polygon points="1900,2648.6 1906,2644.2 1908.8,2644.2 1912.5,2655.8 1912.5,2658.6 1909.7,2658.6 1900,2651.4" fill="#8E8E00"/><polygon points="1890.3,2655.8 1894,2644.2 1896.8,2644.2 1902.8,2648.6 1902.8,2651.4 1893.1,2658.6 1890.3,2658.6" fill="#8E8E00"/><polygon points="1884.3,2637 1899.1,2637 1899.1,2639.8 1896.8,2647 1894,2647 1884.3,2639.8" fill="#8E8E00"/>
<polygon points="1931.7,2644.2 1934,2637 1944.2,2637 1946.5,2644.2 1946.5,2647 1940.5,2651.4 1937.7,2651.4 1931.7,2647" fill="#8E8E00"/><polygon points="1934,2637 1937.7,2625.3 1940.5,2625.3 1944.2,2637 1944.2,2639.8 1934,2639.8" fill="#8E8E00"/><polygon points="1941.4,2637 1956.2,2637 1956.2,2639.8 1946.5,2647 1943.7,2647 1941.4,2639.8" fill="#8E8E00"/><polygon points="1937.7,2648.6 1943.7,2644.2 1946.5,2644.2 1950.2,2655.8 1950.2,2658.6 1947.4,2658.6 1937.7,2651.4" fill="#8E8E00"/><polygon points="1928,2655.8 1931.7,2644.2 1934.5,2644.2 1940.5,2648.6 1940.5,2651.4 1930.8,2658.6 1928,2658.6" fill="#8E8E00"/><polygon points="1922,2637 1936.8,2637 1936.8,2639.8 1934.5,2647 1931.7,2647 1922,2639.8" fill="#8E8E00"/>
<polygon points="1969.4,2864.6 1971.7,2857.4 1981.9,2857.4 1984.2,2864.6 1984.2,2867.4 1978.2,2871.8 1975.4,2871.8 1969.4,2867.4" fill="#8E8E00"/><polygon points="1971.7,2857.4 1975.4,2845.8 1978.2,2845.8 1981.9,2857.4 1981.9,2860.2 1971.7,2860.2" fill="#8E8E00"/><polygon points="1979.1,2857.4 1993.9,2857.4 1993.9,2860.2 1984.2,2867.4 1981.4,2867.4 1979.1,2860.2" fill="#8E8E00"/><polygon points="1975.4,2869 1981.4,2864.6 1984.2,2864.6 1987.9,2876.2 1987.9,2879 1985.1,2879 1975.4,2871.8" fill="#8E8E00"/><polygon points="1965.7,2876.2 1969.4,2864.6 1972.2,2864.6 1978.2,2869 1978.2,2871.8 1968.5,2879 1965.7,2879" fill="#8E8E00"/><polygon points="1959.7,2857.4 1974.5,2857.4 1974.5,2860.2 1972.2,2867.4 1969.4,2867.4 1959.7,2860.2" fill="#8E8E00"/>
<polygon points="2007.1,3142.7 2009.4,3135.5 2019.6,3135.5 2021.9,3142.7 2021.9,3145.5 2015.9,3149.9 2013.1,3149.9 2007.1,3145.5" fill="#8E8E00"/><polygon points="2009.4,3135.5 2013.1,3123.8 2015.9,3123.8 2019.6,3135.5 2019.6,3138.3 2009.4,3138.3" fill="#8E8E00"/><polygon points="2016.8,3135.5 2031.6,3135.5 2031.6,3138.3 2021.9,3145.5 2019.1,3145.5 2016.8,3138.3" fill="#8E8E00"/><polygon points="2013.1,3147.1 2019.1,3142.7 2021.9,3142.7 2025.6,3154.3 2025.6,3157.1 2022.8,3157.1 2013.1,3149.9" fill="#8E8E00"/><polygon points="2003.4,3154.3 2007.1,3142.7 2009.9,3142.7 2015.9,3147.1 2015.9,3149.9 2006.2,3157.1 2003.4,3157.1" fill="#8E8E00"/><polygon points="1997.4,3135.5 2012.2,3135.5 2012.2,3138.3 2009.9,3145.5 2007.1,3145.5 1997.4,3138.3" fill="#8E8E00"/>
</g>
<g transform="translate(0,84.8) scale(1,1.04)"><text><tspan class="b" x="125.71" y="0" font-size="65" style="letter-spacing:-2.54px">10</tspan><tspan class="r" x="195.1" y="-34.9" font-size="38.5">-1</tspan></text><rect x="128.8" y="-8.23" width="12.08" height="9.43" fill="#fff"/><rect x="149.8" y="-8.23" width="11.25" height="9.43" fill="#fff"/><rect x="209.45" y="-39.78" width="7.75" height="6.48" fill="#fff"/><rect x="221.4" y="-39.78" width="7.45" height="6.48" fill="#fff"/></g>
<g transform="translate(0,711.7) scale(1,1.04)"><text><tspan class="b" x="125.71" y="0" font-size="65" style="letter-spacing:-2.54px">10</tspan><tspan class="r" x="195.1" y="-34.9" font-size="38.5">-2</tspan></text><rect x="128.8" y="-8.23" width="12.08" height="9.43" fill="#fff"/><rect x="149.8" y="-8.23" width="11.25" height="9.43" fill="#fff"/></g>
<g transform="translate(0,1338.6) scale(1,1.04)"><text><tspan class="b" x="125.71" y="0" font-size="65" style="letter-spacing:-2.54px">10</tspan><tspan class="r" x="195.1" y="-34.9" font-size="38.5">-3</tspan></text><rect x="128.8" y="-8.23" width="12.08" height="9.43" fill="#fff"/><rect x="149.8" y="-8.23" width="11.25" height="9.43" fill="#fff"/></g>
<g transform="translate(268,1605.8) scale(1,1.04)"><text><tspan class="b" x="-44.79" y="0" font-size="65" style="letter-spacing:-2.54px">10</tspan><tspan class="r" x="24.9" y="-34.62" font-size="38.5">0</tspan></text><rect x="-41.7" y="-8.23" width="12.08" height="9.43" fill="#fff"/><rect x="-20.7" y="-8.23" width="11.25" height="9.43" fill="#fff"/></g>
<g transform="translate(523,1605.8) scale(1,1.04)"><text><tspan class="b" x="-44.79" y="0" font-size="65" style="letter-spacing:-2.54px">10</tspan><tspan class="r" x="24.9" y="-34.62" font-size="38.5">1</tspan></text><rect x="-41.7" y="-8.23" width="12.08" height="9.43" fill="#fff"/><rect x="-20.7" y="-8.23" width="11.25" height="9.43" fill="#fff"/><rect x="26.43" y="-39.49" width="7.75" height="6.48" fill="#fff"/><rect x="38.38" y="-39.49" width="7.45" height="6.48" fill="#fff"/></g>
<g transform="translate(778,1605.8) scale(1,1.04)"><text><tspan class="b" x="-44.79" y="0" font-size="65" style="letter-spacing:-2.54px">10</tspan><tspan class="r" x="24.9" y="-34.62" font-size="38.5">2</tspan></text><rect x="-41.7" y="-8.23" width="12.08" height="9.43" fill="#fff"/><rect x="-20.7" y="-8.23" width="11.25" height="9.43" fill="#fff"/></g>
<g transform="translate(1033,1605.8) scale(1,1.04)"><text><tspan class="b" x="-44.79" y="0" font-size="65" style="letter-spacing:-2.54px">10</tspan><tspan class="r" x="24.9" y="-34.62" font-size="38.5">3</tspan></text><rect x="-41.7" y="-8.23" width="12.08" height="9.43" fill="#fff"/><rect x="-20.7" y="-8.23" width="11.25" height="9.43" fill="#fff"/></g>
<g transform="translate(1288,1605.8) scale(1,1.04)"><text><tspan class="b" x="-44.79" y="0" font-size="65" style="letter-spacing:-2.54px">10</tspan><tspan class="r" x="24.9" y="-34.62" font-size="38.5">4</tspan></text><rect x="-41.7" y="-8.23" width="12.08" height="9.43" fill="#fff"/><rect x="-20.7" y="-8.23" width="11.25" height="9.43" fill="#fff"/></g>
<g transform="translate(1543,1605.8) scale(1,1.04)"><text><tspan class="b" x="-44.79" y="0" font-size="65" style="letter-spacing:-2.54px">10</tspan><tspan class="r" x="24.9" y="-34.62" font-size="38.5">5</tspan></text><rect x="-41.7" y="-8.23" width="12.08" height="9.43" fill="#fff"/><rect x="-20.7" y="-8.23" width="11.25" height="9.43" fill="#fff"/></g>
<g transform="translate(1798,1605.8) scale(1,1.04)"><text><tspan class="b" x="-44.79" y="0" font-size="65" style="letter-spacing:-2.54px">10</tspan><tspan class="r" x="24.9" y="-34.62" font-size="38.5">6</tspan></text><rect x="-41.7" y="-8.23" width="12.08" height="9.43" fill="#fff"/><rect x="-20.7" y="-8.23" width="11.25" height="9.43" fill="#fff"/></g>
<g transform="translate(2053,1605.8) scale(1,1.04)"><text><tspan class="b" x="-44.79" y="0" font-size="65" style="letter-spacing:-2.54px">10</tspan><tspan class="r" x="24.9" y="-34.62" font-size="38.5">7</tspan></text><rect x="-41.7" y="-8.23" width="12.08" height="9.43" fill="#fff"/><rect x="-20.7" y="-8.23" width="11.25" height="9.43" fill="#fff"/></g>
<g transform="translate(0,1815.5) scale(1,1.04)"><text><tspan class="b" x="98.52" y="0" font-size="69.5" style="letter-spacing:-2.38px">10</tspan><tspan class="b" x="171.2" y="-36.83" font-size="41.5">-2</tspan></text><rect x="101.9" y="-8.69" width="12.84" height="9.89" fill="#fff"/><rect x="124.28" y="-8.69" width="11.96" height="9.89" fill="#fff"/></g>
<g transform="translate(0,2180.25) scale(1,1.04)"><text><tspan class="b" x="98.52" y="0" font-size="69.5" style="letter-spacing:-2.38px">10</tspan><tspan class="b" x="171.2" y="-36.83" font-size="41.5">-3</tspan></text><rect x="101.9" y="-8.69" width="12.84" height="9.89" fill="#fff"/><rect x="124.28" y="-8.69" width="11.96" height="9.89" fill="#fff"/></g>
<g transform="translate(0,2545) scale(1,1.04)"><text><tspan class="b" x="98.52" y="0" font-size="69.5" style="letter-spacing:-2.38px">10</tspan><tspan class="b" x="171.2" y="-36.83" font-size="41.5">-4</tspan></text><rect x="101.9" y="-8.69" width="12.84" height="9.89" fill="#fff"/><rect x="124.28" y="-8.69" width="11.96" height="9.89" fill="#fff"/></g>
<g transform="translate(0,2909.75) scale(1,1.04)"><text><tspan class="b" x="98.52" y="0" font-size="69.5" style="letter-spacing:-2.38px">10</tspan><tspan class="b" x="171.2" y="-36.83" font-size="41.5">-5</tspan></text><rect x="101.9" y="-8.69" width="12.84" height="9.89" fill="#fff"/><rect x="124.28" y="-8.69" width="11.96" height="9.89" fill="#fff"/></g>
<g transform="translate(0,3274.5) scale(1,1.04)"><text><tspan class="b" x="98.52" y="0" font-size="69.5" style="letter-spacing:-2.38px">10</tspan><tspan class="b" x="171.2" y="-36.83" font-size="41.5">-6</tspan></text><rect x="101.9" y="-8.69" width="12.84" height="9.89" fill="#fff"/><rect x="124.28" y="-8.69" width="11.96" height="9.89" fill="#fff"/></g>
<g transform="translate(247,3354.8) scale(1,1.04)"><text><tspan class="b" x="-46.98" y="0" font-size="69.5" style="letter-spacing:-2.08px">10</tspan><tspan class="b" x="27.5" y="-36.92" font-size="41.5">0</tspan></text><rect x="-43.6" y="-8.69" width="12.84" height="9.89" fill="#fff"/><rect x="-21.22" y="-8.69" width="11.96" height="9.89" fill="#fff"/></g>
<g transform="translate(505,3354.8) scale(1,1.04)"><text><tspan class="b" x="-46.98" y="0" font-size="69.5" style="letter-spacing:-2.08px">10</tspan><tspan class="b" x="27.5" y="-36.92" font-size="41.5">1</tspan></text><rect x="-43.6" y="-8.69" width="12.84" height="9.89" fill="#fff"/><rect x="-21.22" y="-8.69" width="11.96" height="9.89" fill="#fff"/><rect x="29.11" y="-42.76" width="8.07" height="7.04" fill="#fff"/><rect x="42.88" y="-42.76" width="7.55" height="7.04" fill="#fff"/></g>
<g transform="translate(763,3354.8) scale(1,1.04)"><text><tspan class="b" x="-46.98" y="0" font-size="69.5" style="letter-spacing:-2.08px">10</tspan><tspan class="b" x="27.5" y="-36.92" font-size="41.5">2</tspan></text><rect x="-43.6" y="-8.69" width="12.84" height="9.89" fill="#fff"/><rect x="-21.22" y="-8.69" width="11.96" height="9.89" fill="#fff"/></g>
<g transform="translate(1021,3354.8) scale(1,1.04)"><text><tspan class="b" x="-46.98" y="0" font-size="69.5" style="letter-spacing:-2.08px">10</tspan><tspan class="b" x="27.5" y="-36.92" font-size="41.5">3</tspan></text><rect x="-43.6" y="-8.69" width="12.84" height="9.89" fill="#fff"/><rect x="-21.22" y="-8.69" width="11.96" height="9.89" fill="#fff"/></g>
<g transform="translate(1279,3354.8) scale(1,1.04)"><text><tspan class="b" x="-46.98" y="0" font-size="69.5" style="letter-spacing:-2.08px">10</tspan><tspan class="b" x="27.5" y="-36.92" font-size="41.5">4</tspan></text><rect x="-43.6" y="-8.69" width="12.84" height="9.89" fill="#fff"/><rect x="-21.22" y="-8.69" width="11.96" height="9.89" fill="#fff"/></g>
<g transform="translate(1537,3354.8) scale(1,1.04)"><text><tspan class="b" x="-46.98" y="0" font-size="69.5" style="letter-spacing:-2.08px">10</tspan><tspan class="b" x="27.5" y="-36.92" font-size="41.5">5</tspan></text><rect x="-43.6" y="-8.69" width="12.84" height="9.89" fill="#fff"/><rect x="-21.22" y="-8.69" width="11.96" height="9.89" fill="#fff"/></g>
<g transform="translate(1795,3354.8) scale(1,1.04)"><text><tspan class="b" x="-46.98" y="0" font-size="69.5" style="letter-spacing:-2.08px">10</tspan><tspan class="b" x="27.5" y="-36.92" font-size="41.5">6</tspan></text><rect x="-43.6" y="-8.69" width="12.84" height="9.89" fill="#fff"/><rect x="-21.22" y="-8.69" width="11.96" height="9.89" fill="#fff"/></g>
<g transform="translate(2053,3354.8) scale(1,1.04)"><text><tspan class="b" x="-46.98" y="0" font-size="69.5" style="letter-spacing:-2.08px">10</tspan><tspan class="b" x="27.5" y="-36.92" font-size="41.5">7</tspan></text><rect x="-43.6" y="-8.69" width="12.84" height="9.89" fill="#fff"/><rect x="-21.22" y="-8.69" width="11.96" height="9.89" fill="#fff"/></g>
<g transform="translate(0,1690) scale(1,1.02)"><text><tspan class="b" x="890.22" y="0" font-size="70" style="letter-spacing:-0.95px">Frequency (Hz)</tspan></text></g>
<g transform="translate(0,3431) scale(1,1.02)"><text><tspan class="b" x="884.25" y="0" font-size="69.5" style="letter-spacing:-1.08px">Frequency (Hz)</tspan></text></g>
<g transform="translate(98,961) rotate(-90)"><g transform="translate(0,0) scale(1,1.12)"><text><tspan class="b" x="-2.81" y="0" font-size="72">σ</tspan></text></g><g transform="translate(0,0) scale(1,1.06)"><text><tspan class="b" x="45.73" y="0" font-size="84">' </tspan></text></g><g transform="translate(0,0)"><text><tspan class="b" x="88.72" y="0" font-size="84" style="letter-spacing:0.69px">(S/cm)</tspan></text></g></g>
<g transform="translate(77.1,2747.9) rotate(-90)"><g transform="translate(0,0) scale(1,1.12)"><text><tspan class="b" x="-2.73" y="0" font-size="70">σ</tspan></text></g><g transform="translate(0,0) scale(1,1.06)"><text><tspan class="b" x="45.41" y="0" font-size="82.5">' </tspan></text></g><g transform="translate(0,0)"><text><tspan class="b" x="89.39" y="0" font-size="82.5" style="letter-spacing:0.18px">(S/cm)</tspan></text></g></g>
<g transform="translate(1680.6,152.7) scale(1,1.04)"><text><tspan class="b" x="-0.56" y="0" font-size="50" style="letter-spacing:-1.82px">T=473 </tspan><tspan class="b" x="146.86" y="0" font-size="50">K</tspan></text></g>
<g transform="translate(291.8,232.8) scale(1,1.04)"><text><tspan class="b" x="-0.56" y="0" font-size="50" style="letter-spacing:-1.82px">T=423 </tspan><tspan class="b" x="146.86" y="0" font-size="50">K</tspan></text></g>
<g transform="translate(287.8,373.7) scale(1,1.04)"><text><tspan class="b" x="-0.56" y="0" font-size="50" style="letter-spacing:-1.82px">T=373 </tspan><tspan class="b" x="146.86" y="0" font-size="50">K</tspan></text></g>
<g transform="translate(286.8,557.9) scale(1,1.04)"><text><tspan class="b" x="-0.56" y="0" font-size="50" style="letter-spacing:-1.82px">T=323 </tspan><tspan class="b" x="146.86" y="0" font-size="50">K</tspan></text></g>
<g transform="translate(291.8,789.7) scale(1,1.04)"><text><tspan class="b" x="-0.56" y="0" font-size="50" style="letter-spacing:-1.82px">T=273 </tspan><tspan class="b" x="146.86" y="0" font-size="50">K</tspan></text></g>
<g transform="translate(287.8,1015.8) scale(1,1.04)"><text><tspan class="b" x="-0.56" y="0" font-size="50" style="letter-spacing:-1.82px">T=223 </tspan><tspan class="b" x="146.86" y="0" font-size="50">K</tspan></text></g>
<g transform="translate(287.9,1266.7) scale(1,1.04)"><text><tspan class="b" x="-0.56" y="0" font-size="50" style="letter-spacing:-1.82px">T=173 </tspan><tspan class="b" x="146.86" y="0" font-size="50">K</tspan></text><rect x="57.68" y="-6.7" width="9.52" height="7.9" fill="#fff"/><rect x="74.06" y="-6.7" width="8.89" height="7.9" fill="#fff"/></g>
<g transform="translate(286.8,1473) scale(1,1.04)"><text><tspan class="b" x="-0.56" y="0" font-size="50" style="letter-spacing:-1.82px">T=123 </tspan><tspan class="b" x="146.86" y="0" font-size="50">K</tspan></text><rect x="57.68" y="-6.7" width="9.52" height="7.9" fill="#fff"/><rect x="74.06" y="-6.7" width="8.89" height="7.9" fill="#fff"/></g>
<g transform="translate(267.1,1905.6) scale(1,1.07)"><text><tspan class="b" x="-0.53" y="0" font-size="47.5" style="letter-spacing:-0.86px">T=373 </tspan><tspan class="b" x="145.02" y="0" font-size="47.5">K</tspan></text></g>
<g transform="translate(261.9,2130.6) scale(1,1.07)"><text><tspan class="b" x="-0.53" y="0" font-size="47.5" style="letter-spacing:-0.86px">T=323 </tspan><tspan class="b" x="145.02" y="0" font-size="47.5">K</tspan></text></g>
<g transform="translate(267.1,2266.6) scale(1,1.07)"><text><tspan class="b" x="-0.53" y="0" font-size="47.5" style="letter-spacing:-0.86px">T=273 </tspan><tspan class="b" x="145.02" y="0" font-size="47.5">K</tspan></text></g>
<g transform="translate(281.7,2448.8) scale(1,1.07)"><text><tspan class="b" x="-0.53" y="0" font-size="47.5" style="letter-spacing:-0.86px">T=223 </tspan><tspan class="b" x="145.02" y="0" font-size="47.5">K</tspan></text></g>
<g transform="translate(261.9,2556.8) scale(1,1.07)"><text><tspan class="b" x="-0.53" y="0" font-size="47.5" style="letter-spacing:-0.86px">T=173 </tspan><tspan class="b" x="145.02" y="0" font-size="47.5">K</tspan></text><rect x="56.48" y="-6.45" width="9.09" height="7.65" fill="#fff"/><rect x="72.1" y="-6.45" width="8.49" height="7.65" fill="#fff"/></g>
<g transform="translate(261.9,2706.6) scale(1,1.07)"><text><tspan class="b" x="-0.53" y="0" font-size="47.5" style="letter-spacing:-0.86px">T=573 </tspan><tspan class="b" x="145.02" y="0" font-size="47.5">K</tspan></text></g>
<g transform="translate(267.1,2851.7) scale(1,1.07)"><text><tspan class="b" x="-0.53" y="0" font-size="47.5" style="letter-spacing:-0.86px">T=523 </tspan><tspan class="b" x="145.02" y="0" font-size="47.5">K</tspan></text></g>
<g transform="translate(267.1,3020.4) scale(1,1.07)"><text><tspan class="b" x="-0.53" y="0" font-size="47.5" style="letter-spacing:-0.86px">T=473 </tspan><tspan class="b" x="145.02" y="0" font-size="47.5">K</tspan></text></g>
</svg></body></html>
